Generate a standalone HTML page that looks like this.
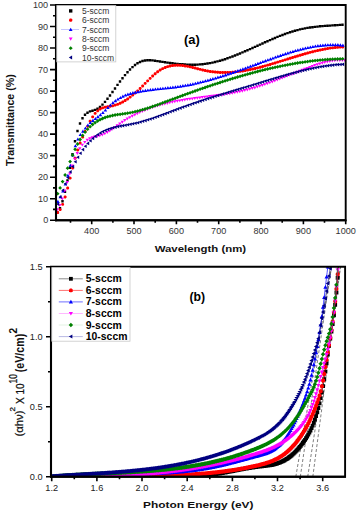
<!DOCTYPE html>
<html><head><meta charset="utf-8"><style>
html,body{margin:0;padding:0;background:#fff;width:357px;height:514px;overflow:hidden;position:relative}
svg text{font-family:"Liberation Sans",sans-serif}
</style></head><body>
<svg width="357" height="514" viewBox="0 0 357 514" style="position:absolute;left:0;top:0">
<rect width="357" height="514" fill="#fff"/>
<g clip-path="url(#ct)">
<path d="M56.3 211.2h2.4v2.4h-2.4zM58.8 207h2.4v2.4h-2.4zM61.3 200h2.4v2.4h-2.4zM63.8 190.6h2.4v2.4h-2.4zM66.3 179.3h2.4v2.4h-2.4zM68.8 166.5h2.4v2.4h-2.4zM71.3 152.9h2.4v2.4h-2.4zM73.8 140h2.4v2.4h-2.4zM76.3 129.8h2.4v2.4h-2.4zM78.8 122.3h2.4v2.4h-2.4zM81.3 117h2.4v2.4h-2.4zM83.8 113.6h2.4v2.4h-2.4zM86.3 111.5h2.4v2.4h-2.4zM88.8 110.2h2.4v2.4h-2.4zM91.3 109.5h2.4v2.4h-2.4zM93.8 108.7h2.4v2.4h-2.4zM96.3 107.5h2.4v2.4h-2.4zM98.8 105.7h2.4v2.4h-2.4zM101.3 103.4h2.4v2.4h-2.4zM103.8 100.7h2.4v2.4h-2.4zM106.3 97.6h2.4v2.4h-2.4zM108.8 94.3h2.4v2.4h-2.4zM111.3 90.8h2.4v2.4h-2.4zM113.8 87.3h2.4v2.4h-2.4zM116.3 83.7h2.4v2.4h-2.4zM118.8 80.3h2.4v2.4h-2.4zM121.3 77h2.4v2.4h-2.4zM123.8 73.9h2.4v2.4h-2.4zM126.3 71h2.4v2.4h-2.4zM128.8 68.3h2.4v2.4h-2.4zM131.3 65.9h2.4v2.4h-2.4zM133.8 63.8h2.4v2.4h-2.4zM136.3 62.1h2.4v2.4h-2.4zM138.8 60.8h2.4v2.4h-2.4zM141.3 59.8h2.4v2.4h-2.4zM143.8 59.3h2.4v2.4h-2.4zM146.3 59h2.4v2.4h-2.4zM148.8 59h2.4v2.4h-2.4zM151.3 59.2h2.4v2.4h-2.4zM153.8 59.5h2.4v2.4h-2.4zM156.3 59.9h2.4v2.4h-2.4zM158.8 60.3h2.4v2.4h-2.4zM161.3 60.7h2.4v2.4h-2.4zM163.8 61.1h2.4v2.4h-2.4zM166.3 61.4h2.4v2.4h-2.4zM168.8 61.8h2.4v2.4h-2.4zM171.3 62.1h2.4v2.4h-2.4zM173.8 62.4h2.4v2.4h-2.4zM176.3 62.7h2.4v2.4h-2.4zM178.8 62.9h2.4v2.4h-2.4zM181.3 63.1h2.4v2.4h-2.4zM183.8 63.3h2.4v2.4h-2.4zM186.3 63.4h2.4v2.4h-2.4zM188.8 63.5h2.4v2.4h-2.4zM191.3 63.5h2.4v2.4h-2.4zM193.8 63.5h2.4v2.4h-2.4zM196.3 63.4h2.4v2.4h-2.4zM198.8 63.2h2.4v2.4h-2.4zM201.3 63h2.4v2.4h-2.4zM203.8 62.7h2.4v2.4h-2.4zM206.3 62.3h2.4v2.4h-2.4zM208.8 61.9h2.4v2.4h-2.4zM211.3 61.4h2.4v2.4h-2.4zM213.8 60.8h2.4v2.4h-2.4zM216.3 60.2h2.4v2.4h-2.4zM218.8 59.5h2.4v2.4h-2.4zM221.3 58.8h2.4v2.4h-2.4zM223.8 58h2.4v2.4h-2.4zM226.3 57.1h2.4v2.4h-2.4zM228.8 56.2h2.4v2.4h-2.4zM231.3 55.3h2.4v2.4h-2.4zM233.8 54.3h2.4v2.4h-2.4zM236.3 53.3h2.4v2.4h-2.4zM238.8 52.3h2.4v2.4h-2.4zM241.3 51.2h2.4v2.4h-2.4zM243.8 50.1h2.4v2.4h-2.4zM246.3 49h2.4v2.4h-2.4zM248.8 47.9h2.4v2.4h-2.4zM251.3 46.8h2.4v2.4h-2.4zM253.8 45.7h2.4v2.4h-2.4zM256.3 44.5h2.4v2.4h-2.4zM258.8 43.4h2.4v2.4h-2.4zM261.3 42.3h2.4v2.4h-2.4zM263.8 41.1h2.4v2.4h-2.4zM266.3 40h2.4v2.4h-2.4zM268.8 38.9h2.4v2.4h-2.4zM271.3 37.8h2.4v2.4h-2.4zM273.8 36.8h2.4v2.4h-2.4zM276.3 35.7h2.4v2.4h-2.4zM278.8 34.7h2.4v2.4h-2.4zM281.3 33.8h2.4v2.4h-2.4zM283.8 32.8h2.4v2.4h-2.4zM286.3 31.9h2.4v2.4h-2.4zM288.8 31.1h2.4v2.4h-2.4zM291.3 30.3h2.4v2.4h-2.4zM293.8 29.6h2.4v2.4h-2.4zM296.3 28.9h2.4v2.4h-2.4zM298.8 28.2h2.4v2.4h-2.4zM301.3 27.7h2.4v2.4h-2.4zM303.8 27.2h2.4v2.4h-2.4zM306.3 26.7h2.4v2.4h-2.4zM308.8 26.3h2.4v2.4h-2.4zM311.3 26h2.4v2.4h-2.4zM313.8 25.7h2.4v2.4h-2.4zM316.3 25.4h2.4v2.4h-2.4zM318.8 25.1h2.4v2.4h-2.4zM321.3 24.9h2.4v2.4h-2.4zM323.8 24.7h2.4v2.4h-2.4zM326.3 24.5h2.4v2.4h-2.4zM328.8 24.4h2.4v2.4h-2.4zM331.3 24.2h2.4v2.4h-2.4zM333.8 24.1h2.4v2.4h-2.4zM336.3 23.9h2.4v2.4h-2.4zM338.8 23.7h2.4v2.4h-2.4zM341.3 23.5h2.4v2.4h-2.4z" fill="#000000"/>
<path d="M57 211.1h1.3l0.8 0.8v1.3l-0.8 0.8h-1.3l-0.8 -0.8v-1.3zM59.5 208.2h1.3l0.8 0.8v1.3l-0.8 0.8h-1.3l-0.8 -0.8v-1.3zM62 202.9h1.3l0.8 0.8v1.3l-0.8 0.8h-1.3l-0.8 -0.8v-1.3zM64.5 195.5h1.3l0.8 0.8v1.3l-0.8 0.8h-1.3l-0.8 -0.8v-1.3zM67 186.6h1.3l0.8 0.8v1.3l-0.8 0.8h-1.3l-0.8 -0.8v-1.3zM69.5 176.7h1.3l0.8 0.8v1.3l-0.8 0.8h-1.3l-0.8 -0.8v-1.3zM72 166.5h1.3l0.8 0.8v1.3l-0.8 0.8h-1.3l-0.8 -0.8v-1.3zM74.5 156.8h1.3l0.8 0.8v1.3l-0.8 0.8h-1.3l-0.8 -0.8v-1.3zM77 148.6h1.3l0.8 0.8v1.3l-0.8 0.8h-1.3l-0.8 -0.8v-1.3zM79.5 141.6h1.3l0.8 0.8v1.3l-0.8 0.8h-1.3l-0.8 -0.8v-1.3zM82 135.6h1.3l0.8 0.8v1.3l-0.8 0.8h-1.3l-0.8 -0.8v-1.3zM84.5 130.1h1.3l0.8 0.8v1.3l-0.8 0.8h-1.3l-0.8 -0.8v-1.3zM87 124.9h1.3l0.8 0.8v1.3l-0.8 0.8h-1.3l-0.8 -0.8v-1.3zM89.5 119.8h1.3l0.8 0.8v1.3l-0.8 0.8h-1.3l-0.8 -0.8v-1.3zM92 115.4h1.3l0.8 0.8v1.3l-0.8 0.8h-1.3l-0.8 -0.8v-1.3zM94.5 111.9h1.3l0.8 0.8v1.3l-0.8 0.8h-1.3l-0.8 -0.8v-1.3zM97 109.4h1.3l0.8 0.8v1.3l-0.8 0.8h-1.3l-0.8 -0.8v-1.3zM99.5 107.6h1.3l0.8 0.8v1.3l-0.8 0.8h-1.3l-0.8 -0.8v-1.3zM102 106.4h1.3l0.8 0.8v1.3l-0.8 0.8h-1.3l-0.8 -0.8v-1.3zM104.5 105.7h1.3l0.8 0.8v1.3l-0.8 0.8h-1.3l-0.8 -0.8v-1.3zM107 105.2h1.3l0.8 0.8v1.3l-0.8 0.8h-1.3l-0.8 -0.8v-1.3zM109.5 104.8h1.3l0.8 0.8v1.3l-0.8 0.8h-1.3l-0.8 -0.8v-1.3zM112 104.4h1.3l0.8 0.8v1.3l-0.8 0.8h-1.3l-0.8 -0.8v-1.3zM114.5 103.7h1.3l0.8 0.8v1.3l-0.8 0.8h-1.3l-0.8 -0.8v-1.3zM117 102.9h1.3l0.8 0.8v1.3l-0.8 0.8h-1.3l-0.8 -0.8v-1.3zM119.5 101.8h1.3l0.8 0.8v1.3l-0.8 0.8h-1.3l-0.8 -0.8v-1.3zM122 100.6h1.3l0.8 0.8v1.3l-0.8 0.8h-1.3l-0.8 -0.8v-1.3zM124.5 99.1h1.3l0.8 0.8v1.3l-0.8 0.8h-1.3l-0.8 -0.8v-1.3zM127 97.5h1.3l0.8 0.8v1.3l-0.8 0.8h-1.3l-0.8 -0.8v-1.3zM129.5 95.7h1.3l0.8 0.8v1.3l-0.8 0.8h-1.3l-0.8 -0.8v-1.3zM132 93.7h1.3l0.8 0.8v1.3l-0.8 0.8h-1.3l-0.8 -0.8v-1.3zM134.5 91.6h1.3l0.8 0.8v1.3l-0.8 0.8h-1.3l-0.8 -0.8v-1.3zM137 89.4h1.3l0.8 0.8v1.3l-0.8 0.8h-1.3l-0.8 -0.8v-1.3zM139.5 87h1.3l0.8 0.8v1.3l-0.8 0.8h-1.3l-0.8 -0.8v-1.3zM142 84.5h1.3l0.8 0.8v1.3l-0.8 0.8h-1.3l-0.8 -0.8v-1.3zM144.5 81.9h1.3l0.8 0.8v1.3l-0.8 0.8h-1.3l-0.8 -0.8v-1.3zM147 79.4h1.3l0.8 0.8v1.3l-0.8 0.8h-1.3l-0.8 -0.8v-1.3zM149.5 76.9h1.3l0.8 0.8v1.3l-0.8 0.8h-1.3l-0.8 -0.8v-1.3zM152 74.5h1.3l0.8 0.8v1.3l-0.8 0.8h-1.3l-0.8 -0.8v-1.3zM154.5 72.3h1.3l0.8 0.8v1.3l-0.8 0.8h-1.3l-0.8 -0.8v-1.3zM157 70.3h1.3l0.8 0.8v1.3l-0.8 0.8h-1.3l-0.8 -0.8v-1.3zM159.5 68.6h1.3l0.8 0.8v1.3l-0.8 0.8h-1.3l-0.8 -0.8v-1.3zM162 67.2h1.3l0.8 0.8v1.3l-0.8 0.8h-1.3l-0.8 -0.8v-1.3zM164.5 66.1h1.3l0.8 0.8v1.3l-0.8 0.8h-1.3l-0.8 -0.8v-1.3zM167 65.2h1.3l0.8 0.8v1.3l-0.8 0.8h-1.3l-0.8 -0.8v-1.3zM169.5 64.5h1.3l0.8 0.8v1.3l-0.8 0.8h-1.3l-0.8 -0.8v-1.3zM172 64.1h1.3l0.8 0.8v1.3l-0.8 0.8h-1.3l-0.8 -0.8v-1.3zM174.5 63.9h1.3l0.8 0.8v1.3l-0.8 0.8h-1.3l-0.8 -0.8v-1.3zM177 63.8h1.3l0.8 0.8v1.3l-0.8 0.8h-1.3l-0.8 -0.8v-1.3zM179.5 63.9h1.3l0.8 0.8v1.3l-0.8 0.8h-1.3l-0.8 -0.8v-1.3zM182 64.1h1.3l0.8 0.8v1.3l-0.8 0.8h-1.3l-0.8 -0.8v-1.3zM184.5 64.5h1.3l0.8 0.8v1.3l-0.8 0.8h-1.3l-0.8 -0.8v-1.3zM187 64.9h1.3l0.8 0.8v1.3l-0.8 0.8h-1.3l-0.8 -0.8v-1.3zM189.5 65.4h1.3l0.8 0.8v1.3l-0.8 0.8h-1.3l-0.8 -0.8v-1.3zM192 66h1.3l0.8 0.8v1.3l-0.8 0.8h-1.3l-0.8 -0.8v-1.3zM194.5 66.6h1.3l0.8 0.8v1.3l-0.8 0.8h-1.3l-0.8 -0.8v-1.3zM197 67.3h1.3l0.8 0.8v1.3l-0.8 0.8h-1.3l-0.8 -0.8v-1.3zM199.5 67.9h1.3l0.8 0.8v1.3l-0.8 0.8h-1.3l-0.8 -0.8v-1.3zM202 68.5h1.3l0.8 0.8v1.3l-0.8 0.8h-1.3l-0.8 -0.8v-1.3zM204.5 69.1h1.3l0.8 0.8v1.3l-0.8 0.8h-1.3l-0.8 -0.8v-1.3zM207 69.6h1.3l0.8 0.8v1.3l-0.8 0.8h-1.3l-0.8 -0.8v-1.3zM209.5 70h1.3l0.8 0.8v1.3l-0.8 0.8h-1.3l-0.8 -0.8v-1.3zM212 70.3h1.3l0.8 0.8v1.3l-0.8 0.8h-1.3l-0.8 -0.8v-1.3zM214.5 70.6h1.3l0.8 0.8v1.3l-0.8 0.8h-1.3l-0.8 -0.8v-1.3zM217 70.8h1.3l0.8 0.8v1.3l-0.8 0.8h-1.3l-0.8 -0.8v-1.3zM219.5 71h1.3l0.8 0.8v1.3l-0.8 0.8h-1.3l-0.8 -0.8v-1.3zM222 71h1.3l0.8 0.8v1.3l-0.8 0.8h-1.3l-0.8 -0.8v-1.3zM224.5 71h1.3l0.8 0.8v1.3l-0.8 0.8h-1.3l-0.8 -0.8v-1.3zM227 71h1.3l0.8 0.8v1.3l-0.8 0.8h-1.3l-0.8 -0.8v-1.3zM229.5 70.9h1.3l0.8 0.8v1.3l-0.8 0.8h-1.3l-0.8 -0.8v-1.3zM232 70.7h1.3l0.8 0.8v1.3l-0.8 0.8h-1.3l-0.8 -0.8v-1.3zM234.5 70.5h1.3l0.8 0.8v1.3l-0.8 0.8h-1.3l-0.8 -0.8v-1.3zM237 70.2h1.3l0.8 0.8v1.3l-0.8 0.8h-1.3l-0.8 -0.8v-1.3zM239.5 69.9h1.3l0.8 0.8v1.3l-0.8 0.8h-1.3l-0.8 -0.8v-1.3zM242 69.5h1.3l0.8 0.8v1.3l-0.8 0.8h-1.3l-0.8 -0.8v-1.3zM244.5 69.1h1.3l0.8 0.8v1.3l-0.8 0.8h-1.3l-0.8 -0.8v-1.3zM247 68.6h1.3l0.8 0.8v1.3l-0.8 0.8h-1.3l-0.8 -0.8v-1.3zM249.5 68.1h1.3l0.8 0.8v1.3l-0.8 0.8h-1.3l-0.8 -0.8v-1.3zM252 67.6h1.3l0.8 0.8v1.3l-0.8 0.8h-1.3l-0.8 -0.8v-1.3zM254.5 67h1.3l0.8 0.8v1.3l-0.8 0.8h-1.3l-0.8 -0.8v-1.3zM257 66.4h1.3l0.8 0.8v1.3l-0.8 0.8h-1.3l-0.8 -0.8v-1.3zM259.5 65.8h1.3l0.8 0.8v1.3l-0.8 0.8h-1.3l-0.8 -0.8v-1.3zM262 65.1h1.3l0.8 0.8v1.3l-0.8 0.8h-1.3l-0.8 -0.8v-1.3zM264.5 64.4h1.3l0.8 0.8v1.3l-0.8 0.8h-1.3l-0.8 -0.8v-1.3zM267 63.7h1.3l0.8 0.8v1.3l-0.8 0.8h-1.3l-0.8 -0.8v-1.3zM269.5 63h1.3l0.8 0.8v1.3l-0.8 0.8h-1.3l-0.8 -0.8v-1.3zM272 62.2h1.3l0.8 0.8v1.3l-0.8 0.8h-1.3l-0.8 -0.8v-1.3zM274.5 61.5h1.3l0.8 0.8v1.3l-0.8 0.8h-1.3l-0.8 -0.8v-1.3zM277 60.7h1.3l0.8 0.8v1.3l-0.8 0.8h-1.3l-0.8 -0.8v-1.3zM279.5 59.9h1.3l0.8 0.8v1.3l-0.8 0.8h-1.3l-0.8 -0.8v-1.3zM282 59.2h1.3l0.8 0.8v1.3l-0.8 0.8h-1.3l-0.8 -0.8v-1.3zM284.5 58.4h1.3l0.8 0.8v1.3l-0.8 0.8h-1.3l-0.8 -0.8v-1.3zM287 57.6h1.3l0.8 0.8v1.3l-0.8 0.8h-1.3l-0.8 -0.8v-1.3zM289.5 56.8h1.3l0.8 0.8v1.3l-0.8 0.8h-1.3l-0.8 -0.8v-1.3zM292 56h1.3l0.8 0.8v1.3l-0.8 0.8h-1.3l-0.8 -0.8v-1.3zM294.5 55.3h1.3l0.8 0.8v1.3l-0.8 0.8h-1.3l-0.8 -0.8v-1.3zM297 54.5h1.3l0.8 0.8v1.3l-0.8 0.8h-1.3l-0.8 -0.8v-1.3zM299.5 53.8h1.3l0.8 0.8v1.3l-0.8 0.8h-1.3l-0.8 -0.8v-1.3zM302 53h1.3l0.8 0.8v1.3l-0.8 0.8h-1.3l-0.8 -0.8v-1.3zM304.5 52.3h1.3l0.8 0.8v1.3l-0.8 0.8h-1.3l-0.8 -0.8v-1.3zM307 51.6h1.3l0.8 0.8v1.3l-0.8 0.8h-1.3l-0.8 -0.8v-1.3zM309.5 50.9h1.3l0.8 0.8v1.3l-0.8 0.8h-1.3l-0.8 -0.8v-1.3zM312 50.3h1.3l0.8 0.8v1.3l-0.8 0.8h-1.3l-0.8 -0.8v-1.3zM314.5 49.7h1.3l0.8 0.8v1.3l-0.8 0.8h-1.3l-0.8 -0.8v-1.3zM317 49.1h1.3l0.8 0.8v1.3l-0.8 0.8h-1.3l-0.8 -0.8v-1.3zM319.5 48.6h1.3l0.8 0.8v1.3l-0.8 0.8h-1.3l-0.8 -0.8v-1.3zM322 48h1.3l0.8 0.8v1.3l-0.8 0.8h-1.3l-0.8 -0.8v-1.3zM324.5 47.6h1.3l0.8 0.8v1.3l-0.8 0.8h-1.3l-0.8 -0.8v-1.3zM327 47.1h1.3l0.8 0.8v1.3l-0.8 0.8h-1.3l-0.8 -0.8v-1.3zM329.5 46.7h1.3l0.8 0.8v1.3l-0.8 0.8h-1.3l-0.8 -0.8v-1.3zM332 46.4h1.3l0.8 0.8v1.3l-0.8 0.8h-1.3l-0.8 -0.8v-1.3zM334.5 46.1h1.3l0.8 0.8v1.3l-0.8 0.8h-1.3l-0.8 -0.8v-1.3zM337 45.9h1.3l0.8 0.8v1.3l-0.8 0.8h-1.3l-0.8 -0.8v-1.3zM339.5 45.7h1.3l0.8 0.8v1.3l-0.8 0.8h-1.3l-0.8 -0.8v-1.3zM342 45.6h1.3l0.8 0.8v1.3l-0.8 0.8h-1.3l-0.8 -0.8v-1.3z" fill="#ff0000"/>
<path d="M57.9 199.8L59.7 202.9H56.1zM60.4 195L62.2 198.2H58.6zM62.9 189.4L64.7 192.6H61.1zM65.4 182.4L67.2 185.5H63.6zM67.9 173.7L69.7 176.8H66.1zM70.4 163.7L72.2 166.8H68.6zM72.9 153.3L74.7 156.5H71.1zM75.4 144.2L77.2 147.3H73.6zM77.9 137.4L79.7 140.5H76.1zM80.4 132.9L82.2 136H78.6zM82.9 129.6L84.7 132.7H81.1zM85.4 126.5L87.2 129.6H83.6zM87.9 123.5L89.7 126.6H86.1zM90.4 120.9L92.2 124.1H88.6zM92.9 118.8L94.7 121.9H91.1zM95.4 116.9L97.2 120H93.6zM97.9 115.1L99.7 118.2H96.1zM100.4 113.1L102.2 116.3H98.6zM102.9 110.9L104.7 114.1H101.1zM105.4 108.5L107.2 111.6H103.6zM107.9 106L109.7 109.1H106.1zM110.4 103.5L112.2 106.6H108.6zM112.9 101.1L114.7 104.3H111.1zM115.4 99.1L117.2 102.2H113.6zM117.9 97.4L119.7 100.5H116.1zM120.4 95.9L122.2 99H118.6zM122.9 94.6L124.7 97.7H121.1zM125.4 93.5L127.2 96.6H123.6zM127.9 92.6L129.7 95.7H126.1zM130.4 91.8L132.2 94.9H128.6zM132.9 91.1L134.7 94.3H131.1zM135.4 90.6L137.2 93.7H133.6zM137.9 90.1L139.7 93.2H136.1zM140.4 89.6L142.2 92.7H138.6zM142.9 89.2L144.7 92.3H141.1zM145.4 88.8L147.2 91.9H143.6zM147.9 88.4L149.7 91.5H146.1zM150.4 88.1L152.2 91.2H148.6zM152.9 87.8L154.7 90.9H151.1zM155.4 87.5L157.2 90.6H153.6zM157.9 87.2L159.7 90.3H156.1zM160.4 86.9L162.2 90.1H158.6zM162.9 86.7L164.7 89.8H161.1zM165.4 86.4L167.2 89.5H163.6zM167.9 86.1L169.7 89.3H166.1zM170.4 85.9L172.2 89H168.6zM172.9 85.6L174.7 88.7H171.1zM175.4 85.2L177.2 88.4H173.6zM177.9 84.9L179.7 88H176.1zM180.4 84.5L182.2 87.7H178.6zM182.9 84.1L184.7 87.3H181.1zM185.4 83.7L187.2 86.8H183.6zM187.9 83.2L189.7 86.4H186.1zM190.4 82.7L192.2 85.9H188.6zM192.9 82.2L194.7 85.4H191.1zM195.4 81.7L197.2 84.8H193.6zM197.9 81.1L199.7 84.2H196.1zM200.4 80.5L202.2 83.6H198.6zM202.9 79.9L204.7 83H201.1zM205.4 79.2L207.2 82.3H203.6zM207.9 78.5L209.7 81.7H206.1zM210.4 77.8L212.2 81H208.6zM212.9 77.1L214.7 80.3H211.1zM215.4 76.4L217.2 79.5H213.6zM217.9 75.6L219.7 78.8H216.1zM220.4 74.9L222.2 78H218.6zM222.9 74.1L224.7 77.2H221.1zM225.4 73.3L227.2 76.4H223.6zM227.9 72.4L229.7 75.6H226.1zM230.4 71.6L232.2 74.7H228.6zM232.9 70.8L234.7 73.9H231.1zM235.4 69.9L237.2 73H233.6zM237.9 69L239.7 72.2H236.1zM240.4 68.2L242.2 71.3H238.6zM242.9 67.3L244.7 70.4H241.1zM245.4 66.4L247.2 69.5H243.6zM247.9 65.5L249.7 68.6H246.1zM250.4 64.6L252.2 67.7H248.6zM252.9 63.7L254.7 66.8H251.1zM255.4 62.7L257.2 65.9H253.6zM257.9 61.8L259.7 65H256.1zM260.4 60.9L262.2 64H258.6zM262.9 60L264.7 63.1H261.1zM265.4 59.1L267.2 62.2H263.6zM267.9 58.2L269.7 61.3H266.1zM270.4 57.3L272.2 60.4H268.6zM272.9 56.4L274.7 59.5H271.1zM275.4 55.5L277.2 58.6H273.6zM277.9 54.6L279.7 57.7H276.1zM280.4 53.7L282.2 56.9H278.6zM282.9 52.9L284.7 56H281.1zM285.4 52.1L287.2 55.2H283.6zM287.9 51.3L289.7 54.4H286.1zM290.4 50.5L292.2 53.6H288.6zM292.9 49.7L294.7 52.9H291.1zM295.4 49L297.2 52.1H293.6zM297.9 48.3L299.7 51.5H296.1zM300.4 47.7L302.2 50.8H298.6zM302.9 47L304.7 50.2H301.1zM305.4 46.4L307.2 49.6H303.6zM307.9 45.9L309.7 49H306.1zM310.4 45.4L312.2 48.5H308.6zM312.9 44.9L314.7 48.1H311.1zM315.4 44.5L317.2 47.6H313.6zM317.9 44.1L319.7 47.3H316.1zM320.4 43.8L322.2 46.9H318.6zM322.9 43.5L324.7 46.7H321.1zM325.4 43.3L327.2 46.5H323.6zM327.9 43.2L329.7 46.3H326.1zM330.4 43.1L332.2 46.2H328.6zM332.9 43L334.7 46.2H331.1zM335.4 43.1L337.2 46.2H333.6zM337.9 43.1L339.7 46.3H336.1zM340.4 43.3L342.2 46.4H338.6zM342.9 43.5L344.7 46.7H341.1z" fill="#0000ff"/>
<path d="M57.3 211.3L59 208.3H55.6zM59.8 206.9L61.5 204H58.1zM62.3 200.4L64 197.5H60.6zM64.8 192.5L66.5 189.6H63.1zM67.3 184L69 181H65.6zM69.8 175.4L71.5 172.5H68.1zM72.3 167.5L74 164.5H70.6zM74.8 160.6L76.5 157.7H73.1zM77.3 154.9L79 152H75.6zM79.8 150.3L81.5 147.3H78.1zM82.3 146.6L84 143.7H80.6zM84.8 143.8L86.5 140.9H83.1zM87.3 141.7L89 138.8H85.6zM89.8 140.3L91.5 137.3H88.1zM92.3 139.2L94 136.3H90.6zM94.8 138.5L96.5 135.5H93.1zM97.3 137.9L99 134.9H95.6zM99.8 137.2L101.5 134.3H98.1zM102.3 136.4L104 133.5H100.6zM104.8 135.3L106.5 132.4H103.1zM107.3 134L109 131H105.6zM109.8 132.4L111.5 129.5H108.1zM112.3 130.7L114 127.8H110.6zM114.8 129L116.5 126H113.1zM117.3 127.2L119 124.2H115.6zM119.8 125.4L121.5 122.5H118.1zM122.3 123.7L124 120.8H120.6zM124.8 122.1L126.5 119.1H123.1zM127.3 120.6L129 117.6H125.6zM129.8 119.1L131.5 116.2H128.1zM132.3 117.7L134 114.8H130.6zM134.8 116.4L136.5 113.5H133.1zM137.3 115.2L139 112.2H135.6zM139.8 114L141.5 111.1H138.1zM142.3 112.9L144 110H140.6zM144.8 111.9L146.5 108.9H143.1zM147.3 110.9L149 107.9H145.6zM149.8 110L151.5 107H148.1zM152.3 109.1L154 106.2H150.6zM154.8 108.3L156.5 105.3H153.1zM157.3 107.5L159 104.6H155.6zM159.8 106.8L161.5 103.8H158.1zM162.3 106.1L164 103.2H160.6zM164.8 105.5L166.5 102.5H163.1zM167.3 104.9L169 101.9H165.6zM169.8 104.3L171.5 101.3H168.1zM172.3 103.7L174 100.8H170.6zM174.8 103.2L176.5 100.3H173.1zM177.3 102.8L179 99.8H175.6zM179.8 102.3L181.5 99.4H178.1zM182.3 101.9L184 98.9H180.6zM184.8 101.5L186.5 98.5H183.1zM187.3 101.1L189 98.1H185.6zM189.8 100.7L191.5 97.8H188.1zM192.3 100.4L194 97.4H190.6zM194.8 100L196.5 97.1H193.1zM197.3 99.7L199 96.7H195.6zM199.8 99.4L201.5 96.4H198.1zM202.3 99L204 96.1H200.6zM204.8 98.7L206.5 95.8H203.1zM207.3 98.4L209 95.4H205.6zM209.8 98.1L211.5 95.1H208.1zM212.3 97.7L214 94.8H210.6zM214.8 97.4L216.5 94.5H213.1zM217.3 97.1L219 94.1H215.6zM219.8 96.7L221.5 93.8H218.1zM222.3 96.4L224 93.4H220.6zM224.8 96L226.5 93H223.1zM227.3 95.6L229 92.6H225.6zM229.8 95.2L231.5 92.2H228.1zM232.3 94.7L234 91.8H230.6zM234.8 94.3L236.5 91.3H233.1zM237.3 93.8L239 90.8H235.6zM239.8 93.2L241.5 90.3H238.1zM242.3 92.7L244 89.7H240.6zM244.8 92.1L246.5 89.1H243.1zM247.3 91.5L249 88.5H245.6zM249.8 90.8L251.5 87.8H248.1zM252.3 90.1L254 87.1H250.6zM254.8 89.4L256.5 86.4H253.1zM257.3 88.6L259 85.6H255.6zM259.8 87.8L261.5 84.8H258.1zM262.3 87L264 84H260.6zM264.8 86.1L266.5 83.2H263.1zM267.3 85.2L269 82.3H265.6zM269.8 84.3L271.5 81.4H268.1zM272.3 83.4L274 80.5H270.6zM274.8 82.5L276.5 79.5H273.1zM277.3 81.5L279 78.6H275.6zM279.8 80.6L281.5 77.6H278.1zM282.3 79.6L284 76.6H280.6zM284.8 78.6L286.5 75.7H283.1zM287.3 77.6L289 74.7H285.6zM289.8 76.6L291.5 73.7H288.1zM292.3 75.6L294 72.7H290.6zM294.8 74.7L296.5 71.7H293.1zM297.3 73.7L299 70.7H295.6zM299.8 72.7L301.5 69.7H298.1zM302.3 71.7L304 68.8H300.6zM304.8 70.8L306.5 67.8H303.1zM307.3 69.8L309 66.9H305.6zM309.8 68.9L311.5 65.9H308.1zM312.3 68L314 65H310.6zM314.8 67.1L316.5 64.1H313.1zM317.3 66.2L319 63.3H315.6zM319.8 65.4L321.5 62.5H318.1zM322.3 64.7L324 61.8H320.6zM324.8 64L326.5 61.1H323.1zM327.3 63.5L329 60.5H325.6zM329.8 62.9L331.5 60H328.1zM332.3 62.5L334 59.6H330.6zM334.8 62.2L336.5 59.2H333.1zM337.3 62L339 59H335.6zM339.8 61.9L341.5 58.9H338.1zM342.3 61.9L344 59H340.6zM344.8 62.1L346.5 59.1H343.1z" fill="#ff00ff"/>
<path d="M57.6 191.8L59.5 193.7L57.6 195.5L55.7 193.7zM60.1 186L62 187.9L60.1 189.8L58.2 187.9zM62.6 179.7L64.5 181.6L62.6 183.5L60.7 181.6zM65.1 173.1L67 175L65.1 176.9L63.2 175zM67.6 166.3L69.5 168.2L67.6 170.1L65.7 168.2zM70.1 159.7L72 161.6L70.1 163.5L68.2 161.6zM72.6 153.3L74.5 155.2L72.6 157.1L70.7 155.2zM75.1 147.4L77 149.3L75.1 151.2L73.2 149.3zM77.6 142.1L79.5 144L77.6 145.9L75.7 144zM80.1 137.6L82 139.5L80.1 141.4L78.2 139.5zM82.6 133.6L84.5 135.5L82.6 137.4L80.7 135.5zM85.1 130.2L87 132.1L85.1 134L83.2 132.1zM87.6 127.3L89.5 129.2L87.6 131.1L85.7 129.2zM90.1 124.8L92 126.7L90.1 128.6L88.2 126.7zM92.6 122.6L94.5 124.5L92.6 126.4L90.7 124.5zM95.1 120.8L97 122.7L95.1 124.6L93.2 122.7zM97.6 119.1L99.5 121L97.6 122.9L95.7 121zM100.1 117.8L102 119.7L100.1 121.6L98.2 119.7zM102.6 116.6L104.5 118.5L102.6 120.4L100.7 118.5zM105.1 115.6L107 117.5L105.1 119.4L103.2 117.5zM107.6 114.8L109.5 116.7L107.6 118.6L105.7 116.7zM110.1 114.2L112 116.1L110.1 118L108.2 116.1zM112.6 113.6L114.5 115.5L112.6 117.4L110.7 115.5zM115.1 113.1L117 115L115.1 116.9L113.2 115zM117.6 112.7L119.5 114.6L117.6 116.5L115.7 114.6zM120.1 112.4L122 114.3L120.1 116.2L118.2 114.3zM122.6 112L124.5 113.9L122.6 115.8L120.7 113.9zM125.1 111.7L127 113.6L125.1 115.5L123.2 113.6zM127.6 111.3L129.5 113.2L127.6 115.1L125.7 113.2zM130.1 110.9L132 112.8L130.1 114.6L128.2 112.8zM132.6 110.4L134.5 112.3L132.6 114.1L130.7 112.3zM135.1 109.8L137 111.7L135.1 113.6L133.2 111.7zM137.6 109.2L139.5 111.1L137.6 113L135.7 111.1zM140.1 108.5L142 110.4L140.1 112.3L138.2 110.4zM142.6 107.8L144.5 109.7L142.6 111.6L140.7 109.7zM145.1 107.1L147 109L145.1 110.9L143.2 109zM147.6 106.3L149.5 108.2L147.6 110.1L145.7 108.2zM150.1 105.5L152 107.4L150.1 109.3L148.2 107.4zM152.6 104.6L154.5 106.5L152.6 108.4L150.7 106.5zM155.1 103.8L157 105.7L155.1 107.6L153.2 105.7zM157.6 102.9L159.5 104.8L157.6 106.7L155.7 104.8zM160.1 102L162 103.9L160.1 105.8L158.2 103.9zM162.6 101L164.5 102.9L162.6 104.8L160.7 102.9zM165.1 100.1L167 102L165.1 103.9L163.2 102zM167.6 99.2L169.5 101.1L167.6 103L165.7 101.1zM170.1 98.2L172 100.1L170.1 102L168.2 100.1zM172.6 97.3L174.5 99.2L172.6 101.1L170.7 99.2zM175.1 96.4L177 98.3L175.1 100.2L173.2 98.3zM177.6 95.4L179.5 97.3L177.6 99.2L175.7 97.3zM180.1 94.5L182 96.4L180.1 98.3L178.2 96.4zM182.6 93.6L184.5 95.5L182.6 97.4L180.7 95.5zM185.1 92.7L187 94.6L185.1 96.5L183.2 94.6zM187.6 91.8L189.5 93.7L187.6 95.6L185.7 93.7zM190.1 90.9L192 92.8L190.1 94.7L188.2 92.8zM192.6 90L194.5 91.9L192.6 93.8L190.7 91.9zM195.1 89.1L197 91L195.1 92.9L193.2 91zM197.6 88.2L199.5 90.1L197.6 92L195.7 90.1zM200.1 87.3L202 89.2L200.1 91.1L198.2 89.2zM202.6 86.5L204.5 88.3L202.6 90.2L200.7 88.3zM205.1 85.6L207 87.5L205.1 89.4L203.2 87.5zM207.6 84.7L209.5 86.6L207.6 88.5L205.7 86.6zM210.1 83.9L212 85.8L210.1 87.7L208.2 85.8zM212.6 83L214.5 84.9L212.6 86.8L210.7 84.9zM215.1 82.2L217 84.1L215.1 86L213.2 84.1zM217.6 81.4L219.5 83.3L217.6 85.2L215.7 83.3zM220.1 80.6L222 82.5L220.1 84.4L218.2 82.5zM222.6 79.8L224.5 81.7L222.6 83.6L220.7 81.7zM225.1 79L227 80.9L225.1 82.8L223.2 80.9zM227.6 78.2L229.5 80.1L227.6 82L225.7 80.1zM230.1 77.4L232 79.3L230.1 81.2L228.2 79.3zM232.6 76.6L234.5 78.5L232.6 80.4L230.7 78.5zM235.1 75.9L237 77.8L235.1 79.7L233.2 77.8zM237.6 75.1L239.5 77L237.6 78.9L235.7 77zM240.1 74.4L242 76.3L240.1 78.2L238.2 76.3zM242.6 73.7L244.5 75.6L242.6 77.5L240.7 75.6zM245.1 73L247 74.9L245.1 76.8L243.2 74.9zM247.6 72.3L249.5 74.2L247.6 76.1L245.7 74.2zM250.1 71.6L252 73.5L250.1 75.4L248.2 73.5zM252.6 70.9L254.5 72.8L252.6 74.7L250.7 72.8zM255.1 70.3L257 72.2L255.1 74L253.2 72.2zM257.6 69.6L259.5 71.5L257.6 73.4L255.7 71.5zM260.1 69L262 70.9L260.1 72.8L258.2 70.9zM262.6 68.3L264.5 70.2L262.6 72.1L260.7 70.2zM265.1 67.7L267 69.6L265.1 71.5L263.2 69.6zM267.6 67.1L269.5 69L267.6 70.9L265.7 69zM270.1 66.5L272 68.4L270.1 70.3L268.2 68.4zM272.6 66L274.5 67.9L272.6 69.8L270.7 67.9zM275.1 65.4L277 67.3L275.1 69.2L273.2 67.3zM277.6 64.9L279.5 66.8L277.6 68.7L275.7 66.8zM280.1 64.4L282 66.3L280.1 68.2L278.2 66.3zM282.6 63.9L284.5 65.8L282.6 67.6L280.7 65.8zM285.1 63.4L287 65.3L285.1 67.2L283.2 65.3zM287.6 62.9L289.5 64.8L287.6 66.7L285.7 64.8zM290.1 62.4L292 64.3L290.1 66.2L288.2 64.3zM292.6 62L294.5 63.9L292.6 65.8L290.7 63.9zM295.1 61.5L297 63.4L295.1 65.3L293.2 63.4zM297.6 61.1L299.5 63L297.6 64.9L295.7 63zM300.1 60.7L302 62.6L300.1 64.5L298.2 62.6zM302.6 60.4L304.5 62.3L302.6 64.2L300.7 62.3zM305.1 60L307 61.9L305.1 63.8L303.2 61.9zM307.6 59.7L309.5 61.6L307.6 63.5L305.7 61.6zM310.1 59.3L312 61.2L310.1 63.1L308.2 61.2zM312.6 59L314.5 60.9L312.6 62.8L310.7 60.9zM315.1 58.8L317 60.6L315.1 62.5L313.2 60.6zM317.6 58.5L319.5 60.4L317.6 62.3L315.7 60.4zM320.1 58.2L322 60.1L320.1 62L318.2 60.1zM322.6 58L324.5 59.9L322.6 61.8L320.7 59.9zM325.1 57.8L327 59.7L325.1 61.6L323.2 59.7zM327.6 57.6L329.5 59.5L327.6 61.4L325.7 59.5zM330.1 57.4L332 59.3L330.1 61.2L328.2 59.3zM332.6 57.3L334.5 59.2L332.6 61.1L330.7 59.2zM335.1 57.2L337 59.1L335.1 61L333.2 59.1zM337.6 57.1L339.5 59L337.6 60.9L335.7 59zM340.1 57L342 58.9L340.1 60.8L338.2 58.9zM342.6 56.9L344.5 58.8L342.6 60.7L340.7 58.8z" fill="#008000"/>
<path d="M56.1 204.1L59.2 202.3V205.9zM58.6 197L61.7 195.2V198.8zM61.1 190.2L64.2 188.4V192zM63.6 183.7L66.7 181.9V185.6zM66.1 177.6L69.2 175.8V179.5zM68.6 171.9L71.7 170.1V173.8zM71.1 166.6L74.2 164.8V168.4zM73.6 161.7L76.7 159.9V163.6zM76.1 157.3L79.2 155.5V159.1zM78.6 153.2L81.7 151.4V155.1zM81.1 149.6L84.2 147.8V151.4zM83.6 146.3L86.7 144.5V148.1zM86.1 143.4L89.2 141.5V145.2zM88.6 140.7L91.7 138.9V142.5zM91.1 138.4L94.2 136.6V140.2zM93.6 136.3L96.7 134.5V138.2zM96.1 134.5L99.2 132.7V136.4zM98.6 133L101.7 131.1V134.8zM101.1 131.6L104.2 129.8V133.4zM103.6 130.4L106.7 128.6V132.2zM106.1 129.4L109.2 127.6V131.2zM108.6 128.5L111.7 126.7V130.4zM111.1 127.8L114.2 126V129.6zM113.6 127.2L116.7 125.3V129zM116.1 126.6L119.2 124.8V128.4zM118.6 126.1L121.7 124.3V127.9zM121.1 125.7L124.2 123.8V127.5zM123.6 125.2L126.7 123.4V127zM126.1 124.8L129.2 123V126.6zM128.6 124.3L131.7 122.5V126.1zM131.1 123.8L134.2 122V125.6zM133.6 123.3L136.7 121.5V125.1zM136.1 122.7L139.2 120.9V124.5zM138.6 122L141.7 120.2V123.8zM141.1 121.3L144.2 119.5V123.1zM143.6 120.6L146.7 118.8V122.4zM146.1 119.8L149.2 118V121.6zM148.6 119L151.7 117.2V120.8zM151.1 118.2L154.2 116.4V120zM153.6 117.3L156.7 115.5V119.1zM156.1 116.4L159.2 114.6V118.2zM158.6 115.5L161.7 113.7V117.3zM161.1 114.6L164.2 112.8V116.4zM163.6 113.7L166.7 111.8V115.5zM166.1 112.7L169.2 110.9V114.5zM168.6 111.8L171.7 110V113.6zM171.1 110.8L174.2 109V112.7zM173.6 109.9L176.7 108.1V111.7zM176.1 109L179.2 107.1V110.8zM178.6 108L181.7 106.2V109.9zM181.1 107.1L184.2 105.3V108.9zM183.6 106.2L186.7 104.4V108zM186.1 105.3L189.2 103.5V107.2zM188.6 104.5L191.7 102.7V106.3zM191.1 103.6L194.2 101.8V105.4zM193.6 102.8L196.7 100.9V104.6zM196.1 101.9L199.2 100.1V103.7zM198.6 101.1L201.7 99.3V102.9zM201.1 100.3L204.2 98.4V102.1zM203.6 99.4L206.7 97.6V101.3zM206.1 98.6L209.2 96.8V100.5zM208.6 97.8L211.7 96V99.7zM211.1 97L214.2 95.2V98.9zM213.6 96.3L216.7 94.5V98.1zM216.1 95.5L219.2 93.7V97.3zM218.6 94.7L221.7 92.9V96.5zM221.1 93.9L224.2 92.1V95.8zM223.6 93.2L226.7 91.4V95zM226.1 92.4L229.2 90.6V94.2zM228.6 91.7L231.7 89.8V93.5zM231.1 90.9L234.2 89.1V92.7zM233.6 90.2L236.7 88.3V92zM236.1 89.4L239.2 87.6V91.2zM238.6 88.7L241.7 86.8V90.5zM241.1 87.9L244.2 86.1V89.7zM243.6 87.2L246.7 85.4V89zM246.1 86.4L249.2 84.6V88.2zM248.6 85.7L251.7 83.9V87.5zM251.1 84.9L254.2 83.1V86.7zM253.6 84.2L256.7 82.4V86zM256.1 83.4L259.2 81.6V85.2zM258.6 82.7L261.7 80.8V84.5zM261.1 81.9L264.2 80.1V83.7zM263.6 81.1L266.7 79.3V83zM266.1 80.4L269.2 78.6V82.2zM268.6 79.6L271.7 77.8V81.4zM271.1 78.9L274.2 77V80.7zM273.6 78.1L276.7 76.3V79.9zM276.1 77.4L279.2 75.5V79.2zM278.6 76.6L281.7 74.8V78.4zM281.1 75.9L284.2 74.1V77.7zM283.6 75.2L286.7 73.3V77zM286.1 74.4L289.2 72.6V76.3zM288.6 73.7L291.7 71.9V75.6zM291.1 73.1L294.2 71.2V74.9zM293.6 72.4L296.7 70.6V74.2zM296.1 71.7L299.2 69.9V73.5zM298.6 71.1L301.7 69.3V72.9zM301.1 70.5L304.2 68.7V72.3zM303.6 69.9L306.7 68.1V71.7zM306.1 69.3L309.2 67.5V71.1zM308.6 68.8L311.7 66.9V70.6zM311.1 68.2L314.2 66.4V70zM313.6 67.7L316.7 65.9V69.5zM316.1 67.3L319.2 65.4V69.1zM318.6 66.8L321.7 65V68.6zM321.1 66.4L324.2 64.6V68.2zM323.6 66L326.7 64.2V67.8zM326.1 65.7L329.2 63.8V67.5zM328.6 65.3L331.7 63.5V67.2zM331.1 65.1L334.2 63.3V66.9zM333.6 64.8L336.7 63V66.6zM336.1 64.6L339.2 62.8V66.4zM338.6 64.5L341.7 62.7V66.3zM341.1 64.3L344.2 62.5V66.2z" fill="#000080"/>
</g>
<path d="M56 5H345.7V220.2H56z" fill="none" stroke="#000" stroke-width="1.9"/>
<path d="M56 4.2V221.2" stroke="#000" stroke-width="2.1"/>
<path d="M55 220.2H346.4" stroke="#000" stroke-width="2.1"/>
<path d="M50 220.2H56M53 209.4H56M50 198.7H56M53 187.9H56M50 177.2H56M53 166.4H56M50 155.6H56M53 144.9H56M50 134.1H56M53 123.4H56M50 112.6H56M53 101.8H56M50 91.1H56M53 80.3H56M50 69.6H56M53 58.8H56M50 48H56M53 37.3H56M50 26.5H56M53 15.8H56M50 5H56M70.5 220.2V222.7M91.7 220.2V224.2M112.9 220.2V222.7M134 220.2V224.2M155.2 220.2V222.7M176.4 220.2V224.2M197.5 220.2V222.7M218.7 220.2V224.2M239.9 220.2V222.7M261 220.2V224.2M282.2 220.2V222.7M303.4 220.2V224.2M324.5 220.2V222.7M345.7 220.2V224.2" stroke="#000" stroke-width="1.6"/>
<g font-family="Liberation Sans, sans-serif" font-size="9.1" fill="#333"><text x="48.2" y="223.4" text-anchor="end">0</text><text x="48.2" y="201.9" text-anchor="end">10</text><text x="48.2" y="180.4" text-anchor="end">20</text><text x="48.2" y="158.8" text-anchor="end">30</text><text x="48.2" y="137.3" text-anchor="end">40</text><text x="48.2" y="115.8" text-anchor="end">50</text><text x="48.2" y="94.3" text-anchor="end">60</text><text x="48.2" y="72.8" text-anchor="end">70</text><text x="48.2" y="51.2" text-anchor="end">80</text><text x="48.2" y="29.7" text-anchor="end">90</text><text x="48.2" y="8.2" text-anchor="end">100</text><text x="91.7" y="233.5" text-anchor="middle">400</text><text x="134" y="233.5" text-anchor="middle">500</text><text x="176.4" y="233.5" text-anchor="middle">600</text><text x="218.7" y="233.5" text-anchor="middle">700</text><text x="261" y="233.5" text-anchor="middle">800</text><text x="303.4" y="233.5" text-anchor="middle">900</text><text x="345.7" y="233.5" text-anchor="middle">1000</text></g>
<rect x="56.8" y="5.6" width="59" height="56.3" fill="#fff" stroke="#c8c8c8" stroke-width="0.8"/>
<g font-family="Liberation Sans, sans-serif" font-size="8.5"><path d="M69 9.2h3.4v3.4h-3.4z" fill="#000000"/><text x="82" y="13.9" fill="#333">5-sccm</text><path d="M69.9 18.5h1.5l0.9 0.9v1.5l-0.9 0.9h-1.5l-0.9 -0.9v-1.5z" fill="#ff0000"/><text x="82" y="23.2" fill="#333">6-sccm</text><path d="M61 29.5H79" stroke="#b8b8ff" stroke-width="0.8"/><path d="M70.7 27.7L72.6 30.9H68.8z" fill="#0000ff"/><text x="82" y="32.5" fill="#333">7-sccm</text><path d="M70.7 40.7L72.6 37.5H68.8z" fill="#ff00ff"/><text x="82" y="41.9" fill="#333">8-sccm</text><path d="M70.7 46.2L72.7 48.2L70.7 50.1L68.7 48.2z" fill="#008000"/><text x="82" y="51.2" fill="#333">9-sccm</text><path d="M68.8 57.5L72.1 55.6V59.4z" fill="#000080"/><text x="82" y="60.5" fill="#333">10-sccm</text></g>
<text x="184" y="44" font-family="Liberation Sans, sans-serif" font-weight="bold" font-size="13" textLength="15.8" lengthAdjust="spacingAndGlyphs">(a)</text>
<text x="154.7" y="251.8" font-family="Liberation Sans, sans-serif" font-weight="bold" font-size="9.9" textLength="91.4" lengthAdjust="spacingAndGlyphs" fill="#111">Wavelength (nm)</text>
<text transform="translate(14.1 165.9) rotate(-90)" font-family="Liberation Sans, sans-serif" font-weight="bold" font-size="11.4" textLength="91.7" lengthAdjust="spacingAndGlyphs" fill="#111">Transmittance (%)</text>
<g clip-path="url(#cb)">
<path d="M295.8 476.8L331.5 266.8M300.3 476.8L331.5 266.8M307.7 476.8L340.5 266.8M312.8 476.8L340.5 266.8" stroke="#555" stroke-width="0.75" stroke-dasharray="3 2" fill="none"/>
<path d="M51 477.3 51.7 477.2 52.4 477.1 53.2 477 53.9 476.9 54.6 476.8 55.3 476.7 56 476.7 56.8 476.6 57.5 476.5 58.2 476.4 58.9 476.3 59.6 476.3 60.4 476.2 61.1 476.1 61.8 476 62.5 476 63.2 475.9 64 475.8 64.7 475.8 65.4 475.7 66.1 475.7 66.9 475.6 67.6 475.5 68.3 475.5 69 475.4 69.7 475.4 70.5 475.3 71.2 475.3 71.9 475.3 72.6 475.2 73.3 475.2 74.1 475.1 74.8 475.1 75.5 475.1 76.2 475 76.9 475 77.7 475 78.4 474.9 79.1 474.9 79.8 474.9 80.5 474.9 81.3 474.9 82 474.8 82.7 474.8 83.4 474.8 84.1 474.8 84.9 474.8 85.6 474.8 86.3 474.7 87 474.7 87.7 474.7 88.5 474.7 89.2 474.7 89.9 474.7 90.6 474.7 91.4 474.7 92.1 474.7 92.8 474.7 93.5 474.7 94.2 474.7 95 474.7 95.7 474.7 96.4 474.7 97.1 474.7 97.8 474.7 98.6 474.7 99.3 474.7 100 474.8 100.7 474.8 101.4 474.8 102.2 474.8 102.9 474.8 103.6 474.8 104.3 474.8 105 474.9 105.8 474.9 106.5 474.9 107.2 474.9 107.9 474.9 108.6 474.9 109.4 475 110.1 475 110.8 475 111.5 475 112.2 475.1 113 475.1 113.7 475.1 114.4 475.1 115.1 475.2 115.8 475.2 116.6 475.2 117.3 475.2 118 475.3 118.7 475.3 119.5 475.3 120.2 475.4 120.9 475.4 121.6 475.4 122.3 475.4 123.1 475.5 123.8 475.5 124.5 475.5 125.2 475.6 125.9 475.6 126.7 475.6 127.4 475.7 128.1 475.7 128.8 475.7 129.5 475.8 130.3 475.8 131 475.8 131.7 475.9 132.4 475.9 133.1 475.9 133.9 476 134.6 476 135.3 476 136 476 136.7 476.1 137.5 476.1 138.2 476.1 138.9 476.2 139.6 476.2 140.3 476.2 141.1 476.3 141.8 476.3 142.5 476.3 143.2 476.4 144 476.4 144.7 476.4 145.4 476.4 146.1 476.5 146.8 476.5 147.6 476.5 148.3 476.6 149 476.6 149.7 476.6 150.4 476.6 151.2 476.7 151.9 476.7 152.6 476.7 153.3 476.7 154 476.8 154.8 476.8 155.5 476.8 156.2 476.8 156.9 476.8 157.6 476.9 158.4 476.9 159.1 476.9 159.8 476.9 160.5 476.9 161.2 476.9 162 477 162.7 477 163.4 477 164.1 477 164.8 477 165.6 477 166.3 477 167 477 167.7 477 168.4 477 169.2 477 169.9 477.1 170.6 477.1 171.3 477.1 172.1 477.1 172.8 477.1 173.5 477.1 174.2 477 174.9 477 175.7 477 176.4 477 177.1 477 177.8 477 178.5 477 179.3 477 180 477 180.7 477 181.4 476.9 182.1 476.9 182.9 476.9 183.6 476.9 184.3 476.9 185 476.8 185.7 476.8 186.5 476.8 187.2 476.8 187.9 476.7 188.6 476.7 189.3 476.7 190.1 476.6 190.8 476.6 191.5 476.5 192.2 476.5 192.9 476.5 193.7 476.4 194.4 476.4 195.1 476.3 195.8 476.3 196.6 476.2 197.3 476.2 198 476.1 198.7 476 199.4 476 200.2 475.9 200.9 475.9 201.6 475.8 202.3 475.7 203 475.7 203.8 475.6 204.5 475.5 205.2 475.4 205.9 475.4 206.6 475.3 207.4 475.2 208.1 475.1 208.8 475 209.5 474.9 210.2 474.8 211 474.7 211.7 474.7 212.4 474.6 213.1 474.5 213.8 474.3 214.6 474.2 215.3 474.1 216 474 216.7 473.9 217.4 473.8 218.2 473.7 218.9 473.6 219.6 473.4 220.3 473.3 221.1 473.2 221.8 473.1 222.5 472.9 223.2 472.8 223.9 472.7 224.7 472.5 225.4 472.4 226.1 472.3 226.8 472.1 227.5 472 228.3 471.9 229 471.7 229.7 471.6 230.4 471.4 231.1 471.3 231.9 471.2 232.6 471 233.3 470.9 234 470.7 234.7 470.6 235.5 470.5 236.2 470.3 236.9 470.2 237.6 470 238.3 469.9 239.1 469.8 239.8 469.6 240.5 469.5 241.2 469.4 241.9 469.2 242.7 469.1 243.4 469 244.1 468.8 244.8 468.7 245.5 468.6 246.3 468.5 247 468.3 247.7 468.2 248.4 468.1 249.2 468 249.9 467.9 250.6 467.7 251.3 467.6 252 467.5 252.8 467.4 253.5 467.3 254.2 467.2 254.9 467.1 255.6 467 256.4 466.9 257.1 466.8 257.8 466.8 258.5 466.7 259.2 466.6 260 466.5 260.7 466.4 261.4 466.3 262.1 466.3 262.8 466.2 263.6 466.1 264.3 466 265 465.9 265.7 465.8 266.4 465.7 267.2 465.6 267.9 465.5 268.6 465.4 269.3 465.3 270 465.2 270.8 465.1 271.5 464.9 272.2 464.8 272.9 464.6 273.7 464.4 274.4 464.3 275.1 464.1 275.8 463.9 276.5 463.6 277.3 463.4 278 463.2 278.7 462.9 279.4 462.7 280.1 462.4 280.9 462.1 281.6 461.7 282.3 461.4 283 461.1 283.7 460.7 284.5 460.3 285.2 459.9 285.9 459.5 286.6 459 287.3 458.5 288.1 458.1 288.8 457.5 289.5 457 290.2 456.5 290.9 455.9 291.7 455.3 292.4 454.7 293.1 454 293.8 453.4 294.5 452.7 295.3 452 296 451.2 296.7 450.5 297.4 449.7 298.1 448.9 298.9 448 299.6 447.2 300.3 446.3 301 445.4 301.8 444.4 302.5 443.5 303.2 442.5 303.9 441.5 304.6 440.4 305.4 439.3 306.1 438.2 306.8 437.1 307.5 435.9 308.2 434.7 309 433.4 309.7 432.1 310.4 430.7 311.1 429.2 311.8 427.6 312.6 425.9 313.3 424.1 314 422.3 314.7 420.3 315.4 418.1 316.2 415.9 316.9 413.5 317.6 410.9 318.3 408.2 319 405.3 319.8 402.3 320.5 399.1 321.2 395.6 321.9 392 322.6 388.2 323.4 384.2 324.1 380 324.8 375.5 325.5 370.8 326.3 365.8 327 360.6 327.7 355.2 328.4 349.9 329.1 345 329.9 340.6 330.6 336.5 331.3 332.5 332 328.2 332.7 323.7 333.5 318.7 334.2 313.3 334.9 307.3 335.6 300.7 336.3 293.4 337.1 285.4 337.8 276.6 338.5 267" fill="none" stroke="#000000" stroke-width="0.7"/>
<path d="M49 475.4h3.9v3.9h-3.9zM49.8 475.3h3.9v3.9h-3.9zM50.5 475.2h3.9v3.9h-3.9zM51.2 475.1h3.9v3.9h-3.9zM51.9 475h3.9v3.9h-3.9zM52.6 474.9h3.9v3.9h-3.9zM53.3 474.8h3.9v3.9h-3.9zM54 474.7h3.9v3.9h-3.9zM54.7 474.6h3.9v3.9h-3.9zM55.4 474.6h3.9v3.9h-3.9zM56.1 474.5h3.9v3.9h-3.9zM56.8 474.4h3.9v3.9h-3.9zM57.5 474.3h3.9v3.9h-3.9zM58.2 474.3h3.9v3.9h-3.9zM58.9 474.2h3.9v3.9h-3.9zM59.6 474.1h3.9v3.9h-3.9zM60.3 474h3.9v3.9h-3.9zM61 474h3.9v3.9h-3.9zM61.7 473.9h3.9v3.9h-3.9zM62.4 473.9h3.9v3.9h-3.9zM63.1 473.8h3.9v3.9h-3.9zM63.8 473.7h3.9v3.9h-3.9zM64.5 473.7h3.9v3.9h-3.9zM65.2 473.6h3.9v3.9h-3.9zM65.9 473.6h3.9v3.9h-3.9zM66.6 473.5h3.9v3.9h-3.9zM67.3 473.5h3.9v3.9h-3.9zM68 473.4h3.9v3.9h-3.9zM68.7 473.4h3.9v3.9h-3.9zM69.4 473.3h3.9v3.9h-3.9zM70.1 473.3h3.9v3.9h-3.9zM70.8 473.3h3.9v3.9h-3.9zM71.5 473.2h3.9v3.9h-3.9zM72.2 473.2h3.9v3.9h-3.9zM72.9 473.2h3.9v3.9h-3.9zM73.6 473.1h3.9v3.9h-3.9zM74.3 473.1h3.9v3.9h-3.9zM75 473.1h3.9v3.9h-3.9zM75.7 473h3.9v3.9h-3.9zM76.4 473h3.9v3.9h-3.9zM77.1 473h3.9v3.9h-3.9zM77.8 473h3.9v3.9h-3.9zM78.5 472.9h3.9v3.9h-3.9zM79.2 472.9h3.9v3.9h-3.9zM79.9 472.9h3.9v3.9h-3.9zM80.6 472.9h3.9v3.9h-3.9zM81.3 472.9h3.9v3.9h-3.9zM82 472.8h3.9v3.9h-3.9zM82.7 472.8h3.9v3.9h-3.9zM83.4 472.8h3.9v3.9h-3.9zM84.1 472.8h3.9v3.9h-3.9zM84.8 472.8h3.9v3.9h-3.9zM85.5 472.8h3.9v3.9h-3.9zM86.2 472.8h3.9v3.9h-3.9zM86.9 472.8h3.9v3.9h-3.9zM87.6 472.8h3.9v3.9h-3.9zM88.3 472.8h3.9v3.9h-3.9zM89 472.7h3.9v3.9h-3.9zM89.7 472.7h3.9v3.9h-3.9zM90.4 472.7h3.9v3.9h-3.9zM91.1 472.7h3.9v3.9h-3.9zM91.8 472.7h3.9v3.9h-3.9zM92.5 472.7h3.9v3.9h-3.9zM93.2 472.8h3.9v3.9h-3.9zM93.9 472.8h3.9v3.9h-3.9zM94.6 472.8h3.9v3.9h-3.9zM95.3 472.8h3.9v3.9h-3.9zM96 472.8h3.9v3.9h-3.9zM96.7 472.8h3.9v3.9h-3.9zM97.4 472.8h3.9v3.9h-3.9zM98.1 472.8h3.9v3.9h-3.9zM98.8 472.8h3.9v3.9h-3.9zM99.5 472.8h3.9v3.9h-3.9zM100.2 472.8h3.9v3.9h-3.9zM100.9 472.9h3.9v3.9h-3.9zM101.6 472.9h3.9v3.9h-3.9zM102.3 472.9h3.9v3.9h-3.9zM103 472.9h3.9v3.9h-3.9zM103.7 472.9h3.9v3.9h-3.9zM104.4 472.9h3.9v3.9h-3.9zM105.1 473h3.9v3.9h-3.9zM105.8 473h3.9v3.9h-3.9zM106.5 473h3.9v3.9h-3.9zM107.2 473h3.9v3.9h-3.9zM107.9 473h3.9v3.9h-3.9zM108.6 473.1h3.9v3.9h-3.9zM109.3 473.1h3.9v3.9h-3.9zM110 473.1h3.9v3.9h-3.9zM110.7 473.1h3.9v3.9h-3.9zM111.4 473.1h3.9v3.9h-3.9zM112.1 473.2h3.9v3.9h-3.9zM112.8 473.2h3.9v3.9h-3.9zM113.5 473.2h3.9v3.9h-3.9zM114.2 473.2h3.9v3.9h-3.9zM114.9 473.3h3.9v3.9h-3.9zM115.6 473.3h3.9v3.9h-3.9zM116.3 473.3h3.9v3.9h-3.9zM117 473.4h3.9v3.9h-3.9zM117.7 473.4h3.9v3.9h-3.9zM118.4 473.4h3.9v3.9h-3.9zM119.1 473.4h3.9v3.9h-3.9zM119.8 473.5h3.9v3.9h-3.9zM120.5 473.5h3.9v3.9h-3.9zM121.2 473.5h3.9v3.9h-3.9zM121.9 473.6h3.9v3.9h-3.9zM122.6 473.6h3.9v3.9h-3.9zM123.3 473.6h3.9v3.9h-3.9zM124 473.7h3.9v3.9h-3.9zM124.7 473.7h3.9v3.9h-3.9zM125.4 473.7h3.9v3.9h-3.9zM126.1 473.7h3.9v3.9h-3.9zM126.8 473.8h3.9v3.9h-3.9zM127.5 473.8h3.9v3.9h-3.9zM128.2 473.8h3.9v3.9h-3.9zM128.9 473.9h3.9v3.9h-3.9zM129.6 473.9h3.9v3.9h-3.9zM130.3 473.9h3.9v3.9h-3.9zM131 474h3.9v3.9h-3.9zM131.7 474h3.9v3.9h-3.9zM132.4 474h3.9v3.9h-3.9zM133.1 474.1h3.9v3.9h-3.9zM133.8 474.1h3.9v3.9h-3.9zM134.5 474.1h3.9v3.9h-3.9zM135.2 474.1h3.9v3.9h-3.9zM135.9 474.2h3.9v3.9h-3.9zM136.6 474.2h3.9v3.9h-3.9zM137.3 474.2h3.9v3.9h-3.9zM138 474.3h3.9v3.9h-3.9zM138.7 474.3h3.9v3.9h-3.9zM139.4 474.3h3.9v3.9h-3.9zM140.1 474.4h3.9v3.9h-3.9zM140.8 474.4h3.9v3.9h-3.9zM141.5 474.4h3.9v3.9h-3.9zM142.2 474.4h3.9v3.9h-3.9zM142.9 474.5h3.9v3.9h-3.9zM143.6 474.5h3.9v3.9h-3.9zM144.3 474.5h3.9v3.9h-3.9zM145 474.6h3.9v3.9h-3.9zM145.7 474.6h3.9v3.9h-3.9zM146.3 474.6h3.9v3.9h-3.9zM147 474.6h3.9v3.9h-3.9zM147.7 474.7h3.9v3.9h-3.9zM148.4 474.7h3.9v3.9h-3.9zM149.1 474.7h3.9v3.9h-3.9zM149.8 474.7h3.9v3.9h-3.9zM150.5 474.8h3.9v3.9h-3.9zM151.2 474.8h3.9v3.9h-3.9zM151.9 474.8h3.9v3.9h-3.9zM152.6 474.8h3.9v3.9h-3.9zM153.3 474.8h3.9v3.9h-3.9zM154 474.9h3.9v3.9h-3.9zM154.7 474.9h3.9v3.9h-3.9zM155.4 474.9h3.9v3.9h-3.9zM156.1 474.9h3.9v3.9h-3.9zM156.8 474.9h3.9v3.9h-3.9zM157.5 475h3.9v3.9h-3.9zM158.2 475h3.9v3.9h-3.9zM158.9 475h3.9v3.9h-3.9zM159.6 475h3.9v3.9h-3.9zM160.3 475h3.9v3.9h-3.9zM161 475h3.9v3.9h-3.9zM161.7 475h3.9v3.9h-3.9zM162.4 475h3.9v3.9h-3.9zM163.1 475.1h3.9v3.9h-3.9zM163.8 475.1h3.9v3.9h-3.9zM164.5 475.1h3.9v3.9h-3.9zM165.2 475.1h3.9v3.9h-3.9zM165.9 475.1h3.9v3.9h-3.9zM166.6 475.1h3.9v3.9h-3.9zM167.3 475.1h3.9v3.9h-3.9zM168 475.1h3.9v3.9h-3.9zM168.7 475.1h3.9v3.9h-3.9zM169.4 475.1h3.9v3.9h-3.9zM170.1 475.1h3.9v3.9h-3.9zM170.8 475.1h3.9v3.9h-3.9zM171.5 475.1h3.9v3.9h-3.9zM172.2 475.1h3.9v3.9h-3.9zM172.9 475.1h3.9v3.9h-3.9zM173.6 475.1h3.9v3.9h-3.9zM174.3 475.1h3.9v3.9h-3.9zM175 475.1h3.9v3.9h-3.9zM175.7 475.1h3.9v3.9h-3.9zM176.4 475.1h3.9v3.9h-3.9zM177.1 475h3.9v3.9h-3.9zM177.8 475h3.9v3.9h-3.9zM178.5 475h3.9v3.9h-3.9zM179.2 475h3.9v3.9h-3.9zM179.9 475h3.9v3.9h-3.9zM180.6 475h3.9v3.9h-3.9zM181.3 474.9h3.9v3.9h-3.9zM182 474.9h3.9v3.9h-3.9zM182.7 474.9h3.9v3.9h-3.9zM183.4 474.9h3.9v3.9h-3.9zM184.1 474.8h3.9v3.9h-3.9zM184.8 474.8h3.9v3.9h-3.9zM185.5 474.8h3.9v3.9h-3.9zM186.2 474.8h3.9v3.9h-3.9zM186.9 474.7h3.9v3.9h-3.9zM187.6 474.7h3.9v3.9h-3.9zM188.3 474.7h3.9v3.9h-3.9zM189 474.6h3.9v3.9h-3.9zM189.7 474.6h3.9v3.9h-3.9zM190.4 474.5h3.9v3.9h-3.9zM191.1 474.5h3.9v3.9h-3.9zM191.8 474.5h3.9v3.9h-3.9zM192.5 474.4h3.9v3.9h-3.9zM193.2 474.4h3.9v3.9h-3.9zM193.9 474.3h3.9v3.9h-3.9zM194.6 474.3h3.9v3.9h-3.9zM195.3 474.2h3.9v3.9h-3.9zM196 474.2h3.9v3.9h-3.9zM196.7 474.1h3.9v3.9h-3.9zM197.4 474h3.9v3.9h-3.9zM198.1 474h3.9v3.9h-3.9zM198.8 473.9h3.9v3.9h-3.9zM199.5 473.9h3.9v3.9h-3.9zM200.2 473.8h3.9v3.9h-3.9zM200.9 473.7h3.9v3.9h-3.9zM201.6 473.7h3.9v3.9h-3.9zM202.3 473.6h3.9v3.9h-3.9zM203 473.5h3.9v3.9h-3.9zM203.7 473.4h3.9v3.9h-3.9zM204.4 473.4h3.9v3.9h-3.9zM205.1 473.3h3.9v3.9h-3.9zM205.8 473.2h3.9v3.9h-3.9zM206.5 473.1h3.9v3.9h-3.9zM207.2 473h3.9v3.9h-3.9zM207.9 472.9h3.9v3.9h-3.9zM208.6 472.8h3.9v3.9h-3.9zM209.3 472.8h3.9v3.9h-3.9zM210 472.7h3.9v3.9h-3.9zM210.7 472.6h3.9v3.9h-3.9zM211.4 472.5h3.9v3.9h-3.9zM212.1 472.4h3.9v3.9h-3.9zM212.8 472.3h3.9v3.9h-3.9zM213.5 472.1h3.9v3.9h-3.9zM214.2 472h3.9v3.9h-3.9zM214.9 471.9h3.9v3.9h-3.9zM215.6 471.8h3.9v3.9h-3.9zM216.3 471.7h3.9v3.9h-3.9zM217 471.6h3.9v3.9h-3.9zM217.7 471.5h3.9v3.9h-3.9zM218.4 471.3h3.9v3.9h-3.9zM219.1 471.2h3.9v3.9h-3.9zM219.8 471.1h3.9v3.9h-3.9zM220.5 471h3.9v3.9h-3.9zM221.2 470.9h3.9v3.9h-3.9zM221.9 470.7h3.9v3.9h-3.9zM222.6 470.6h3.9v3.9h-3.9zM223.3 470.5h3.9v3.9h-3.9zM224 470.3h3.9v3.9h-3.9zM224.7 470.2h3.9v3.9h-3.9zM225.4 470.1h3.9v3.9h-3.9zM226.1 469.9h3.9v3.9h-3.9zM226.8 469.8h3.9v3.9h-3.9zM227.5 469.7h3.9v3.9h-3.9zM228.3 469.5h3.9v3.9h-3.9zM229 469.4h3.9v3.9h-3.9zM229.7 469.3h3.9v3.9h-3.9zM230.4 469.1h3.9v3.9h-3.9zM231.1 469h3.9v3.9h-3.9zM231.8 468.8h3.9v3.9h-3.9zM232.5 468.7h3.9v3.9h-3.9zM233.2 468.6h3.9v3.9h-3.9zM234 468.4h3.9v3.9h-3.9zM234.7 468.3h3.9v3.9h-3.9zM235.4 468.1h3.9v3.9h-3.9zM236.2 468h3.9v3.9h-3.9zM236.9 467.9h3.9v3.9h-3.9zM237.7 467.7h3.9v3.9h-3.9zM238.4 467.6h3.9v3.9h-3.9zM239.2 467.4h3.9v3.9h-3.9zM239.9 467.3h3.9v3.9h-3.9zM240.7 467.2h3.9v3.9h-3.9zM241.4 467h3.9v3.9h-3.9zM242.2 466.9h3.9v3.9h-3.9zM243 466.7h3.9v3.9h-3.9zM243.7 466.6h3.9v3.9h-3.9zM244.5 466.5h3.9v3.9h-3.9zM245.3 466.3h3.9v3.9h-3.9zM246.1 466.2h3.9v3.9h-3.9zM246.9 466.1h3.9v3.9h-3.9zM247.6 466h3.9v3.9h-3.9zM248.4 465.8h3.9v3.9h-3.9zM249.2 465.7h3.9v3.9h-3.9zM250 465.6h3.9v3.9h-3.9zM250.8 465.5h3.9v3.9h-3.9zM251.7 465.3h3.9v3.9h-3.9zM252.5 465.2h3.9v3.9h-3.9zM253.3 465.1h3.9v3.9h-3.9zM254.1 465h3.9v3.9h-3.9zM254.9 464.9h3.9v3.9h-3.9zM255.8 464.8h3.9v3.9h-3.9zM256.6 464.7h3.9v3.9h-3.9zM257.4 464.6h3.9v3.9h-3.9zM258.3 464.5h3.9v3.9h-3.9zM259.1 464.4h3.9v3.9h-3.9zM260 464.3h3.9v3.9h-3.9zM260.8 464.2h3.9v3.9h-3.9zM261.7 464.1h3.9v3.9h-3.9zM262.5 464h3.9v3.9h-3.9zM263.4 463.9h3.9v3.9h-3.9zM264.3 463.8h3.9v3.9h-3.9zM265.2 463.7h3.9v3.9h-3.9zM266 463.6h3.9v3.9h-3.9zM266.9 463.4h3.9v3.9h-3.9zM267.8 463.3h3.9v3.9h-3.9zM268.7 463.1h3.9v3.9h-3.9zM269.6 463h3.9v3.9h-3.9zM270.5 462.8h3.9v3.9h-3.9zM271.4 462.6h3.9v3.9h-3.9zM272.3 462.3h3.9v3.9h-3.9zM273.2 462.1h3.9v3.9h-3.9zM274.1 461.8h3.9v3.9h-3.9zM275.1 461.5h3.9v3.9h-3.9zM276 461.2h3.9v3.9h-3.9zM276.9 460.9h3.9v3.9h-3.9zM277.9 460.5h3.9v3.9h-3.9zM278.8 460.2h3.9v3.9h-3.9zM279.8 459.7h3.9v3.9h-3.9zM280.7 459.3h3.9v3.9h-3.9zM281.7 458.8h3.9v3.9h-3.9zM282.6 458.3h3.9v3.9h-3.9zM283.6 457.7h3.9v3.9h-3.9zM284.6 457.1h3.9v3.9h-3.9zM285.6 456.5h3.9v3.9h-3.9zM286.6 455.8h3.9v3.9h-3.9zM287.5 455.1h3.9v3.9h-3.9zM288.5 454.3h3.9v3.9h-3.9zM289.5 453.5h3.9v3.9h-3.9zM290.5 452.6h3.9v3.9h-3.9zM291.6 451.7h3.9v3.9h-3.9zM292.6 450.7h3.9v3.9h-3.9zM293.6 449.7h3.9v3.9h-3.9zM294.6 448.6h3.9v3.9h-3.9zM295.7 447.5h3.9v3.9h-3.9zM296.7 446.3h3.9v3.9h-3.9zM297.7 445.1h3.9v3.9h-3.9zM298.8 443.8h3.9v3.9h-3.9zM299.8 442.4h3.9v3.9h-3.9zM300.9 441h3.9v3.9h-3.9zM302 439.5h3.9v3.9h-3.9zM303.1 437.9h3.9v3.9h-3.9zM304.1 436.3h3.9v3.9h-3.9zM305.2 434.5h3.9v3.9h-3.9zM306.3 432.7h3.9v3.9h-3.9zM307.4 430.7h3.9v3.9h-3.9zM308.5 428.6h3.9v3.9h-3.9zM309.6 426.2h3.9v3.9h-3.9zM310.7 423.7h3.9v3.9h-3.9zM311.9 420.8h3.9v3.9h-3.9zM313 417.7h3.9v3.9h-3.9zM314.1 414.2h3.9v3.9h-3.9zM315.3 410.3h3.9v3.9h-3.9zM316.4 406.1h3.9v3.9h-3.9zM317.6 401.4h3.9v3.9h-3.9zM318.7 396.2h3.9v3.9h-3.9zM319.9 390.5h3.9v3.9h-3.9zM321.1 384.2h3.9v3.9h-3.9zM322.3 377.3h3.9v3.9h-3.9zM323.4 369.7h3.9v3.9h-3.9zM324.6 361.4h3.9v3.9h-3.9zM325.8 352.5h3.9v3.9h-3.9zM327.1 343.8h3.9v3.9h-3.9zM328.3 336.5h3.9v3.9h-3.9zM329.5 329.6h3.9v3.9h-3.9zM330.7 322.1h3.9v3.9h-3.9zM332 313.3h3.9v3.9h-3.9zM333.2 302.9h3.9v3.9h-3.9zM334.5 290.6h3.9v3.9h-3.9zM335.7 275.9h3.9v3.9h-3.9z" fill="#000000"/>
<path d="M51 477.3 51.7 477.3 52.4 477.2 53.2 477.2 53.9 477.1 54.6 477.1 55.3 477 56 477 56.8 476.9 57.5 476.9 58.2 476.9 58.9 476.8 59.6 476.8 60.4 476.7 61.1 476.7 61.8 476.7 62.5 476.6 63.2 476.6 64 476.6 64.7 476.5 65.4 476.5 66.1 476.5 66.8 476.4 67.6 476.4 68.3 476.4 69 476.4 69.7 476.3 70.4 476.3 71.2 476.3 71.9 476.2 72.6 476.2 73.3 476.2 74 476.2 74.8 476.2 75.5 476.1 76.2 476.1 76.9 476.1 77.6 476.1 78.4 476 79.1 476 79.8 476 80.5 476 81.2 476 82 476 82.7 475.9 83.4 475.9 84.1 475.9 84.8 475.9 85.6 475.9 86.3 475.9 87 475.9 87.7 475.8 88.4 475.8 89.1 475.8 89.9 475.8 90.6 475.8 91.3 475.8 92 475.8 92.7 475.8 93.5 475.8 94.2 475.8 94.9 475.7 95.6 475.7 96.3 475.7 97.1 475.7 97.8 475.7 98.5 475.7 99.2 475.7 99.9 475.7 100.7 475.7 101.4 475.7 102.1 475.7 102.8 475.7 103.5 475.7 104.3 475.7 105 475.7 105.7 475.7 106.4 475.7 107.1 475.7 107.9 475.7 108.6 475.7 109.3 475.7 110 475.7 110.7 475.7 111.5 475.7 112.2 475.7 112.9 475.7 113.6 475.7 114.3 475.7 115.1 475.7 115.8 475.7 116.5 475.7 117.2 475.7 117.9 475.7 118.7 475.7 119.4 475.7 120.1 475.7 120.8 475.7 121.5 475.7 122.3 475.7 123 475.7 123.7 475.7 124.4 475.7 125.1 475.7 125.9 475.7 126.6 475.7 127.3 475.7 128 475.7 128.7 475.7 129.5 475.7 130.2 475.7 130.9 475.7 131.6 475.7 132.3 475.7 133.1 475.7 133.8 475.7 134.5 475.7 135.2 475.6 135.9 475.6 136.7 475.6 137.4 475.6 138.1 475.6 138.8 475.6 139.5 475.6 140.3 475.6 141 475.6 141.7 475.6 142.4 475.6 143.1 475.6 143.9 475.6 144.6 475.6 145.3 475.6 146 475.6 146.7 475.6 147.5 475.6 148.2 475.6 148.9 475.6 149.6 475.6 150.3 475.6 151.1 475.6 151.8 475.6 152.5 475.6 153.2 475.6 153.9 475.5 154.7 475.5 155.4 475.5 156.1 475.5 156.8 475.5 157.5 475.5 158.3 475.5 159 475.5 159.7 475.5 160.4 475.5 161.1 475.4 161.8 475.4 162.6 475.4 163.3 475.4 164 475.4 164.7 475.4 165.4 475.4 166.2 475.3 166.9 475.3 167.6 475.3 168.3 475.3 169 475.3 169.8 475.2 170.5 475.2 171.2 475.2 171.9 475.2 172.6 475.2 173.4 475.1 174.1 475.1 174.8 475.1 175.5 475.1 176.2 475 177 475 177.7 475 178.4 475 179.1 474.9 179.8 474.9 180.6 474.9 181.3 474.9 182 474.8 182.7 474.8 183.4 474.8 184.2 474.7 184.9 474.7 185.6 474.7 186.3 474.6 187 474.6 187.8 474.5 188.5 474.5 189.2 474.5 189.9 474.4 190.6 474.4 191.4 474.3 192.1 474.3 192.8 474.3 193.5 474.2 194.2 474.2 195 474.1 195.7 474.1 196.4 474 197.1 474 197.8 473.9 198.6 473.9 199.3 473.8 200 473.8 200.7 473.7 201.4 473.7 202.2 473.6 202.9 473.5 203.6 473.5 204.3 473.4 205 473.4 205.8 473.3 206.5 473.2 207.2 473.2 207.9 473.1 208.6 473 209.4 473 210.1 472.9 210.8 472.8 211.5 472.8 212.2 472.7 213 472.6 213.7 472.5 214.4 472.5 215.1 472.4 215.8 472.3 216.6 472.2 217.3 472.2 218 472.1 218.7 472 219.4 471.9 220.2 471.8 220.9 471.7 221.6 471.6 222.3 471.6 223 471.5 223.8 471.4 224.5 471.3 225.2 471.2 225.9 471.1 226.6 471 227.4 470.9 228.1 470.8 228.8 470.7 229.5 470.6 230.2 470.5 230.9 470.4 231.7 470.3 232.4 470.2 233.1 470 233.8 469.9 234.5 469.8 235.3 469.7 236 469.6 236.7 469.5 237.4 469.4 238.1 469.2 238.9 469.1 239.6 469 240.3 468.9 241 468.7 241.7 468.6 242.5 468.5 243.2 468.3 243.9 468.2 244.6 468.1 245.3 467.9 246.1 467.8 246.8 467.7 247.5 467.5 248.2 467.4 248.9 467.2 249.7 467.1 250.4 466.9 251.1 466.8 251.8 466.6 252.5 466.5 253.3 466.3 254 466.2 254.7 466 255.4 465.8 256.1 465.7 256.9 465.5 257.6 465.4 258.3 465.2 259 465 259.7 464.8 260.5 464.7 261.2 464.5 261.9 464.3 262.6 464.1 263.3 463.9 264.1 463.7 264.8 463.5 265.5 463.3 266.2 463.1 266.9 462.9 267.7 462.6 268.4 462.4 269.1 462.1 269.8 461.9 270.5 461.6 271.3 461.3 272 461 272.7 460.7 273.4 460.4 274.1 460.1 274.9 459.8 275.6 459.4 276.3 459 277 458.7 277.7 458.3 278.5 457.9 279.2 457.5 279.9 457 280.6 456.6 281.3 456.1 282.1 455.6 282.8 455.1 283.5 454.6 284.2 454.1 284.9 453.6 285.7 453 286.4 452.4 287.1 451.8 287.8 451.2 288.5 450.5 289.3 449.9 290 449.2 290.7 448.5 291.4 447.7 292.1 447 292.9 446.2 293.6 445.4 294.3 444.6 295 443.7 295.7 442.9 296.5 442 297.2 441.1 297.9 440.1 298.6 439.1 299.3 438.1 300.1 437.1 300.8 436.1 301.5 435 302.2 433.9 302.9 432.7 303.6 431.6 304.4 430.4 305.1 429.2 305.8 427.9 306.5 426.6 307.2 425.3 308 423.9 308.7 422.5 309.4 421.1 310.1 419.6 310.8 418.1 311.6 416.6 312.3 415 313 413.3 313.7 411.6 314.4 409.8 315.2 408 315.9 406.2 316.6 404.2 317.3 402.3 318 400.2 318.8 398 319.5 395.7 320.2 393.1 320.9 390.3 321.6 387.2 322.4 383.8 323.1 380.2 323.8 376.3 324.5 372.1 325.2 367.9 326 363.6 326.7 359.2 327.4 354.8 328.1 350.4 328.8 346.1 329.6 341.8 330.3 337.4 331 332.9 331.7 328.2 332.4 323.3 333.2 318.1 333.9 312.5 334.6 306.4 335.3 299.9 336 292.8 336.8 285.1 337.5 276.7 338.2 267.5" fill="none" stroke="#ff0000" stroke-width="0.7"/>
<path d="M50.1 475.4h1.8l1.1 1.1v1.8l-1.1 1.1h-1.8l-1.1 -1.1v-1.8zM50.8 475.3h1.8l1.1 1.1v1.8l-1.1 1.1h-1.8l-1.1 -1.1v-1.8zM51.5 475.3h1.8l1.1 1.1v1.8l-1.1 1.1h-1.8l-1.1 -1.1v-1.8zM52.2 475.2h1.8l1.1 1.1v1.8l-1.1 1.1h-1.8l-1.1 -1.1v-1.8zM52.9 475.2h1.8l1.1 1.1v1.8l-1.1 1.1h-1.8l-1.1 -1.1v-1.8zM53.6 475.1h1.8l1.1 1.1v1.8l-1.1 1.1h-1.8l-1.1 -1.1v-1.8zM54.3 475.1h1.8l1.1 1.1v1.8l-1.1 1.1h-1.8l-1.1 -1.1v-1.8zM55 475h1.8l1.1 1.1v1.8l-1.1 1.1h-1.8l-1.1 -1.1v-1.8zM55.7 475h1.8l1.1 1.1v1.8l-1.1 1.1h-1.8l-1.1 -1.1v-1.8zM56.4 475h1.8l1.1 1.1v1.8l-1.1 1.1h-1.8l-1.1 -1.1v-1.8zM57.1 474.9h1.8l1.1 1.1v1.8l-1.1 1.1h-1.8l-1.1 -1.1v-1.8zM57.8 474.9h1.8l1.1 1.1v1.8l-1.1 1.1h-1.8l-1.1 -1.1v-1.8zM58.5 474.8h1.8l1.1 1.1v1.8l-1.1 1.1h-1.8l-1.1 -1.1v-1.8zM59.2 474.8h1.8l1.1 1.1v1.8l-1.1 1.1h-1.8l-1.1 -1.1v-1.8zM59.9 474.8h1.8l1.1 1.1v1.8l-1.1 1.1h-1.8l-1.1 -1.1v-1.8zM60.6 474.7h1.8l1.1 1.1v1.8l-1.1 1.1h-1.8l-1.1 -1.1v-1.8zM61.3 474.7h1.8l1.1 1.1v1.8l-1.1 1.1h-1.8l-1.1 -1.1v-1.8zM62 474.7h1.8l1.1 1.1v1.8l-1.1 1.1h-1.8l-1.1 -1.1v-1.8zM62.7 474.6h1.8l1.1 1.1v1.8l-1.1 1.1h-1.8l-1.1 -1.1v-1.8zM63.4 474.6h1.8l1.1 1.1v1.8l-1.1 1.1h-1.8l-1.1 -1.1v-1.8zM64.1 474.6h1.8l1.1 1.1v1.8l-1.1 1.1h-1.8l-1.1 -1.1v-1.8zM64.8 474.5h1.8l1.1 1.1v1.8l-1.1 1.1h-1.8l-1.1 -1.1v-1.8zM65.5 474.5h1.8l1.1 1.1v1.8l-1.1 1.1h-1.8l-1.1 -1.1v-1.8zM66.2 474.5h1.8l1.1 1.1v1.8l-1.1 1.1h-1.8l-1.1 -1.1v-1.8zM66.9 474.4h1.8l1.1 1.1v1.8l-1.1 1.1h-1.8l-1.1 -1.1v-1.8zM67.6 474.4h1.8l1.1 1.1v1.8l-1.1 1.1h-1.8l-1.1 -1.1v-1.8zM68.3 474.4h1.8l1.1 1.1v1.8l-1.1 1.1h-1.8l-1.1 -1.1v-1.8zM69 474.4h1.8l1.1 1.1v1.8l-1.1 1.1h-1.8l-1.1 -1.1v-1.8zM69.7 474.3h1.8l1.1 1.1v1.8l-1.1 1.1h-1.8l-1.1 -1.1v-1.8zM70.4 474.3h1.8l1.1 1.1v1.8l-1.1 1.1h-1.8l-1.1 -1.1v-1.8zM71.1 474.3h1.8l1.1 1.1v1.8l-1.1 1.1h-1.8l-1.1 -1.1v-1.8zM71.8 474.3h1.8l1.1 1.1v1.8l-1.1 1.1h-1.8l-1.1 -1.1v-1.8zM72.5 474.2h1.8l1.1 1.1v1.8l-1.1 1.1h-1.8l-1.1 -1.1v-1.8zM73.2 474.2h1.8l1.1 1.1v1.8l-1.1 1.1h-1.8l-1.1 -1.1v-1.8zM73.9 474.2h1.8l1.1 1.1v1.8l-1.1 1.1h-1.8l-1.1 -1.1v-1.8zM74.6 474.2h1.8l1.1 1.1v1.8l-1.1 1.1h-1.8l-1.1 -1.1v-1.8zM75.3 474.2h1.8l1.1 1.1v1.8l-1.1 1.1h-1.8l-1.1 -1.1v-1.8zM76 474.1h1.8l1.1 1.1v1.8l-1.1 1.1h-1.8l-1.1 -1.1v-1.8zM76.7 474.1h1.8l1.1 1.1v1.8l-1.1 1.1h-1.8l-1.1 -1.1v-1.8zM77.4 474.1h1.8l1.1 1.1v1.8l-1.1 1.1h-1.8l-1.1 -1.1v-1.8zM78.1 474.1h1.8l1.1 1.1v1.8l-1.1 1.1h-1.8l-1.1 -1.1v-1.8zM78.8 474.1h1.8l1.1 1.1v1.8l-1.1 1.1h-1.8l-1.1 -1.1v-1.8zM79.5 474h1.8l1.1 1.1v1.8l-1.1 1.1h-1.8l-1.1 -1.1v-1.8zM80.2 474h1.8l1.1 1.1v1.8l-1.1 1.1h-1.8l-1.1 -1.1v-1.8zM80.9 474h1.8l1.1 1.1v1.8l-1.1 1.1h-1.8l-1.1 -1.1v-1.8zM81.6 474h1.8l1.1 1.1v1.8l-1.1 1.1h-1.8l-1.1 -1.1v-1.8zM82.3 474h1.8l1.1 1.1v1.8l-1.1 1.1h-1.8l-1.1 -1.1v-1.8zM83 474h1.8l1.1 1.1v1.8l-1.1 1.1h-1.8l-1.1 -1.1v-1.8zM83.7 474h1.8l1.1 1.1v1.8l-1.1 1.1h-1.8l-1.1 -1.1v-1.8zM84.4 473.9h1.8l1.1 1.1v1.8l-1.1 1.1h-1.8l-1.1 -1.1v-1.8zM85.1 473.9h1.8l1.1 1.1v1.8l-1.1 1.1h-1.8l-1.1 -1.1v-1.8zM85.8 473.9h1.8l1.1 1.1v1.8l-1.1 1.1h-1.8l-1.1 -1.1v-1.8zM86.5 473.9h1.8l1.1 1.1v1.8l-1.1 1.1h-1.8l-1.1 -1.1v-1.8zM87.2 473.9h1.8l1.1 1.1v1.8l-1.1 1.1h-1.8l-1.1 -1.1v-1.8zM87.9 473.9h1.8l1.1 1.1v1.8l-1.1 1.1h-1.8l-1.1 -1.1v-1.8zM88.6 473.9h1.8l1.1 1.1v1.8l-1.1 1.1h-1.8l-1.1 -1.1v-1.8zM89.3 473.9h1.8l1.1 1.1v1.8l-1.1 1.1h-1.8l-1.1 -1.1v-1.8zM90 473.8h1.8l1.1 1.1v1.8l-1.1 1.1h-1.8l-1.1 -1.1v-1.8zM90.7 473.8h1.8l1.1 1.1v1.8l-1.1 1.1h-1.8l-1.1 -1.1v-1.8zM91.4 473.8h1.8l1.1 1.1v1.8l-1.1 1.1h-1.8l-1.1 -1.1v-1.8zM92.1 473.8h1.8l1.1 1.1v1.8l-1.1 1.1h-1.8l-1.1 -1.1v-1.8zM92.8 473.8h1.8l1.1 1.1v1.8l-1.1 1.1h-1.8l-1.1 -1.1v-1.8zM93.5 473.8h1.8l1.1 1.1v1.8l-1.1 1.1h-1.8l-1.1 -1.1v-1.8zM94.2 473.8h1.8l1.1 1.1v1.8l-1.1 1.1h-1.8l-1.1 -1.1v-1.8zM94.9 473.8h1.8l1.1 1.1v1.8l-1.1 1.1h-1.8l-1.1 -1.1v-1.8zM95.6 473.8h1.8l1.1 1.1v1.8l-1.1 1.1h-1.8l-1.1 -1.1v-1.8zM96.3 473.8h1.8l1.1 1.1v1.8l-1.1 1.1h-1.8l-1.1 -1.1v-1.8zM97 473.8h1.8l1.1 1.1v1.8l-1.1 1.1h-1.8l-1.1 -1.1v-1.8zM97.7 473.8h1.8l1.1 1.1v1.8l-1.1 1.1h-1.8l-1.1 -1.1v-1.8zM98.4 473.8h1.8l1.1 1.1v1.8l-1.1 1.1h-1.8l-1.1 -1.1v-1.8zM99.1 473.8h1.8l1.1 1.1v1.8l-1.1 1.1h-1.8l-1.1 -1.1v-1.8zM99.8 473.7h1.8l1.1 1.1v1.8l-1.1 1.1h-1.8l-1.1 -1.1v-1.8zM100.5 473.7h1.8l1.1 1.1v1.8l-1.1 1.1h-1.8l-1.1 -1.1v-1.8zM101.2 473.7h1.8l1.1 1.1v1.8l-1.1 1.1h-1.8l-1.1 -1.1v-1.8zM101.9 473.7h1.8l1.1 1.1v1.8l-1.1 1.1h-1.8l-1.1 -1.1v-1.8zM102.6 473.7h1.8l1.1 1.1v1.8l-1.1 1.1h-1.8l-1.1 -1.1v-1.8zM103.3 473.7h1.8l1.1 1.1v1.8l-1.1 1.1h-1.8l-1.1 -1.1v-1.8zM104 473.7h1.8l1.1 1.1v1.8l-1.1 1.1h-1.8l-1.1 -1.1v-1.8zM104.7 473.7h1.8l1.1 1.1v1.8l-1.1 1.1h-1.8l-1.1 -1.1v-1.8zM105.4 473.7h1.8l1.1 1.1v1.8l-1.1 1.1h-1.8l-1.1 -1.1v-1.8zM106.1 473.7h1.8l1.1 1.1v1.8l-1.1 1.1h-1.8l-1.1 -1.1v-1.8zM106.8 473.7h1.8l1.1 1.1v1.8l-1.1 1.1h-1.8l-1.1 -1.1v-1.8zM107.5 473.7h1.8l1.1 1.1v1.8l-1.1 1.1h-1.8l-1.1 -1.1v-1.8zM108.2 473.7h1.8l1.1 1.1v1.8l-1.1 1.1h-1.8l-1.1 -1.1v-1.8zM108.9 473.7h1.8l1.1 1.1v1.8l-1.1 1.1h-1.8l-1.1 -1.1v-1.8zM109.6 473.7h1.8l1.1 1.1v1.8l-1.1 1.1h-1.8l-1.1 -1.1v-1.8zM110.3 473.7h1.8l1.1 1.1v1.8l-1.1 1.1h-1.8l-1.1 -1.1v-1.8zM111 473.7h1.8l1.1 1.1v1.8l-1.1 1.1h-1.8l-1.1 -1.1v-1.8zM111.7 473.7h1.8l1.1 1.1v1.8l-1.1 1.1h-1.8l-1.1 -1.1v-1.8zM112.4 473.7h1.8l1.1 1.1v1.8l-1.1 1.1h-1.8l-1.1 -1.1v-1.8zM113.1 473.7h1.8l1.1 1.1v1.8l-1.1 1.1h-1.8l-1.1 -1.1v-1.8zM113.8 473.7h1.8l1.1 1.1v1.8l-1.1 1.1h-1.8l-1.1 -1.1v-1.8zM114.5 473.7h1.8l1.1 1.1v1.8l-1.1 1.1h-1.8l-1.1 -1.1v-1.8zM115.2 473.7h1.8l1.1 1.1v1.8l-1.1 1.1h-1.8l-1.1 -1.1v-1.8zM115.9 473.7h1.8l1.1 1.1v1.8l-1.1 1.1h-1.8l-1.1 -1.1v-1.8zM116.6 473.7h1.8l1.1 1.1v1.8l-1.1 1.1h-1.8l-1.1 -1.1v-1.8zM117.3 473.7h1.8l1.1 1.1v1.8l-1.1 1.1h-1.8l-1.1 -1.1v-1.8zM118 473.7h1.8l1.1 1.1v1.8l-1.1 1.1h-1.8l-1.1 -1.1v-1.8zM118.7 473.7h1.8l1.1 1.1v1.8l-1.1 1.1h-1.8l-1.1 -1.1v-1.8zM119.4 473.7h1.8l1.1 1.1v1.8l-1.1 1.1h-1.8l-1.1 -1.1v-1.8zM120.1 473.7h1.8l1.1 1.1v1.8l-1.1 1.1h-1.8l-1.1 -1.1v-1.8zM120.8 473.7h1.8l1.1 1.1v1.8l-1.1 1.1h-1.8l-1.1 -1.1v-1.8zM121.5 473.7h1.8l1.1 1.1v1.8l-1.1 1.1h-1.8l-1.1 -1.1v-1.8zM122.2 473.7h1.8l1.1 1.1v1.8l-1.1 1.1h-1.8l-1.1 -1.1v-1.8zM122.9 473.7h1.8l1.1 1.1v1.8l-1.1 1.1h-1.8l-1.1 -1.1v-1.8zM123.6 473.7h1.8l1.1 1.1v1.8l-1.1 1.1h-1.8l-1.1 -1.1v-1.8zM124.3 473.7h1.8l1.1 1.1v1.8l-1.1 1.1h-1.8l-1.1 -1.1v-1.8zM125 473.7h1.8l1.1 1.1v1.8l-1.1 1.1h-1.8l-1.1 -1.1v-1.8zM125.7 473.7h1.8l1.1 1.1v1.8l-1.1 1.1h-1.8l-1.1 -1.1v-1.8zM126.4 473.7h1.8l1.1 1.1v1.8l-1.1 1.1h-1.8l-1.1 -1.1v-1.8zM127.1 473.7h1.8l1.1 1.1v1.8l-1.1 1.1h-1.8l-1.1 -1.1v-1.8zM127.8 473.7h1.8l1.1 1.1v1.8l-1.1 1.1h-1.8l-1.1 -1.1v-1.8zM128.5 473.7h1.8l1.1 1.1v1.8l-1.1 1.1h-1.8l-1.1 -1.1v-1.8zM129.2 473.7h1.8l1.1 1.1v1.8l-1.1 1.1h-1.8l-1.1 -1.1v-1.8zM129.9 473.7h1.8l1.1 1.1v1.8l-1.1 1.1h-1.8l-1.1 -1.1v-1.8zM130.6 473.7h1.8l1.1 1.1v1.8l-1.1 1.1h-1.8l-1.1 -1.1v-1.8zM131.3 473.7h1.8l1.1 1.1v1.8l-1.1 1.1h-1.8l-1.1 -1.1v-1.8zM132 473.7h1.8l1.1 1.1v1.8l-1.1 1.1h-1.8l-1.1 -1.1v-1.8zM132.7 473.7h1.8l1.1 1.1v1.8l-1.1 1.1h-1.8l-1.1 -1.1v-1.8zM133.4 473.7h1.8l1.1 1.1v1.8l-1.1 1.1h-1.8l-1.1 -1.1v-1.8zM134.1 473.7h1.8l1.1 1.1v1.8l-1.1 1.1h-1.8l-1.1 -1.1v-1.8zM134.8 473.7h1.8l1.1 1.1v1.8l-1.1 1.1h-1.8l-1.1 -1.1v-1.8zM135.5 473.7h1.8l1.1 1.1v1.8l-1.1 1.1h-1.8l-1.1 -1.1v-1.8zM136.2 473.7h1.8l1.1 1.1v1.8l-1.1 1.1h-1.8l-1.1 -1.1v-1.8zM136.9 473.7h1.8l1.1 1.1v1.8l-1.1 1.1h-1.8l-1.1 -1.1v-1.8zM137.6 473.7h1.8l1.1 1.1v1.8l-1.1 1.1h-1.8l-1.1 -1.1v-1.8zM138.3 473.7h1.8l1.1 1.1v1.8l-1.1 1.1h-1.8l-1.1 -1.1v-1.8zM139 473.7h1.8l1.1 1.1v1.8l-1.1 1.1h-1.8l-1.1 -1.1v-1.8zM139.7 473.7h1.8l1.1 1.1v1.8l-1.1 1.1h-1.8l-1.1 -1.1v-1.8zM140.4 473.7h1.8l1.1 1.1v1.8l-1.1 1.1h-1.8l-1.1 -1.1v-1.8zM141.1 473.7h1.8l1.1 1.1v1.8l-1.1 1.1h-1.8l-1.1 -1.1v-1.8zM141.8 473.7h1.8l1.1 1.1v1.8l-1.1 1.1h-1.8l-1.1 -1.1v-1.8zM142.5 473.7h1.8l1.1 1.1v1.8l-1.1 1.1h-1.8l-1.1 -1.1v-1.8zM143.2 473.7h1.8l1.1 1.1v1.8l-1.1 1.1h-1.8l-1.1 -1.1v-1.8zM143.9 473.7h1.8l1.1 1.1v1.8l-1.1 1.1h-1.8l-1.1 -1.1v-1.8zM144.6 473.7h1.8l1.1 1.1v1.8l-1.1 1.1h-1.8l-1.1 -1.1v-1.8zM145.3 473.7h1.8l1.1 1.1v1.8l-1.1 1.1h-1.8l-1.1 -1.1v-1.8zM146 473.7h1.8l1.1 1.1v1.8l-1.1 1.1h-1.8l-1.1 -1.1v-1.8zM146.7 473.7h1.8l1.1 1.1v1.8l-1.1 1.1h-1.8l-1.1 -1.1v-1.8zM147.4 473.6h1.8l1.1 1.1v1.8l-1.1 1.1h-1.8l-1.1 -1.1v-1.8zM148.1 473.6h1.8l1.1 1.1v1.8l-1.1 1.1h-1.8l-1.1 -1.1v-1.8zM148.8 473.6h1.8l1.1 1.1v1.8l-1.1 1.1h-1.8l-1.1 -1.1v-1.8zM149.5 473.6h1.8l1.1 1.1v1.8l-1.1 1.1h-1.8l-1.1 -1.1v-1.8zM150.2 473.6h1.8l1.1 1.1v1.8l-1.1 1.1h-1.8l-1.1 -1.1v-1.8zM150.9 473.6h1.8l1.1 1.1v1.8l-1.1 1.1h-1.8l-1.1 -1.1v-1.8zM151.6 473.6h1.8l1.1 1.1v1.8l-1.1 1.1h-1.8l-1.1 -1.1v-1.8zM152.3 473.6h1.8l1.1 1.1v1.8l-1.1 1.1h-1.8l-1.1 -1.1v-1.8zM153 473.6h1.8l1.1 1.1v1.8l-1.1 1.1h-1.8l-1.1 -1.1v-1.8zM153.7 473.6h1.8l1.1 1.1v1.8l-1.1 1.1h-1.8l-1.1 -1.1v-1.8zM154.4 473.6h1.8l1.1 1.1v1.8l-1.1 1.1h-1.8l-1.1 -1.1v-1.8zM155.1 473.6h1.8l1.1 1.1v1.8l-1.1 1.1h-1.8l-1.1 -1.1v-1.8zM155.8 473.6h1.8l1.1 1.1v1.8l-1.1 1.1h-1.8l-1.1 -1.1v-1.8zM156.5 473.5h1.8l1.1 1.1v1.8l-1.1 1.1h-1.8l-1.1 -1.1v-1.8zM157.2 473.5h1.8l1.1 1.1v1.8l-1.1 1.1h-1.8l-1.1 -1.1v-1.8zM157.9 473.5h1.8l1.1 1.1v1.8l-1.1 1.1h-1.8l-1.1 -1.1v-1.8zM158.6 473.5h1.8l1.1 1.1v1.8l-1.1 1.1h-1.8l-1.1 -1.1v-1.8zM159.3 473.5h1.8l1.1 1.1v1.8l-1.1 1.1h-1.8l-1.1 -1.1v-1.8zM160 473.5h1.8l1.1 1.1v1.8l-1.1 1.1h-1.8l-1.1 -1.1v-1.8zM160.7 473.5h1.8l1.1 1.1v1.8l-1.1 1.1h-1.8l-1.1 -1.1v-1.8zM161.4 473.5h1.8l1.1 1.1v1.8l-1.1 1.1h-1.8l-1.1 -1.1v-1.8zM162.1 473.5h1.8l1.1 1.1v1.8l-1.1 1.1h-1.8l-1.1 -1.1v-1.8zM162.8 473.4h1.8l1.1 1.1v1.8l-1.1 1.1h-1.8l-1.1 -1.1v-1.8zM163.5 473.4h1.8l1.1 1.1v1.8l-1.1 1.1h-1.8l-1.1 -1.1v-1.8zM164.2 473.4h1.8l1.1 1.1v1.8l-1.1 1.1h-1.8l-1.1 -1.1v-1.8zM164.9 473.4h1.8l1.1 1.1v1.8l-1.1 1.1h-1.8l-1.1 -1.1v-1.8zM165.6 473.4h1.8l1.1 1.1v1.8l-1.1 1.1h-1.8l-1.1 -1.1v-1.8zM166.3 473.4h1.8l1.1 1.1v1.8l-1.1 1.1h-1.8l-1.1 -1.1v-1.8zM167 473.3h1.8l1.1 1.1v1.8l-1.1 1.1h-1.8l-1.1 -1.1v-1.8zM167.7 473.3h1.8l1.1 1.1v1.8l-1.1 1.1h-1.8l-1.1 -1.1v-1.8zM168.4 473.3h1.8l1.1 1.1v1.8l-1.1 1.1h-1.8l-1.1 -1.1v-1.8zM169.1 473.3h1.8l1.1 1.1v1.8l-1.1 1.1h-1.8l-1.1 -1.1v-1.8zM169.8 473.3h1.8l1.1 1.1v1.8l-1.1 1.1h-1.8l-1.1 -1.1v-1.8zM170.5 473.3h1.8l1.1 1.1v1.8l-1.1 1.1h-1.8l-1.1 -1.1v-1.8zM171.2 473.2h1.8l1.1 1.1v1.8l-1.1 1.1h-1.8l-1.1 -1.1v-1.8zM171.9 473.2h1.8l1.1 1.1v1.8l-1.1 1.1h-1.8l-1.1 -1.1v-1.8zM172.6 473.2h1.8l1.1 1.1v1.8l-1.1 1.1h-1.8l-1.1 -1.1v-1.8zM173.3 473.2h1.8l1.1 1.1v1.8l-1.1 1.1h-1.8l-1.1 -1.1v-1.8zM174 473.1h1.8l1.1 1.1v1.8l-1.1 1.1h-1.8l-1.1 -1.1v-1.8zM174.7 473.1h1.8l1.1 1.1v1.8l-1.1 1.1h-1.8l-1.1 -1.1v-1.8zM175.4 473.1h1.8l1.1 1.1v1.8l-1.1 1.1h-1.8l-1.1 -1.1v-1.8zM176.1 473.1h1.8l1.1 1.1v1.8l-1.1 1.1h-1.8l-1.1 -1.1v-1.8zM176.8 473h1.8l1.1 1.1v1.8l-1.1 1.1h-1.8l-1.1 -1.1v-1.8zM177.5 473h1.8l1.1 1.1v1.8l-1.1 1.1h-1.8l-1.1 -1.1v-1.8zM178.2 473h1.8l1.1 1.1v1.8l-1.1 1.1h-1.8l-1.1 -1.1v-1.8zM178.9 473h1.8l1.1 1.1v1.8l-1.1 1.1h-1.8l-1.1 -1.1v-1.8zM179.6 472.9h1.8l1.1 1.1v1.8l-1.1 1.1h-1.8l-1.1 -1.1v-1.8zM180.3 472.9h1.8l1.1 1.1v1.8l-1.1 1.1h-1.8l-1.1 -1.1v-1.8zM181 472.9h1.8l1.1 1.1v1.8l-1.1 1.1h-1.8l-1.1 -1.1v-1.8zM181.7 472.8h1.8l1.1 1.1v1.8l-1.1 1.1h-1.8l-1.1 -1.1v-1.8zM182.4 472.8h1.8l1.1 1.1v1.8l-1.1 1.1h-1.8l-1.1 -1.1v-1.8zM183.1 472.8h1.8l1.1 1.1v1.8l-1.1 1.1h-1.8l-1.1 -1.1v-1.8zM183.8 472.7h1.8l1.1 1.1v1.8l-1.1 1.1h-1.8l-1.1 -1.1v-1.8zM184.5 472.7h1.8l1.1 1.1v1.8l-1.1 1.1h-1.8l-1.1 -1.1v-1.8zM185.2 472.7h1.8l1.1 1.1v1.8l-1.1 1.1h-1.8l-1.1 -1.1v-1.8zM185.9 472.6h1.8l1.1 1.1v1.8l-1.1 1.1h-1.8l-1.1 -1.1v-1.8zM186.6 472.6h1.8l1.1 1.1v1.8l-1.1 1.1h-1.8l-1.1 -1.1v-1.8zM187.3 472.6h1.8l1.1 1.1v1.8l-1.1 1.1h-1.8l-1.1 -1.1v-1.8zM188 472.5h1.8l1.1 1.1v1.8l-1.1 1.1h-1.8l-1.1 -1.1v-1.8zM188.7 472.5h1.8l1.1 1.1v1.8l-1.1 1.1h-1.8l-1.1 -1.1v-1.8zM189.4 472.5h1.8l1.1 1.1v1.8l-1.1 1.1h-1.8l-1.1 -1.1v-1.8zM190.1 472.4h1.8l1.1 1.1v1.8l-1.1 1.1h-1.8l-1.1 -1.1v-1.8zM190.8 472.4h1.8l1.1 1.1v1.8l-1.1 1.1h-1.8l-1.1 -1.1v-1.8zM191.5 472.3h1.8l1.1 1.1v1.8l-1.1 1.1h-1.8l-1.1 -1.1v-1.8zM192.2 472.3h1.8l1.1 1.1v1.8l-1.1 1.1h-1.8l-1.1 -1.1v-1.8zM192.9 472.2h1.8l1.1 1.1v1.8l-1.1 1.1h-1.8l-1.1 -1.1v-1.8zM193.6 472.2h1.8l1.1 1.1v1.8l-1.1 1.1h-1.8l-1.1 -1.1v-1.8zM194.3 472.2h1.8l1.1 1.1v1.8l-1.1 1.1h-1.8l-1.1 -1.1v-1.8zM195 472.1h1.8l1.1 1.1v1.8l-1.1 1.1h-1.8l-1.1 -1.1v-1.8zM195.7 472.1h1.8l1.1 1.1v1.8l-1.1 1.1h-1.8l-1.1 -1.1v-1.8zM196.4 472h1.8l1.1 1.1v1.8l-1.1 1.1h-1.8l-1.1 -1.1v-1.8zM197.1 472h1.8l1.1 1.1v1.8l-1.1 1.1h-1.8l-1.1 -1.1v-1.8zM197.8 471.9h1.8l1.1 1.1v1.8l-1.1 1.1h-1.8l-1.1 -1.1v-1.8zM198.5 471.9h1.8l1.1 1.1v1.8l-1.1 1.1h-1.8l-1.1 -1.1v-1.8zM199.2 471.8h1.8l1.1 1.1v1.8l-1.1 1.1h-1.8l-1.1 -1.1v-1.8zM199.9 471.8h1.8l1.1 1.1v1.8l-1.1 1.1h-1.8l-1.1 -1.1v-1.8zM200.6 471.7h1.8l1.1 1.1v1.8l-1.1 1.1h-1.8l-1.1 -1.1v-1.8zM201.3 471.6h1.8l1.1 1.1v1.8l-1.1 1.1h-1.8l-1.1 -1.1v-1.8zM202 471.6h1.8l1.1 1.1v1.8l-1.1 1.1h-1.8l-1.1 -1.1v-1.8zM202.7 471.5h1.8l1.1 1.1v1.8l-1.1 1.1h-1.8l-1.1 -1.1v-1.8zM203.4 471.5h1.8l1.1 1.1v1.8l-1.1 1.1h-1.8l-1.1 -1.1v-1.8zM204.1 471.4h1.8l1.1 1.1v1.8l-1.1 1.1h-1.8l-1.1 -1.1v-1.8zM204.8 471.4h1.8l1.1 1.1v1.8l-1.1 1.1h-1.8l-1.1 -1.1v-1.8zM205.5 471.3h1.8l1.1 1.1v1.8l-1.1 1.1h-1.8l-1.1 -1.1v-1.8zM206.2 471.2h1.8l1.1 1.1v1.8l-1.1 1.1h-1.8l-1.1 -1.1v-1.8zM206.9 471.2h1.8l1.1 1.1v1.8l-1.1 1.1h-1.8l-1.1 -1.1v-1.8zM207.6 471.1h1.8l1.1 1.1v1.8l-1.1 1.1h-1.8l-1.1 -1.1v-1.8zM208.3 471h1.8l1.1 1.1v1.8l-1.1 1.1h-1.8l-1.1 -1.1v-1.8zM209 471h1.8l1.1 1.1v1.8l-1.1 1.1h-1.8l-1.1 -1.1v-1.8zM209.7 470.9h1.8l1.1 1.1v1.8l-1.1 1.1h-1.8l-1.1 -1.1v-1.8zM210.4 470.8h1.8l1.1 1.1v1.8l-1.1 1.1h-1.8l-1.1 -1.1v-1.8zM211.1 470.8h1.8l1.1 1.1v1.8l-1.1 1.1h-1.8l-1.1 -1.1v-1.8zM211.8 470.7h1.8l1.1 1.1v1.8l-1.1 1.1h-1.8l-1.1 -1.1v-1.8zM212.5 470.6h1.8l1.1 1.1v1.8l-1.1 1.1h-1.8l-1.1 -1.1v-1.8zM213.2 470.6h1.8l1.1 1.1v1.8l-1.1 1.1h-1.8l-1.1 -1.1v-1.8zM213.9 470.5h1.8l1.1 1.1v1.8l-1.1 1.1h-1.8l-1.1 -1.1v-1.8zM214.6 470.4h1.8l1.1 1.1v1.8l-1.1 1.1h-1.8l-1.1 -1.1v-1.8zM215.3 470.3h1.8l1.1 1.1v1.8l-1.1 1.1h-1.8l-1.1 -1.1v-1.8zM216 470.2h1.8l1.1 1.1v1.8l-1.1 1.1h-1.8l-1.1 -1.1v-1.8zM216.7 470.2h1.8l1.1 1.1v1.8l-1.1 1.1h-1.8l-1.1 -1.1v-1.8zM217.4 470.1h1.8l1.1 1.1v1.8l-1.1 1.1h-1.8l-1.1 -1.1v-1.8zM218.1 470h1.8l1.1 1.1v1.8l-1.1 1.1h-1.8l-1.1 -1.1v-1.8zM218.8 469.9h1.8l1.1 1.1v1.8l-1.1 1.1h-1.8l-1.1 -1.1v-1.8zM219.5 469.8h1.8l1.1 1.1v1.8l-1.1 1.1h-1.8l-1.1 -1.1v-1.8zM220.2 469.8h1.8l1.1 1.1v1.8l-1.1 1.1h-1.8l-1.1 -1.1v-1.8zM220.9 469.7h1.8l1.1 1.1v1.8l-1.1 1.1h-1.8l-1.1 -1.1v-1.8zM221.6 469.6h1.8l1.1 1.1v1.8l-1.1 1.1h-1.8l-1.1 -1.1v-1.8zM222.3 469.5h1.8l1.1 1.1v1.8l-1.1 1.1h-1.8l-1.1 -1.1v-1.8zM223 469.4h1.8l1.1 1.1v1.8l-1.1 1.1h-1.8l-1.1 -1.1v-1.8zM223.7 469.3h1.8l1.1 1.1v1.8l-1.1 1.1h-1.8l-1.1 -1.1v-1.8zM224.4 469.2h1.8l1.1 1.1v1.8l-1.1 1.1h-1.8l-1.1 -1.1v-1.8zM225.1 469.1h1.8l1.1 1.1v1.8l-1.1 1.1h-1.8l-1.1 -1.1v-1.8zM225.8 469h1.8l1.1 1.1v1.8l-1.1 1.1h-1.8l-1.1 -1.1v-1.8zM226.5 468.9h1.8l1.1 1.1v1.8l-1.1 1.1h-1.8l-1.1 -1.1v-1.8zM227.2 468.8h1.8l1.1 1.1v1.8l-1.1 1.1h-1.8l-1.1 -1.1v-1.8zM227.9 468.7h1.8l1.1 1.1v1.8l-1.1 1.1h-1.8l-1.1 -1.1v-1.8zM228.6 468.6h1.8l1.1 1.1v1.8l-1.1 1.1h-1.8l-1.1 -1.1v-1.8zM229.3 468.5h1.8l1.1 1.1v1.8l-1.1 1.1h-1.8l-1.1 -1.1v-1.8zM230 468.4h1.8l1.1 1.1v1.8l-1.1 1.1h-1.8l-1.1 -1.1v-1.8zM230.7 468.3h1.8l1.1 1.1v1.8l-1.1 1.1h-1.8l-1.1 -1.1v-1.8zM231.4 468.2h1.8l1.1 1.1v1.8l-1.1 1.1h-1.8l-1.1 -1.1v-1.8zM232.2 468.1h1.8l1.1 1.1v1.8l-1.1 1.1h-1.8l-1.1 -1.1v-1.8zM232.9 468h1.8l1.1 1.1v1.8l-1.1 1.1h-1.8l-1.1 -1.1v-1.8zM233.6 467.9h1.8l1.1 1.1v1.8l-1.1 1.1h-1.8l-1.1 -1.1v-1.8zM234.3 467.8h1.8l1.1 1.1v1.8l-1.1 1.1h-1.8l-1.1 -1.1v-1.8zM235 467.7h1.8l1.1 1.1v1.8l-1.1 1.1h-1.8l-1.1 -1.1v-1.8zM235.8 467.5h1.8l1.1 1.1v1.8l-1.1 1.1h-1.8l-1.1 -1.1v-1.8zM236.5 467.4h1.8l1.1 1.1v1.8l-1.1 1.1h-1.8l-1.1 -1.1v-1.8zM237.2 467.3h1.8l1.1 1.1v1.8l-1.1 1.1h-1.8l-1.1 -1.1v-1.8zM238 467.2h1.8l1.1 1.1v1.8l-1.1 1.1h-1.8l-1.1 -1.1v-1.8zM238.7 467h1.8l1.1 1.1v1.8l-1.1 1.1h-1.8l-1.1 -1.1v-1.8zM239.5 466.9h1.8l1.1 1.1v1.8l-1.1 1.1h-1.8l-1.1 -1.1v-1.8zM240.2 466.8h1.8l1.1 1.1v1.8l-1.1 1.1h-1.8l-1.1 -1.1v-1.8zM241 466.6h1.8l1.1 1.1v1.8l-1.1 1.1h-1.8l-1.1 -1.1v-1.8zM241.7 466.5h1.8l1.1 1.1v1.8l-1.1 1.1h-1.8l-1.1 -1.1v-1.8zM242.5 466.4h1.8l1.1 1.1v1.8l-1.1 1.1h-1.8l-1.1 -1.1v-1.8zM243.3 466.2h1.8l1.1 1.1v1.8l-1.1 1.1h-1.8l-1.1 -1.1v-1.8zM244 466.1h1.8l1.1 1.1v1.8l-1.1 1.1h-1.8l-1.1 -1.1v-1.8zM244.8 465.9h1.8l1.1 1.1v1.8l-1.1 1.1h-1.8l-1.1 -1.1v-1.8zM245.6 465.8h1.8l1.1 1.1v1.8l-1.1 1.1h-1.8l-1.1 -1.1v-1.8zM246.4 465.6h1.8l1.1 1.1v1.8l-1.1 1.1h-1.8l-1.1 -1.1v-1.8zM247.1 465.5h1.8l1.1 1.1v1.8l-1.1 1.1h-1.8l-1.1 -1.1v-1.8zM247.9 465.3h1.8l1.1 1.1v1.8l-1.1 1.1h-1.8l-1.1 -1.1v-1.8zM248.7 465.1h1.8l1.1 1.1v1.8l-1.1 1.1h-1.8l-1.1 -1.1v-1.8zM249.5 465h1.8l1.1 1.1v1.8l-1.1 1.1h-1.8l-1.1 -1.1v-1.8zM250.3 464.8h1.8l1.1 1.1v1.8l-1.1 1.1h-1.8l-1.1 -1.1v-1.8zM251.1 464.6h1.8l1.1 1.1v1.8l-1.1 1.1h-1.8l-1.1 -1.1v-1.8zM251.9 464.5h1.8l1.1 1.1v1.8l-1.1 1.1h-1.8l-1.1 -1.1v-1.8zM252.7 464.3h1.8l1.1 1.1v1.8l-1.1 1.1h-1.8l-1.1 -1.1v-1.8zM253.5 464.1h1.8l1.1 1.1v1.8l-1.1 1.1h-1.8l-1.1 -1.1v-1.8zM254.4 463.9h1.8l1.1 1.1v1.8l-1.1 1.1h-1.8l-1.1 -1.1v-1.8zM255.2 463.8h1.8l1.1 1.1v1.8l-1.1 1.1h-1.8l-1.1 -1.1v-1.8zM256 463.6h1.8l1.1 1.1v1.8l-1.1 1.1h-1.8l-1.1 -1.1v-1.8zM256.8 463.4h1.8l1.1 1.1v1.8l-1.1 1.1h-1.8l-1.1 -1.1v-1.8zM257.7 463.2h1.8l1.1 1.1v1.8l-1.1 1.1h-1.8l-1.1 -1.1v-1.8zM258.5 463h1.8l1.1 1.1v1.8l-1.1 1.1h-1.8l-1.1 -1.1v-1.8zM259.3 462.8h1.8l1.1 1.1v1.8l-1.1 1.1h-1.8l-1.1 -1.1v-1.8zM260.2 462.6h1.8l1.1 1.1v1.8l-1.1 1.1h-1.8l-1.1 -1.1v-1.8zM261 462.3h1.8l1.1 1.1v1.8l-1.1 1.1h-1.8l-1.1 -1.1v-1.8zM261.9 462.1h1.8l1.1 1.1v1.8l-1.1 1.1h-1.8l-1.1 -1.1v-1.8zM262.7 461.9h1.8l1.1 1.1v1.8l-1.1 1.1h-1.8l-1.1 -1.1v-1.8zM263.6 461.6h1.8l1.1 1.1v1.8l-1.1 1.1h-1.8l-1.1 -1.1v-1.8zM264.5 461.4h1.8l1.1 1.1v1.8l-1.1 1.1h-1.8l-1.1 -1.1v-1.8zM265.3 461.1h1.8l1.1 1.1v1.8l-1.1 1.1h-1.8l-1.1 -1.1v-1.8zM266.2 460.8h1.8l1.1 1.1v1.8l-1.1 1.1h-1.8l-1.1 -1.1v-1.8zM267.1 460.6h1.8l1.1 1.1v1.8l-1.1 1.1h-1.8l-1.1 -1.1v-1.8zM268 460.3h1.8l1.1 1.1v1.8l-1.1 1.1h-1.8l-1.1 -1.1v-1.8zM268.9 459.9h1.8l1.1 1.1v1.8l-1.1 1.1h-1.8l-1.1 -1.1v-1.8zM269.8 459.6h1.8l1.1 1.1v1.8l-1.1 1.1h-1.8l-1.1 -1.1v-1.8zM270.7 459.2h1.8l1.1 1.1v1.8l-1.1 1.1h-1.8l-1.1 -1.1v-1.8zM271.6 458.9h1.8l1.1 1.1v1.8l-1.1 1.1h-1.8l-1.1 -1.1v-1.8zM272.5 458.5h1.8l1.1 1.1v1.8l-1.1 1.1h-1.8l-1.1 -1.1v-1.8zM273.4 458.1h1.8l1.1 1.1v1.8l-1.1 1.1h-1.8l-1.1 -1.1v-1.8zM274.3 457.6h1.8l1.1 1.1v1.8l-1.1 1.1h-1.8l-1.1 -1.1v-1.8zM275.2 457.2h1.8l1.1 1.1v1.8l-1.1 1.1h-1.8l-1.1 -1.1v-1.8zM276.1 456.7h1.8l1.1 1.1v1.8l-1.1 1.1h-1.8l-1.1 -1.1v-1.8zM277.1 456.2h1.8l1.1 1.1v1.8l-1.1 1.1h-1.8l-1.1 -1.1v-1.8zM278 455.7h1.8l1.1 1.1v1.8l-1.1 1.1h-1.8l-1.1 -1.1v-1.8zM278.9 455.1h1.8l1.1 1.1v1.8l-1.1 1.1h-1.8l-1.1 -1.1v-1.8zM279.9 454.5h1.8l1.1 1.1v1.8l-1.1 1.1h-1.8l-1.1 -1.1v-1.8zM280.8 453.9h1.8l1.1 1.1v1.8l-1.1 1.1h-1.8l-1.1 -1.1v-1.8zM281.8 453.3h1.8l1.1 1.1v1.8l-1.1 1.1h-1.8l-1.1 -1.1v-1.8zM282.8 452.6h1.8l1.1 1.1v1.8l-1.1 1.1h-1.8l-1.1 -1.1v-1.8zM283.7 451.9h1.8l1.1 1.1v1.8l-1.1 1.1h-1.8l-1.1 -1.1v-1.8zM284.7 451.1h1.8l1.1 1.1v1.8l-1.1 1.1h-1.8l-1.1 -1.1v-1.8zM285.7 450.3h1.8l1.1 1.1v1.8l-1.1 1.1h-1.8l-1.1 -1.1v-1.8zM286.6 449.5h1.8l1.1 1.1v1.8l-1.1 1.1h-1.8l-1.1 -1.1v-1.8zM287.6 448.6h1.8l1.1 1.1v1.8l-1.1 1.1h-1.8l-1.1 -1.1v-1.8zM288.6 447.7h1.8l1.1 1.1v1.8l-1.1 1.1h-1.8l-1.1 -1.1v-1.8zM289.6 446.7h1.8l1.1 1.1v1.8l-1.1 1.1h-1.8l-1.1 -1.1v-1.8zM290.6 445.7h1.8l1.1 1.1v1.8l-1.1 1.1h-1.8l-1.1 -1.1v-1.8zM291.6 444.6h1.8l1.1 1.1v1.8l-1.1 1.1h-1.8l-1.1 -1.1v-1.8zM292.6 443.5h1.8l1.1 1.1v1.8l-1.1 1.1h-1.8l-1.1 -1.1v-1.8zM293.6 442.4h1.8l1.1 1.1v1.8l-1.1 1.1h-1.8l-1.1 -1.1v-1.8zM294.7 441.2h1.8l1.1 1.1v1.8l-1.1 1.1h-1.8l-1.1 -1.1v-1.8zM295.7 439.9h1.8l1.1 1.1v1.8l-1.1 1.1h-1.8l-1.1 -1.1v-1.8zM296.7 438.5h1.8l1.1 1.1v1.8l-1.1 1.1h-1.8l-1.1 -1.1v-1.8zM297.8 437.1h1.8l1.1 1.1v1.8l-1.1 1.1h-1.8l-1.1 -1.1v-1.8zM298.8 435.7h1.8l1.1 1.1v1.8l-1.1 1.1h-1.8l-1.1 -1.1v-1.8zM299.9 434.2h1.8l1.1 1.1v1.8l-1.1 1.1h-1.8l-1.1 -1.1v-1.8zM300.9 432.6h1.8l1.1 1.1v1.8l-1.1 1.1h-1.8l-1.1 -1.1v-1.8zM302 430.9h1.8l1.1 1.1v1.8l-1.1 1.1h-1.8l-1.1 -1.1v-1.8zM303.1 429.2h1.8l1.1 1.1v1.8l-1.1 1.1h-1.8l-1.1 -1.1v-1.8zM304.1 427.4h1.8l1.1 1.1v1.8l-1.1 1.1h-1.8l-1.1 -1.1v-1.8zM305.2 425.5h1.8l1.1 1.1v1.8l-1.1 1.1h-1.8l-1.1 -1.1v-1.8zM306.3 423.5h1.8l1.1 1.1v1.8l-1.1 1.1h-1.8l-1.1 -1.1v-1.8zM307.4 421.4h1.8l1.1 1.1v1.8l-1.1 1.1h-1.8l-1.1 -1.1v-1.8zM308.5 419.3h1.8l1.1 1.1v1.8l-1.1 1.1h-1.8l-1.1 -1.1v-1.8zM309.6 417h1.8l1.1 1.1v1.8l-1.1 1.1h-1.8l-1.1 -1.1v-1.8zM310.7 414.6h1.8l1.1 1.1v1.8l-1.1 1.1h-1.8l-1.1 -1.1v-1.8zM311.8 412.1h1.8l1.1 1.1v1.8l-1.1 1.1h-1.8l-1.1 -1.1v-1.8zM312.9 409.4h1.8l1.1 1.1v1.8l-1.1 1.1h-1.8l-1.1 -1.1v-1.8zM314.1 406.7h1.8l1.1 1.1v1.8l-1.1 1.1h-1.8l-1.1 -1.1v-1.8zM315.2 403.7h1.8l1.1 1.1v1.8l-1.1 1.1h-1.8l-1.1 -1.1v-1.8zM316.3 400.6h1.8l1.1 1.1v1.8l-1.1 1.1h-1.8l-1.1 -1.1v-1.8zM317.5 397.3h1.8l1.1 1.1v1.8l-1.1 1.1h-1.8l-1.1 -1.1v-1.8zM318.6 393.6h1.8l1.1 1.1v1.8l-1.1 1.1h-1.8l-1.1 -1.1v-1.8zM319.8 389.3h1.8l1.1 1.1v1.8l-1.1 1.1h-1.8l-1.1 -1.1v-1.8zM321 384.3h1.8l1.1 1.1v1.8l-1.1 1.1h-1.8l-1.1 -1.1v-1.8zM322.2 378.5h1.8l1.1 1.1v1.8l-1.1 1.1h-1.8l-1.1 -1.1v-1.8zM323.3 372h1.8l1.1 1.1v1.8l-1.1 1.1h-1.8l-1.1 -1.1v-1.8zM324.5 365h1.8l1.1 1.1v1.8l-1.1 1.1h-1.8l-1.1 -1.1v-1.8zM325.7 357.8h1.8l1.1 1.1v1.8l-1.1 1.1h-1.8l-1.1 -1.1v-1.8zM326.9 350.4h1.8l1.1 1.1v1.8l-1.1 1.1h-1.8l-1.1 -1.1v-1.8zM328.1 343.2h1.8l1.1 1.1v1.8l-1.1 1.1h-1.8l-1.1 -1.1v-1.8zM329.3 335.8h1.8l1.1 1.1v1.8l-1.1 1.1h-1.8l-1.1 -1.1v-1.8zM330.6 328.1h1.8l1.1 1.1v1.8l-1.1 1.1h-1.8l-1.1 -1.1v-1.8zM331.8 319.6h1.8l1.1 1.1v1.8l-1.1 1.1h-1.8l-1.1 -1.1v-1.8zM333 310.2h1.8l1.1 1.1v1.8l-1.1 1.1h-1.8l-1.1 -1.1v-1.8zM334.3 299.4h1.8l1.1 1.1v1.8l-1.1 1.1h-1.8l-1.1 -1.1v-1.8zM335.5 286.9h1.8l1.1 1.1v1.8l-1.1 1.1h-1.8l-1.1 -1.1v-1.8zM336.8 272.3h1.8l1.1 1.1v1.8l-1.1 1.1h-1.8l-1.1 -1.1v-1.8z" fill="#ff0000"/>
<path d="M51 477 51.7 476.9 52.4 476.8 53.1 476.8 53.8 476.7 54.5 476.7 55.2 476.6 55.9 476.5 56.5 476.5 57.2 476.4 57.9 476.4 58.6 476.3 59.3 476.2 60 476.2 60.7 476.1 61.4 476.1 62.1 476 62.8 476 63.5 475.9 64.2 475.9 64.9 475.8 65.6 475.8 66.3 475.7 67 475.7 67.6 475.7 68.3 475.6 69 475.6 69.7 475.5 70.4 475.5 71.1 475.5 71.8 475.4 72.5 475.4 73.2 475.4 73.9 475.3 74.6 475.3 75.3 475.3 76 475.2 76.7 475.2 77.4 475.2 78.1 475.1 78.7 475.1 79.4 475.1 80.1 475.1 80.8 475 81.5 475 82.2 475 82.9 475 83.6 474.9 84.3 474.9 85 474.9 85.7 474.9 86.4 474.8 87.1 474.8 87.8 474.8 88.5 474.8 89.2 474.8 89.8 474.7 90.5 474.7 91.2 474.7 91.9 474.7 92.6 474.7 93.3 474.7 94 474.7 94.7 474.6 95.4 474.6 96.1 474.6 96.8 474.6 97.5 474.6 98.2 474.6 98.9 474.6 99.6 474.6 100.3 474.5 100.9 474.5 101.6 474.5 102.3 474.5 103 474.5 103.7 474.5 104.4 474.5 105.1 474.5 105.8 474.5 106.5 474.5 107.2 474.4 107.9 474.4 108.6 474.4 109.3 474.4 110 474.4 110.7 474.4 111.4 474.4 112 474.4 112.7 474.4 113.4 474.4 114.1 474.4 114.8 474.4 115.5 474.4 116.2 474.3 116.9 474.3 117.6 474.3 118.3 474.3 119 474.3 119.7 474.3 120.4 474.3 121.1 474.3 121.8 474.3 122.5 474.3 123.1 474.3 123.8 474.3 124.5 474.3 125.2 474.3 125.9 474.2 126.6 474.2 127.3 474.2 128 474.2 128.7 474.2 129.4 474.2 130.1 474.2 130.8 474.2 131.5 474.2 132.2 474.2 132.9 474.2 133.6 474.1 134.2 474.1 134.9 474.1 135.6 474.1 136.3 474.1 137 474.1 137.7 474.1 138.4 474.1 139.1 474 139.8 474 140.5 474 141.2 474 141.9 474 142.6 474 143.3 474 144 473.9 144.7 473.9 145.3 473.9 146 473.9 146.7 473.9 147.4 473.8 148.1 473.8 148.8 473.8 149.5 473.8 150.2 473.8 150.9 473.7 151.6 473.7 152.3 473.7 153 473.7 153.7 473.6 154.4 473.6 155.1 473.6 155.8 473.5 156.4 473.5 157.1 473.5 157.8 473.5 158.5 473.4 159.2 473.4 159.9 473.4 160.6 473.3 161.3 473.3 162 473.3 162.7 473.2 163.4 473.2 164.1 473.1 164.8 473.1 165.5 473.1 166.2 473 166.9 473 167.5 472.9 168.2 472.9 168.9 472.8 169.6 472.8 170.3 472.8 171 472.7 171.7 472.7 172.4 472.6 173.1 472.6 173.8 472.5 174.5 472.4 175.2 472.4 175.9 472.3 176.6 472.3 177.3 472.2 178 472.2 178.6 472.1 179.3 472 180 472 180.7 471.9 181.4 471.8 182.1 471.8 182.8 471.7 183.5 471.6 184.2 471.6 184.9 471.5 185.6 471.4 186.3 471.3 187 471.3 187.7 471.2 188.4 471.1 189.1 471 189.7 470.9 190.4 470.9 191.1 470.8 191.8 470.7 192.5 470.6 193.2 470.5 193.9 470.4 194.6 470.3 195.3 470.2 196 470.1 196.7 470 197.4 469.9 198.1 469.8 198.8 469.7 199.5 469.6 200.2 469.5 200.8 469.4 201.5 469.3 202.2 469.2 202.9 469.1 203.6 469 204.3 468.8 205 468.7 205.7 468.6 206.4 468.5 207.1 468.4 207.8 468.2 208.5 468.1 209.2 468 209.9 467.9 210.6 467.7 211.3 467.6 211.9 467.4 212.6 467.3 213.3 467.2 214 467 214.7 466.9 215.4 466.7 216.1 466.6 216.8 466.4 217.5 466.3 218.2 466.1 218.9 466 219.6 465.8 220.3 465.7 221 465.5 221.7 465.3 222.4 465.2 223 465 223.7 464.9 224.4 464.7 225.1 464.5 225.8 464.3 226.5 464.2 227.2 464 227.9 463.8 228.6 463.7 229.3 463.5 230 463.3 230.7 463.1 231.4 462.9 232.1 462.8 232.8 462.6 233.5 462.4 234.1 462.2 234.8 462 235.5 461.8 236.2 461.7 236.9 461.5 237.6 461.3 238.3 461.1 239 460.9 239.7 460.7 240.4 460.5 241.1 460.4 241.8 460.2 242.5 460 243.2 459.8 243.9 459.6 244.6 459.4 245.2 459.2 245.9 459 246.6 458.9 247.3 458.7 248 458.5 248.7 458.3 249.4 458.1 250.1 457.9 250.8 457.7 251.5 457.5 252.2 457.4 252.9 457.2 253.6 457 254.3 456.8 255 456.6 255.7 456.4 256.3 456.2 257 456.1 257.7 455.9 258.4 455.7 259.1 455.5 259.8 455.3 260.5 455.1 261.2 454.9 261.9 454.8 262.6 454.5 263.3 454.3 264 454.1 264.7 453.9 265.4 453.7 266.1 453.4 266.8 453.1 267.4 452.9 268.1 452.6 268.8 452.3 269.5 452 270.2 451.6 270.9 451.3 271.6 450.9 272.3 450.5 273 450.1 273.7 449.7 274.4 449.2 275.1 448.8 275.8 448.3 276.5 447.7 277.2 447.2 277.9 446.6 278.5 446 279.2 445.4 279.9 444.7 280.6 444 281.3 443.3 282 442.5 282.7 441.7 283.4 440.9 284.1 440 284.8 439.1 285.5 438.2 286.2 437.2 286.9 436.2 287.6 435.1 288.3 434.1 289 432.9 289.6 431.8 290.3 430.6 291 429.4 291.7 428.1 292.4 426.9 293.1 425.6 293.8 424.2 294.5 422.8 295.2 421.4 295.9 420 296.6 418.5 297.3 417 298 415.5 298.7 413.9 299.4 412.3 300.1 410.7 300.7 409.1 301.4 407.4 302.1 405.7 302.8 404 303.5 402.2 304.2 400.3 304.9 398.4 305.6 396.4 306.3 394.4 307 392.3 307.7 390 308.4 387.7 309.1 385.2 309.8 382.6 310.5 379.9 311.2 377.1 311.8 374.1 312.5 370.9 313.2 367.6 313.9 364.2 314.6 360.6 315.3 356.9 316 353.1 316.7 349.3 317.4 345.3 318.1 341.3 318.8 337.1 319.5 332.8 320.2 328.3 320.9 323.6 321.6 318.6 322.3 313.4 322.9 307.9 323.6 302.2 324.3 296.3 325 290.4 325.7 284.4 326.4 278.5 327.1 272.7 327.8 267" fill="none" stroke="#0000ff" stroke-width="0.7"/>
<path d="M51 474.8L53.1 478.5H48.9zM51.7 474.8L53.8 478.5H49.6zM52.4 474.7L54.5 478.4H50.3zM53.1 474.6L55.2 478.3H51zM53.8 474.6L55.9 478.3H51.7zM54.5 474.5L56.6 478.2H52.4zM55.2 474.4L57.3 478.1H53.1zM55.9 474.4L58 478.1H53.8zM56.6 474.3L58.7 478H54.5zM57.3 474.3L59.4 478H55.2zM58 474.2L60.1 477.9H55.9zM58.7 474.1L60.8 477.9H56.6zM59.4 474.1L61.5 477.8H57.3zM60.1 474L62.2 477.7H58zM60.8 474L62.9 477.7H58.7zM61.5 473.9L63.6 477.6H59.4zM62.2 473.9L64.3 477.6H60.1zM62.9 473.8L65 477.5H60.8zM63.6 473.8L65.7 477.5H61.5zM64.3 473.7L66.4 477.4H62.2zM65 473.7L67.1 477.4H62.9zM65.7 473.6L67.8 477.3H63.6zM66.4 473.6L68.5 477.3H64.3zM67.1 473.6L69.2 477.3H65zM67.8 473.5L69.9 477.2H65.7zM68.5 473.5L70.6 477.2H66.4zM69.2 473.4L71.3 477.1H67.1zM69.9 473.4L72 477.1H67.8zM70.6 473.3L72.7 477.1H68.5zM71.3 473.3L73.4 477H69.2zM72 473.3L74.1 477H69.9zM72.7 473.2L74.8 476.9H70.6zM73.4 473.2L75.5 476.9H71.3zM74.1 473.2L76.2 476.9H72zM74.8 473.1L76.9 476.8H72.7zM75.5 473.1L77.6 476.8H73.4zM76.2 473.1L78.3 476.8H74.1zM76.9 473L79 476.7H74.8zM77.6 473L79.7 476.7H75.5zM78.3 473L80.4 476.7H76.2zM79 473L81.1 476.7H76.9zM79.7 472.9L81.8 476.6H77.6zM80.4 472.9L82.5 476.6H78.3zM81.1 472.9L83.2 476.6H79zM81.8 472.8L83.9 476.6H79.7zM82.5 472.8L84.6 476.5H80.4zM83.2 472.8L85.3 476.5H81.1zM83.9 472.8L86 476.5H81.8zM84.6 472.8L86.7 476.5H82.5zM85.3 472.7L87.4 476.4H83.2zM86 472.7L88.1 476.4H83.9zM86.7 472.7L88.8 476.4H84.6zM87.4 472.7L89.5 476.4H85.3zM88.1 472.6L90.2 476.4H86zM88.8 472.6L90.9 476.3H86.7zM89.5 472.6L91.6 476.3H87.4zM90.2 472.6L92.3 476.3H88.1zM90.9 472.6L93 476.3H88.8zM91.6 472.6L93.7 476.3H89.5zM92.3 472.5L94.4 476.3H90.2zM93 472.5L95.1 476.2H90.9zM93.7 472.5L95.8 476.2H91.6zM94.4 472.5L96.5 476.2H92.3zM95.1 472.5L97.2 476.2H93zM95.8 472.5L97.9 476.2H93.7zM96.5 472.5L98.6 476.2H94.4zM97.2 472.4L99.3 476.2H95.1zM97.9 472.4L100 476.1H95.8zM98.6 472.4L100.7 476.1H96.5zM99.3 472.4L101.4 476.1H97.2zM100 472.4L102.1 476.1H97.9zM100.7 472.4L102.8 476.1H98.6zM101.4 472.4L103.5 476.1H99.3zM102.1 472.4L104.2 476.1H100zM102.8 472.4L104.9 476.1H100.7zM103.5 472.3L105.6 476.1H101.4zM104.2 472.3L106.3 476H102.1zM104.9 472.3L107 476H102.8zM105.6 472.3L107.7 476H103.5zM106.3 472.3L108.4 476H104.2zM107 472.3L109.1 476H104.9zM107.7 472.3L109.8 476H105.6zM108.4 472.3L110.5 476H106.3zM109.1 472.3L111.2 476H107zM109.8 472.3L111.9 476H107.7zM110.5 472.3L112.6 476H108.4zM111.2 472.3L113.3 476H109.1zM111.9 472.2L114 476H109.8zM112.6 472.2L114.7 475.9H110.5zM113.3 472.2L115.4 475.9H111.2zM114 472.2L116.1 475.9H111.9zM114.7 472.2L116.8 475.9H112.6zM115.4 472.2L117.5 475.9H113.3zM116.1 472.2L118.2 475.9H114zM116.8 472.2L118.9 475.9H114.7zM117.5 472.2L119.6 475.9H115.4zM118.2 472.2L120.3 475.9H116.1zM118.9 472.2L121 475.9H116.8zM119.6 472.2L121.7 475.9H117.5zM120.3 472.2L122.4 475.9H118.2zM121 472.2L123.1 475.9H118.9zM121.7 472.1L123.8 475.9H119.6zM122.4 472.1L124.5 475.8H120.3zM123.1 472.1L125.2 475.8H121zM123.8 472.1L125.9 475.8H121.7zM124.5 472.1L126.6 475.8H122.4zM125.2 472.1L127.3 475.8H123.1zM125.9 472.1L128 475.8H123.8zM126.6 472.1L128.7 475.8H124.5zM127.3 472.1L129.4 475.8H125.2zM128 472.1L130.1 475.8H125.9zM128.7 472.1L130.8 475.8H126.6zM129.4 472.1L131.5 475.8H127.3zM130.1 472L132.2 475.8H128zM130.8 472L132.9 475.7H128.7zM131.5 472L133.6 475.7H129.4zM132.2 472L134.3 475.7H130.1zM132.9 472L135 475.7H130.8zM133.6 472L135.7 475.7H131.5zM134.3 472L136.4 475.7H132.2zM135 472L137.1 475.7H132.9zM135.7 472L137.8 475.7H133.6zM136.4 472L138.5 475.7H134.3zM137.1 471.9L139.2 475.6H135zM137.8 471.9L139.9 475.6H135.7zM138.5 471.9L140.6 475.6H136.4zM139.2 471.9L141.3 475.6H137.1zM139.9 471.9L142 475.6H137.8zM140.6 471.9L142.7 475.6H138.5zM141.3 471.9L143.4 475.6H139.2zM142 471.8L144.1 475.5H139.9zM142.7 471.8L144.8 475.5H140.6zM143.4 471.8L145.5 475.5H141.3zM144.1 471.8L146.2 475.5H142zM144.8 471.8L146.9 475.5H142.7zM145.5 471.8L147.6 475.5H143.4zM146.2 471.7L148.3 475.4H144.1zM146.9 471.7L149 475.4H144.8zM147.6 471.7L149.7 475.4H145.5zM148.3 471.7L150.4 475.4H146.2zM149 471.6L151.1 475.4H146.9zM149.7 471.6L151.8 475.3H147.6zM150.4 471.6L152.5 475.3H148.3zM151.1 471.6L153.2 475.3H149zM151.8 471.6L153.9 475.3H149.7zM152.5 471.5L154.6 475.2H150.4zM153.2 471.5L155.3 475.2H151.1zM153.9 471.5L156 475.2H151.8zM154.6 471.5L156.7 475.2H152.5zM155.3 471.4L157.4 475.1H153.2zM156 471.4L158.1 475.1H153.9zM156.7 471.4L158.8 475.1H154.6zM157.4 471.3L159.5 475H155.3zM158.1 471.3L160.2 475H156zM158.8 471.3L160.9 475H156.7zM159.5 471.2L161.6 474.9H157.4zM160.2 471.2L162.3 474.9H158.1zM160.9 471.2L163 474.9H158.8zM161.6 471.1L163.7 474.8H159.5zM162.3 471.1L164.4 474.8H160.2zM163 471.1L165.1 474.8H160.9zM163.7 471L165.8 474.7H161.6zM164.4 471L166.5 474.7H162.3zM165.1 470.9L167.2 474.6H163zM165.8 470.9L167.9 474.6H163.7zM166.5 470.9L168.6 474.6H164.4zM167.2 470.8L169.3 474.5H165.1zM167.9 470.8L170 474.5H165.8zM168.6 470.7L170.7 474.4H166.5zM169.3 470.7L171.4 474.4H167.2zM170 470.6L172.1 474.3H167.9zM170.7 470.6L172.8 474.3H168.6zM171.4 470.5L173.5 474.2H169.3zM172.1 470.5L174.2 474.2H170zM172.8 470.4L174.9 474.1H170.7zM173.5 470.4L175.6 474.1H171.4zM174.2 470.3L176.3 474H172.1zM174.9 470.3L177 474H172.8zM175.6 470.2L177.7 473.9H173.5zM176.3 470.2L178.4 473.9H174.2zM177 470.1L179.1 473.8H174.9zM177.7 470L179.8 473.7H175.6zM178.4 470L180.5 473.7H176.3zM179.1 469.9L181.2 473.6H177zM179.8 469.8L181.9 473.6H177.7zM180.5 469.8L182.6 473.5H178.4zM181.2 469.7L183.3 473.4H179.1zM181.9 469.6L184 473.4H179.8zM182.6 469.6L184.7 473.3H180.5zM183.3 469.5L185.4 473.2H181.2zM184 469.4L186.1 473.1H181.9zM184.7 469.4L186.8 473.1H182.6zM185.4 469.3L187.5 473H183.3zM186.1 469.2L188.2 472.9H184zM186.8 469.1L188.9 472.8H184.7zM187.5 469.1L189.6 472.8H185.4zM188.2 469L190.3 472.7H186.1zM188.9 468.9L191 472.6H186.8zM189.6 468.8L191.7 472.5H187.5zM190.3 468.7L192.4 472.4H188.2zM191 468.6L193.1 472.3H188.9zM191.7 468.6L193.8 472.3H189.6zM192.4 468.5L194.5 472.2H190.3zM193.1 468.4L195.2 472.1H191zM193.8 468.3L195.9 472H191.7zM194.5 468.2L196.6 471.9H192.4zM195.2 468.1L197.3 471.8H193.1zM195.9 468L198 471.7H193.8zM196.6 467.9L198.7 471.6H194.5zM197.3 467.8L199.4 471.5H195.2zM198 467.7L200.1 471.4H195.9zM198.7 467.6L200.8 471.3H196.6zM199.4 467.5L201.5 471.2H197.3zM200.1 467.4L202.2 471.1H198zM200.8 467.3L202.9 471H198.7zM201.5 467.2L203.6 470.9H199.4zM202.2 467.1L204.3 470.8H200.1zM202.9 466.9L205 470.6H200.8zM203.6 466.8L205.7 470.5H201.5zM204.3 466.7L206.4 470.4H202.2zM205 466.6L207.1 470.3H202.9zM205.7 466.5L207.8 470.2H203.6zM206.4 466.3L208.5 470H204.3zM207.1 466.2L209.2 469.9H205zM207.8 466.1L209.9 469.8H205.7zM208.5 466L210.6 469.7H206.4zM209.2 465.8L211.3 469.5H207.1zM209.9 465.7L212 469.4H207.8zM210.6 465.6L212.7 469.3H208.5zM211.3 465.4L213.4 469.1H209.2zM212 465.3L214.1 469H209.9zM212.7 465.2L214.8 468.9H210.6zM213.4 465L215.5 468.7H211.3zM214.1 464.9L216.2 468.6H212zM214.8 464.7L216.9 468.4H212.7zM215.5 464.6L217.6 468.3H213.4zM216.2 464.4L218.3 468.1H214.1zM216.9 464.3L219 468H214.8zM217.6 464.1L219.7 467.8H215.5zM218.3 464L220.4 467.7H216.2zM219 463.8L221.1 467.5H216.9zM219.7 463.7L221.8 467.4H217.6zM220.4 463.5L222.5 467.2H218.3zM221.1 463.3L223.2 467H219zM221.8 463.2L223.9 466.9H219.7zM222.5 463L224.6 466.7H220.4zM223.2 462.8L225.3 466.5H221.1zM223.9 462.7L226 466.4H221.8zM224.6 462.5L226.7 466.2H222.5zM225.3 462.3L227.4 466H223.2zM226 462.2L228.1 465.9H223.9zM226.7 462L228.8 465.7H224.6zM227.4 461.8L229.5 465.5H225.3zM228.1 461.6L230.2 465.3H226zM228.8 461.5L230.9 465.2H226.7zM229.5 461.3L231.6 465H227.4zM230.2 461.1L232.3 464.8H228.1zM230.9 460.9L233.1 464.6H228.8zM231.6 460.7L233.8 464.4H229.5zM232.3 460.5L234.5 464.3H230.2zM233 460.4L235.2 464.1H230.9zM233.8 460.2L235.9 463.9H231.6zM234.5 460L236.6 463.7H232.3zM235.2 459.8L237.3 463.5H233.1zM235.9 459.6L238.1 463.3H233.8zM236.7 459.4L238.8 463.1H234.5zM237.4 459.2L239.5 462.9H235.2zM238.1 459L240.3 462.7H236zM238.9 458.8L241 462.5H236.7zM239.6 458.6L241.8 462.3H237.5zM240.4 458.4L242.5 462.1H238.2zM241.1 458.2L243.3 461.9H239zM241.9 458L244 461.7H239.7zM242.6 457.8L244.8 461.5H240.5zM243.4 457.6L245.5 461.3H241.2zM244.1 457.4L246.3 461.1H242zM244.9 457.2L247.1 460.9H242.8zM245.7 457L247.8 460.7H243.5zM246.5 456.8L248.6 460.5H244.3zM247.2 456.5L249.4 460.3H245.1zM248 456.3L250.2 460H245.9zM248.8 456.1L251 459.8H246.7zM249.6 455.9L251.7 459.6H247.5zM250.4 455.7L252.5 459.4H248.2zM251.2 455.5L253.3 459.2H249zM252 455.3L254.1 459H249.8zM252.8 455L254.9 458.7H250.6zM253.6 454.8L255.7 458.5H251.5zM254.4 454.6L256.6 458.3H252.3zM255.2 454.4L257.4 458.1H253.1zM256.1 454.2L258.2 457.9H253.9zM256.9 454L259 457.7H254.7zM257.7 453.7L259.9 457.4H255.6zM258.5 453.5L260.7 457.2H256.4zM259.4 453.3L261.5 457H257.2zM260.2 453.1L262.4 456.8H258.1zM261.1 452.8L263.2 456.5H258.9zM261.9 452.6L264.1 456.3H259.8zM262.8 452.3L264.9 456.1H260.6zM263.6 452.1L265.8 455.8H261.5zM264.5 451.8L266.6 455.5H262.3zM265.4 451.5L267.5 455.2H263.2zM266.2 451.2L268.4 454.9H264.1zM267.1 450.9L269.2 454.6H265zM268 450.5L270.1 454.2H265.8zM268.9 450.1L271 453.8H266.7zM269.8 449.7L271.9 453.4H267.6zM270.6 449.3L272.8 453H268.5zM271.5 448.8L273.7 452.5H269.4zM272.4 448.3L274.6 452H270.3zM273.4 447.8L275.5 451.5H271.2zM274.3 447.2L276.4 450.9H272.1zM275.2 446.5L277.3 450.2H273zM276.1 445.9L278.2 449.6H274zM277 445.1L279.2 448.8H274.9zM278 444.4L280.1 448.1H275.8zM278.9 443.5L281 447.2H276.7zM279.8 442.6L282 446.4H277.7zM280.8 441.7L282.9 445.4H278.6zM281.7 440.7L283.9 444.4H279.6zM282.7 439.6L284.8 443.3H280.5zM283.6 438.4L285.8 442.1H281.5zM284.6 437.2L286.7 440.9H282.5zM285.6 435.9L287.7 439.6H283.4zM286.5 434.5L288.7 438.2H284.4zM287.5 433.1L289.7 436.8H285.4zM288.5 431.5L290.7 435.2H286.4zM289.5 429.9L291.6 433.6H287.4zM290.5 428.2L292.6 431.9H288.3zM291.5 426.4L293.6 430.1H289.3zM292.5 424.6L294.6 428.3H290.4zM293.5 422.6L295.7 426.4H291.4zM294.5 420.6L296.7 424.3H292.4zM295.5 418.5L297.7 422.3H293.4zM296.6 416.4L298.7 420.1H294.4zM297.6 414.1L299.8 417.8H295.5zM298.6 411.8L300.8 415.5H296.5zM299.7 409.4L301.8 413.1H297.5zM300.7 406.9L302.9 410.6H298.6zM301.8 404.4L303.9 408.1H299.7zM302.9 401.7L305 405.4H300.7zM303.9 398.9L306.1 402.6H301.8zM305 396L307.1 399.7H302.9zM306.1 392.9L308.2 396.6H303.9zM307.2 389.5L309.3 393.2H305zM308.3 385.9L310.4 389.6H306.1zM309.4 382L311.5 385.7H307.2zM310.5 377.8L312.6 381.5H308.3zM311.6 373.1L313.7 376.8H309.4zM312.7 368.1L314.8 371.8H310.5zM313.8 362.6L316 366.3H311.7zM314.9 356.8L317.1 360.5H312.8zM316.1 350.6L318.2 354.3H313.9zM317.2 344.2L319.4 347.9H315.1zM318.4 337.5L320.5 341.2H316.2zM319.5 330.4L321.7 334.1H317.4zM320.7 322.7L322.8 326.4H318.5zM321.9 314.3L324 318H319.7zM323 305.1L325.2 308.8H320.9zM324.2 295.2L326.4 298.9H322.1zM325.4 285L327.5 288.7H323.3zM326.6 274.8L328.7 278.5H324.5zM327.8 264.9L329.9 268.6H325.7z" fill="#0000ff"/>
<path d="M51 477.1 51.7 477.1 52.4 477.1 53.2 477.1 53.9 477.1 54.6 477.1 55.3 477.1 56 477.1 56.8 477.1 57.5 477.1 58.2 477.1 58.9 477.1 59.6 477.1 60.3 477.1 61.1 477.1 61.8 477.1 62.5 477.1 63.2 477.1 63.9 477.1 64.7 477.1 65.4 477.1 66.1 477.1 66.8 477.1 67.5 477 68.3 477 69 477 69.7 477 70.4 477 71.1 477 71.8 477 72.6 477 73.3 477 74 477 74.7 477 75.4 477 76.2 477 76.9 476.9 77.6 476.9 78.3 476.9 79 476.9 79.8 476.9 80.5 476.9 81.2 476.9 81.9 476.9 82.6 476.9 83.3 476.9 84.1 476.8 84.8 476.8 85.5 476.8 86.2 476.8 86.9 476.8 87.7 476.8 88.4 476.8 89.1 476.7 89.8 476.7 90.5 476.7 91.3 476.7 92 476.7 92.7 476.7 93.4 476.6 94.1 476.6 94.8 476.6 95.6 476.6 96.3 476.6 97 476.5 97.7 476.5 98.4 476.5 99.2 476.5 99.9 476.5 100.6 476.4 101.3 476.4 102 476.4 102.8 476.4 103.5 476.4 104.2 476.3 104.9 476.3 105.6 476.3 106.3 476.3 107.1 476.2 107.8 476.2 108.5 476.2 109.2 476.2 109.9 476.1 110.7 476.1 111.4 476.1 112.1 476 112.8 476 113.5 476 114.3 475.9 115 475.9 115.7 475.9 116.4 475.9 117.1 475.8 117.8 475.8 118.6 475.8 119.3 475.7 120 475.7 120.7 475.6 121.4 475.6 122.2 475.6 122.9 475.5 123.6 475.5 124.3 475.5 125 475.4 125.8 475.4 126.5 475.3 127.2 475.3 127.9 475.3 128.6 475.2 129.3 475.2 130.1 475.1 130.8 475.1 131.5 475 132.2 475 132.9 475 133.7 474.9 134.4 474.9 135.1 474.8 135.8 474.8 136.5 474.7 137.3 474.7 138 474.6 138.7 474.6 139.4 474.5 140.1 474.5 140.8 474.4 141.6 474.4 142.3 474.3 143 474.2 143.7 474.2 144.4 474.1 145.2 474.1 145.9 474 146.6 474 147.3 473.9 148 473.8 148.8 473.8 149.5 473.7 150.2 473.7 150.9 473.6 151.6 473.5 152.4 473.5 153.1 473.4 153.8 473.3 154.5 473.3 155.2 473.2 155.9 473.1 156.7 473.1 157.4 473 158.1 472.9 158.8 472.8 159.5 472.8 160.3 472.7 161 472.6 161.7 472.5 162.4 472.5 163.1 472.4 163.9 472.3 164.6 472.2 165.3 472.2 166 472.1 166.7 472 167.4 471.9 168.2 471.8 168.9 471.7 169.6 471.7 170.3 471.6 171 471.5 171.8 471.4 172.5 471.3 173.2 471.2 173.9 471.1 174.6 471.1 175.4 471 176.1 470.9 176.8 470.8 177.5 470.7 178.2 470.6 178.9 470.5 179.7 470.4 180.4 470.3 181.1 470.2 181.8 470.1 182.5 470 183.3 469.9 184 469.8 184.7 469.7 185.4 469.6 186.1 469.5 186.9 469.4 187.6 469.3 188.3 469.2 189 469 189.7 468.9 190.4 468.8 191.2 468.7 191.9 468.6 192.6 468.5 193.3 468.4 194 468.3 194.8 468.1 195.5 468 196.2 467.9 196.9 467.8 197.6 467.7 198.4 467.5 199.1 467.4 199.8 467.3 200.5 467.2 201.2 467 201.9 466.9 202.7 466.8 203.4 466.6 204.1 466.5 204.8 466.4 205.5 466.3 206.3 466.1 207 466 207.7 465.8 208.4 465.7 209.1 465.6 209.9 465.4 210.6 465.3 211.3 465.1 212 465 212.7 464.9 213.4 464.7 214.2 464.6 214.9 464.4 215.6 464.3 216.3 464.1 217 464 217.8 463.8 218.5 463.7 219.2 463.5 219.9 463.4 220.6 463.2 221.4 463 222.1 462.9 222.8 462.7 223.5 462.6 224.2 462.4 224.9 462.2 225.7 462.1 226.4 461.9 227.1 461.7 227.8 461.6 228.5 461.4 229.3 461.2 230 461 230.7 460.9 231.4 460.7 232.1 460.5 232.9 460.3 233.6 460.2 234.3 460 235 459.8 235.7 459.6 236.4 459.4 237.2 459.3 237.9 459.1 238.6 458.9 239.3 458.7 240 458.5 240.8 458.3 241.5 458.1 242.2 457.9 242.9 457.7 243.6 457.5 244.4 457.3 245.1 457.1 245.8 456.9 246.5 456.7 247.2 456.5 248 456.3 248.7 456.1 249.4 455.9 250.1 455.7 250.8 455.5 251.5 455.3 252.3 455.1 253 454.8 253.7 454.6 254.4 454.4 255.1 454.2 255.9 454 256.6 453.8 257.3 453.5 258 453.3 258.7 453.1 259.5 452.9 260.2 452.6 260.9 452.4 261.6 452.1 262.3 451.9 263 451.7 263.8 451.4 264.5 451.2 265.2 450.9 265.9 450.7 266.6 450.4 267.4 450.1 268.1 449.8 268.8 449.6 269.5 449.3 270.2 449 271 448.7 271.7 448.4 272.4 448.1 273.1 447.7 273.8 447.4 274.5 447.1 275.3 446.7 276 446.4 276.7 446 277.4 445.6 278.1 445.3 278.9 444.9 279.6 444.5 280.3 444.1 281 443.6 281.7 443.2 282.5 442.8 283.2 442.3 283.9 441.8 284.6 441.4 285.3 440.9 286 440.4 286.8 439.9 287.5 439.3 288.2 438.8 288.9 438.2 289.6 437.7 290.4 437.1 291.1 436.5 291.8 435.9 292.5 435.2 293.2 434.6 294 433.9 294.7 433.3 295.4 432.6 296.1 431.9 296.8 431.1 297.5 430.4 298.3 429.6 299 428.9 299.7 428.1 300.4 427.2 301.1 426.4 301.9 425.5 302.6 424.6 303.3 423.6 304 422.6 304.7 421.5 305.5 420.4 306.2 419.2 306.9 417.9 307.6 416.6 308.3 415.1 309 413.6 309.8 412.1 310.5 410.4 311.2 408.6 311.9 406.7 312.6 404.8 313.4 402.7 314.1 400.5 314.8 398.2 315.5 395.7 316.2 393.2 317 390.7 317.7 388 318.4 385.4 319.1 382.6 319.8 379.9 320.5 377.1 321.3 374.4 322 371.6 322.7 368.9 323.4 366.2 324.1 363.6 324.9 361 325.6 358.3 326.3 355.6 327 352.8 327.7 349.9 328.5 346.7 329.2 343.4 329.9 339.7 330.6 335.8 331.3 331.5 332 326.9 332.8 321.8 333.5 316.2 334.2 310.1 334.9 303.4 335.6 295.9 336.4 287.6 337.1 278.3 337.8 268" fill="none" stroke="#ff00ff" stroke-width="0.7"/>
<path d="M51 479.3L53.1 475.6H48.9zM51.7 479.3L53.8 475.6H49.6zM52.4 479.3L54.5 475.6H50.3zM53.1 479.3L55.2 475.6H51zM53.8 479.3L55.9 475.6H51.7zM54.5 479.3L56.6 475.6H52.4zM55.2 479.3L57.3 475.6H53.1zM55.9 479.3L58 475.6H53.8zM56.6 479.3L58.7 475.6H54.5zM57.3 479.3L59.4 475.6H55.2zM58 479.3L60.1 475.5H55.9zM58.7 479.2L60.8 475.5H56.6zM59.4 479.2L61.5 475.5H57.3zM60.1 479.2L62.2 475.5H58zM60.8 479.2L62.9 475.5H58.7zM61.5 479.2L63.6 475.5H59.4zM62.2 479.2L64.3 475.5H60.1zM62.9 479.2L65 475.5H60.8zM63.6 479.2L65.7 475.5H61.5zM64.3 479.2L66.4 475.5H62.2zM65 479.2L67.1 475.5H62.9zM65.7 479.2L67.8 475.5H63.6zM66.4 479.2L68.5 475.5H64.3zM67.1 479.2L69.2 475.5H65zM67.8 479.2L69.9 475.5H65.7zM68.5 479.2L70.6 475.5H66.4zM69.2 479.2L71.3 475.5H67.1zM69.9 479.2L72 475.5H67.8zM70.6 479.2L72.7 475.5H68.5zM71.3 479.2L73.4 475.5H69.2zM72 479.2L74.1 475.4H69.9zM72.7 479.1L74.8 475.4H70.6zM73.4 479.1L75.5 475.4H71.3zM74.1 479.1L76.2 475.4H72zM74.8 479.1L76.9 475.4H72.7zM75.5 479.1L77.6 475.4H73.4zM76.2 479.1L78.3 475.4H74.1zM76.9 479.1L79 475.4H74.8zM77.6 479.1L79.7 475.4H75.5zM78.3 479.1L80.4 475.4H76.2zM79 479.1L81.1 475.4H76.9zM79.7 479.1L81.8 475.3H77.6zM80.4 479L82.5 475.3H78.3zM81.1 479L83.2 475.3H79zM81.8 479L83.9 475.3H79.7zM82.5 479L84.6 475.3H80.4zM83.2 479L85.3 475.3H81.1zM83.9 479L86 475.3H81.8zM84.6 479L86.7 475.3H82.5zM85.3 479L87.4 475.3H83.2zM86 478.9L88.1 475.2H83.9zM86.7 478.9L88.8 475.2H84.6zM87.4 478.9L89.5 475.2H85.3zM88.1 478.9L90.2 475.2H86zM88.8 478.9L90.9 475.2H86.7zM89.5 478.9L91.6 475.2H87.4zM90.2 478.9L92.3 475.2H88.1zM90.9 478.8L93 475.1H88.8zM91.6 478.8L93.7 475.1H89.5zM92.3 478.8L94.4 475.1H90.2zM93 478.8L95.1 475.1H90.9zM93.7 478.8L95.8 475.1H91.6zM94.4 478.8L96.5 475.1H92.3zM95.1 478.7L97.2 475H93zM95.8 478.7L97.9 475H93.7zM96.5 478.7L98.6 475H94.4zM97.2 478.7L99.3 475H95.1zM97.9 478.7L100 475H95.8zM98.6 478.7L100.7 474.9H96.5zM99.3 478.6L101.4 474.9H97.2zM100 478.6L102.1 474.9H97.9zM100.7 478.6L102.8 474.9H98.6zM101.4 478.6L103.5 474.9H99.3zM102.1 478.5L104.2 474.8H100zM102.8 478.5L104.9 474.8H100.7zM103.5 478.5L105.6 474.8H101.4zM104.2 478.5L106.3 474.8H102.1zM104.9 478.5L107 474.7H102.8zM105.6 478.4L107.7 474.7H103.5zM106.3 478.4L108.4 474.7H104.2zM107 478.4L109.1 474.7H104.9zM107.7 478.4L109.8 474.6H105.6zM108.4 478.3L110.5 474.6H106.3zM109.1 478.3L111.2 474.6H107zM109.8 478.3L111.9 474.6H107.7zM110.5 478.2L112.6 474.5H108.4zM111.2 478.2L113.3 474.5H109.1zM111.9 478.2L114 474.5H109.8zM112.6 478.2L114.7 474.5H110.5zM113.3 478.1L115.4 474.4H111.2zM114 478.1L116.1 474.4H111.9zM114.7 478.1L116.8 474.4H112.6zM115.4 478L117.5 474.3H113.3zM116.1 478L118.2 474.3H114zM116.8 478L118.9 474.3H114.7zM117.5 477.9L119.6 474.2H115.4zM118.2 477.9L120.3 474.2H116.1zM118.9 477.9L121 474.2H116.8zM119.6 477.8L121.7 474.1H117.5zM120.3 477.8L122.4 474.1H118.2zM121 477.8L123.1 474.1H118.9zM121.7 477.7L123.8 474H119.6zM122.4 477.7L124.5 474H120.3zM123.1 477.7L125.2 474H121zM123.8 477.6L125.9 473.9H121.7zM124.5 477.6L126.6 473.9H122.4zM125.2 477.6L127.3 473.9H123.1zM125.9 477.5L128 473.8H123.8zM126.6 477.5L128.7 473.8H124.5zM127.3 477.4L129.4 473.7H125.2zM128 477.4L130.1 473.7H125.9zM128.7 477.4L130.8 473.7H126.6zM129.4 477.3L131.5 473.6H127.3zM130.1 477.3L132.2 473.6H128zM130.8 477.2L132.9 473.5H128.7zM131.5 477.2L133.6 473.5H129.4zM132.2 477.1L134.3 473.4H130.1zM132.9 477.1L135 473.4H130.8zM133.6 477.1L135.7 473.4H131.5zM134.3 477L136.4 473.3H132.2zM135 477L137.1 473.3H132.9zM135.7 476.9L137.8 473.2H133.6zM136.4 476.9L138.5 473.2H134.3zM137.1 476.8L139.2 473.1H135zM137.8 476.8L139.9 473.1H135.7zM138.5 476.7L140.6 473H136.4zM139.2 476.7L141.3 473H137.1zM139.9 476.6L142 472.9H137.8zM140.6 476.6L142.7 472.9H138.5zM141.3 476.5L143.4 472.8H139.2zM142 476.5L144.1 472.8H139.9zM142.7 476.4L144.8 472.7H140.6zM143.4 476.4L145.5 472.7H141.3zM144.1 476.3L146.2 472.6H142zM144.8 476.2L146.9 472.5H142.7zM145.5 476.2L147.6 472.5H143.4zM146.2 476.1L148.3 472.4H144.1zM146.9 476.1L149 472.4H144.8zM147.6 476L149.7 472.3H145.5zM148.3 476L150.4 472.3H146.2zM149 475.9L151.1 472.2H146.9zM149.7 475.8L151.8 472.1H147.6zM150.4 475.8L152.5 472.1H148.3zM151.1 475.7L153.2 472H149zM151.8 475.7L153.9 471.9H149.7zM152.5 475.6L154.6 471.9H150.4zM153.2 475.5L155.3 471.8H151.1zM153.9 475.5L156 471.8H151.8zM154.6 475.4L156.7 471.7H152.5zM155.3 475.3L157.4 471.6H153.2zM156 475.3L158.1 471.6H153.9zM156.7 475.2L158.8 471.5H154.6zM157.4 475.1L159.5 471.4H155.3zM158.1 475.1L160.2 471.4H156zM158.8 475L160.9 471.3H156.7zM159.5 474.9L161.6 471.2H157.4zM160.2 474.8L162.3 471.1H158.1zM160.9 474.8L163 471.1H158.8zM161.6 474.7L163.7 471H159.5zM162.3 474.6L164.4 470.9H160.2zM163 474.6L165.1 470.8H160.9zM163.7 474.5L165.8 470.8H161.6zM164.4 474.4L166.5 470.7H162.3zM165.1 474.3L167.2 470.6H163zM165.8 474.2L167.9 470.5H163.7zM166.5 474.2L168.6 470.5H164.4zM167.2 474.1L169.3 470.4H165.1zM167.9 474L170 470.3H165.8zM168.6 473.9L170.7 470.2H166.5zM169.3 473.8L171.4 470.1H167.2zM170 473.8L172.1 470.1H167.9zM170.7 473.7L172.8 470H168.6zM171.4 473.6L173.5 469.9H169.3zM172.1 473.5L174.2 469.8H170zM172.8 473.4L174.9 469.7H170.7zM173.5 473.3L175.6 469.6H171.4zM174.2 473.3L176.3 469.5H172.1zM174.9 473.2L177 469.5H172.8zM175.6 473.1L177.7 469.4H173.5zM176.3 473L178.4 469.3H174.2zM177 472.9L179.1 469.2H174.9zM177.7 472.8L179.8 469.1H175.6zM178.4 472.7L180.5 469H176.3zM179.1 472.6L181.2 468.9H177zM179.8 472.5L181.9 468.8H177.7zM180.5 472.4L182.6 468.7H178.4zM181.2 472.3L183.3 468.6H179.1zM181.9 472.2L184 468.5H179.8zM182.6 472.1L184.7 468.4H180.5zM183.3 472L185.4 468.3H181.2zM184 471.9L186.1 468.2H181.9zM184.7 471.8L186.8 468.1H182.6zM185.4 471.7L187.5 468H183.3zM186.1 471.6L188.2 467.9H184zM186.8 471.5L188.9 467.8H184.7zM187.5 471.4L189.6 467.7H185.4zM188.2 471.3L190.3 467.6H186.1zM188.9 471.2L191 467.5H186.8zM189.6 471.1L191.7 467.4H187.5zM190.3 471L192.4 467.3H188.2zM191 470.9L193.1 467.2H188.9zM191.7 470.8L193.8 467.1H189.6zM192.4 470.7L194.5 467H190.3zM193.1 470.6L195.2 466.8H191zM193.8 470.4L195.9 466.7H191.7zM194.5 470.3L196.6 466.6H192.4zM195.2 470.2L197.3 466.5H193.1zM195.9 470.1L198 466.4H193.8zM196.6 470L198.7 466.3H194.5zM197.3 469.9L199.4 466.2H195.2zM198 469.7L200.1 466H195.9zM198.7 469.6L200.8 465.9H196.6zM199.4 469.5L201.5 465.8H197.3zM200.1 469.4L202.2 465.7H198zM200.8 469.3L202.9 465.6H198.7zM201.5 469.1L203.6 465.4H199.4zM202.2 469L204.3 465.3H200.1zM202.9 468.9L205 465.2H200.8zM203.6 468.8L205.7 465H201.5zM204.3 468.6L206.4 464.9H202.2zM205 468.5L207.1 464.8H202.9zM205.7 468.4L207.8 464.7H203.6zM206.4 468.2L208.5 464.5H204.3zM207.1 468.1L209.2 464.4H205zM207.8 468L209.9 464.3H205.7zM208.5 467.8L210.6 464.1H206.4zM209.2 467.7L211.3 464H207.1zM209.9 467.6L212 463.9H207.8zM210.6 467.4L212.7 463.7H208.5zM211.3 467.3L213.4 463.6H209.2zM212 467.2L214.1 463.4H209.9zM212.7 467L214.8 463.3H210.6zM213.4 466.9L215.5 463.2H211.3zM214.1 466.7L216.2 463H212zM214.8 466.6L216.9 462.9H212.7zM215.5 466.4L217.6 462.7H213.4zM216.2 466.3L218.3 462.6H214.1zM216.9 466.1L219 462.4H214.8zM217.6 466L219.7 462.3H215.5zM218.3 465.8L220.4 462.1H216.2zM219 465.7L221.1 462H216.9zM219.7 465.5L221.8 461.8H217.6zM220.4 465.4L222.5 461.7H218.3zM221.1 465.2L223.2 461.5H219zM221.8 465.1L223.9 461.4H219.7zM222.5 464.9L224.6 461.2H220.4zM223.2 464.8L225.3 461.1H221.1zM223.9 464.6L226 460.9H221.8zM224.6 464.5L226.7 460.8H222.5zM225.3 464.3L227.4 460.6H223.2zM226 464.1L228.1 460.4H223.9zM226.7 464L228.8 460.3H224.6zM227.4 463.8L229.5 460.1H225.3zM228.1 463.6L230.2 459.9H226zM228.8 463.5L230.9 459.8H226.7zM229.5 463.3L231.6 459.6H227.4zM230.2 463.1L232.3 459.4H228.1zM230.9 463L233.1 459.3H228.8zM231.6 462.8L233.8 459.1H229.5zM232.3 462.6L234.5 458.9H230.2zM233 462.4L235.2 458.7H230.9zM233.8 462.3L235.9 458.6H231.6zM234.5 462.1L236.6 458.4H232.3zM235.2 461.9L237.3 458.2H233.1zM235.9 461.7L238.1 458H233.8zM236.7 461.5L238.8 457.8H234.5zM237.4 461.3L239.5 457.6H235.2zM238.1 461.2L240.3 457.4H236zM238.9 461L241 457.3H236.7zM239.6 460.8L241.8 457.1H237.5zM240.4 460.6L242.5 456.9H238.2zM241.1 460.4L243.3 456.7H239zM241.9 460.2L244 456.5H239.7zM242.6 460L244.8 456.2H240.5zM243.4 459.7L245.5 456H241.2zM244.1 459.5L246.3 455.8H242zM244.9 459.3L247.1 455.6H242.8zM245.7 459.1L247.8 455.4H243.5zM246.5 458.9L248.6 455.2H244.3zM247.2 458.7L249.4 455H245.1zM248 458.4L250.2 454.7H245.9zM248.8 458.2L251 454.5H246.7zM249.6 458L251.7 454.3H247.5zM250.4 457.8L252.5 454.1H248.2zM251.2 457.5L253.3 453.8H249zM252 457.3L254.1 453.6H249.8zM252.8 457L254.9 453.3H250.6zM253.6 456.8L255.7 453.1H251.5zM254.4 456.6L256.6 452.9H252.3zM255.2 456.3L257.4 452.6H253.1zM256.1 456.1L258.2 452.4H253.9zM256.9 455.8L259 452.1H254.7zM257.7 455.5L259.9 451.8H255.6zM258.5 455.3L260.7 451.6H256.4zM259.4 455L261.5 451.3H257.2zM260.2 454.7L262.4 451H258.1zM261.1 454.5L263.2 450.8H258.9zM261.9 454.2L264.1 450.5H259.8zM262.8 453.9L264.9 450.2H260.6zM263.6 453.6L265.8 449.9H261.5zM264.5 453.3L266.6 449.6H262.3zM265.4 453L267.5 449.3H263.2zM266.2 452.7L268.4 449H264.1zM267.1 452.4L269.2 448.7H265zM268 452L270.1 448.3H265.8zM268.9 451.7L271 448H266.7zM269.8 451.3L271.9 447.6H267.6zM270.6 451L272.8 447.3H268.5zM271.5 450.6L273.7 446.9H269.4zM272.4 450.2L274.6 446.5H270.3zM273.4 449.8L275.5 446.1H271.2zM274.3 449.4L276.4 445.7H272.1zM275.2 448.9L277.3 445.2H273zM276.1 448.5L278.2 444.8H274zM277 448L279.2 444.3H274.9zM278 447.5L280.1 443.8H275.8zM278.9 447L281 443.3H276.7zM279.8 446.5L282 442.8H277.7zM280.8 445.9L282.9 442.2H278.6zM281.7 445.4L283.9 441.7H279.6zM282.7 444.8L284.8 441.1H280.5zM283.6 444.2L285.8 440.4H281.5zM284.6 443.5L286.7 439.8H282.5zM285.6 442.9L287.7 439.1H283.4zM286.5 442.2L288.7 438.5H284.4zM287.5 441.4L289.7 437.7H285.4zM288.5 440.7L290.7 437H286.4zM289.5 439.9L291.6 436.2H287.4zM290.5 439.1L292.6 435.4H288.3zM291.5 438.3L293.6 434.6H289.3zM292.5 437.4L294.6 433.7H290.4zM293.5 436.5L295.7 432.8H291.4zM294.5 435.5L296.7 431.8H292.4zM295.5 434.6L297.7 430.9H293.4zM296.6 433.5L298.7 429.8H294.4zM297.6 432.5L299.8 428.8H295.5zM298.6 431.4L300.8 427.7H296.5zM299.7 430.2L301.8 426.5H297.5zM300.7 429L302.9 425.3H298.6zM301.8 427.7L303.9 424H299.7zM302.9 426.3L305 422.6H300.7zM303.9 424.8L306.1 421.1H301.8zM305 423.2L307.1 419.5H302.9zM306.1 421.5L308.2 417.8H303.9zM307.2 419.5L309.3 415.8H305zM308.3 417.4L310.4 413.7H306.1zM309.4 415.1L311.5 411.4H307.2zM310.5 412.6L312.6 408.9H308.3zM311.6 409.8L313.7 406.1H309.4zM312.7 406.8L314.8 403.1H310.5zM313.8 403.4L316 399.7H311.7zM314.9 399.8L317.1 396.1H312.8zM316.1 396L318.2 392.2H313.9zM317.2 391.9L319.4 388.2H315.1zM318.4 387.6L320.5 383.9H316.2zM319.5 383.2L321.7 379.5H317.4zM320.7 378.7L322.8 375H318.5zM321.9 374.3L324 370.6H319.7zM323 369.8L325.2 366.1H320.9zM324.2 365.5L326.4 361.8H322.1zM325.4 361.1L327.5 357.4H323.3zM326.6 356.6L328.7 352.9H324.5zM327.8 351.7L329.9 348H325.7zM329 346.3L331.2 342.6H326.9zM330.2 340.1L332.4 336.4H328.1zM331.4 332.9L333.6 329.2H329.3zM332.7 324.6L334.8 320.9H330.5zM333.9 314.8L336.1 311.1H331.8zM335.2 303.1L337.3 299.4H333zM336.4 289L338.6 285.3H334.3zM337.7 271.9L339.8 268.2H335.5z" fill="#ff00ff"/>
<path d="M51 476.7 51.7 476.7 52.4 476.6 53.2 476.5 53.9 476.5 54.6 476.4 55.3 476.4 56 476.3 56.7 476.2 57.5 476.2 58.2 476.1 58.9 476.1 59.6 476 60.3 475.9 61.1 475.9 61.8 475.8 62.5 475.8 63.2 475.7 63.9 475.7 64.6 475.6 65.4 475.6 66.1 475.5 66.8 475.5 67.5 475.4 68.2 475.4 69 475.3 69.7 475.3 70.4 475.2 71.1 475.2 71.8 475.1 72.5 475.1 73.3 475 74 475 74.7 475 75.4 474.9 76.1 474.9 76.8 474.8 77.6 474.8 78.3 474.7 79 474.7 79.7 474.7 80.4 474.6 81.2 474.6 81.9 474.5 82.6 474.5 83.3 474.5 84 474.4 84.7 474.4 85.5 474.4 86.2 474.3 86.9 474.3 87.6 474.2 88.3 474.2 89.1 474.2 89.8 474.1 90.5 474.1 91.2 474.1 91.9 474 92.6 474 93.4 474 94.1 473.9 94.8 473.9 95.5 473.9 96.2 473.8 97 473.8 97.7 473.8 98.4 473.7 99.1 473.7 99.8 473.7 100.5 473.6 101.3 473.6 102 473.6 102.7 473.5 103.4 473.5 104.1 473.5 104.9 473.4 105.6 473.4 106.3 473.4 107 473.3 107.7 473.3 108.4 473.3 109.2 473.2 109.9 473.2 110.6 473.2 111.3 473.1 112 473.1 112.8 473.1 113.5 473 114.2 473 114.9 473 115.6 472.9 116.3 472.9 117.1 472.9 117.8 472.8 118.5 472.8 119.2 472.8 119.9 472.7 120.7 472.7 121.4 472.6 122.1 472.6 122.8 472.6 123.5 472.5 124.2 472.5 125 472.5 125.7 472.4 126.4 472.4 127.1 472.4 127.8 472.3 128.5 472.3 129.3 472.2 130 472.2 130.7 472.2 131.4 472.1 132.1 472.1 132.9 472 133.6 472 134.3 471.9 135 471.9 135.7 471.9 136.4 471.8 137.2 471.8 137.9 471.7 138.6 471.7 139.3 471.6 140 471.6 140.8 471.5 141.5 471.5 142.2 471.5 142.9 471.4 143.6 471.4 144.3 471.3 145.1 471.3 145.8 471.2 146.5 471.2 147.2 471.1 147.9 471 148.7 471 149.4 470.9 150.1 470.9 150.8 470.8 151.5 470.8 152.2 470.7 153 470.7 153.7 470.6 154.4 470.5 155.1 470.5 155.8 470.4 156.6 470.4 157.3 470.3 158 470.2 158.7 470.2 159.4 470.1 160.1 470 160.9 470 161.6 469.9 162.3 469.8 163 469.8 163.7 469.7 164.5 469.6 165.2 469.5 165.9 469.5 166.6 469.4 167.3 469.3 168 469.2 168.8 469.2 169.5 469.1 170.2 469 170.9 468.9 171.6 468.8 172.3 468.8 173.1 468.7 173.8 468.6 174.5 468.5 175.2 468.4 175.9 468.3 176.7 468.2 177.4 468.2 178.1 468.1 178.8 468 179.5 467.9 180.2 467.8 181 467.7 181.7 467.6 182.4 467.5 183.1 467.4 183.8 467.3 184.6 467.2 185.3 467.1 186 467 186.7 466.9 187.4 466.8 188.1 466.7 188.9 466.5 189.6 466.4 190.3 466.3 191 466.2 191.7 466.1 192.5 466 193.2 465.8 193.9 465.7 194.6 465.6 195.3 465.5 196 465.4 196.8 465.2 197.5 465.1 198.2 465 198.9 464.8 199.6 464.7 200.4 464.6 201.1 464.4 201.8 464.3 202.5 464.2 203.2 464 203.9 463.9 204.7 463.7 205.4 463.6 206.1 463.5 206.8 463.3 207.5 463.2 208.3 463 209 462.9 209.7 462.7 210.4 462.5 211.1 462.4 211.8 462.2 212.6 462.1 213.3 461.9 214 461.7 214.7 461.6 215.4 461.4 216.2 461.2 216.9 461.1 217.6 460.9 218.3 460.7 219 460.5 219.7 460.4 220.5 460.2 221.2 460 221.9 459.8 222.6 459.6 223.3 459.4 224 459.2 224.8 459.1 225.5 458.9 226.2 458.7 226.9 458.5 227.6 458.3 228.4 458.1 229.1 457.9 229.8 457.7 230.5 457.4 231.2 457.2 231.9 457 232.7 456.8 233.4 456.6 234.1 456.4 234.8 456.2 235.5 455.9 236.3 455.7 237 455.5 237.7 455.3 238.4 455 239.1 454.8 239.8 454.6 240.6 454.3 241.3 454.1 242 453.8 242.7 453.6 243.4 453.3 244.2 453.1 244.9 452.8 245.6 452.6 246.3 452.3 247 452.1 247.7 451.8 248.5 451.6 249.2 451.3 249.9 451 250.6 450.8 251.3 450.5 252.1 450.2 252.8 449.9 253.5 449.7 254.2 449.4 254.9 449.1 255.6 448.8 256.4 448.5 257.1 448.2 257.8 447.9 258.5 447.6 259.2 447.3 260 447 260.7 446.7 261.4 446.4 262.1 446.1 262.8 445.8 263.5 445.5 264.3 445.1 265 444.8 265.7 444.4 266.4 444.1 267.1 443.7 267.8 443.4 268.6 443 269.3 442.6 270 442.2 270.7 441.8 271.4 441.4 272.2 441 272.9 440.5 273.6 440.1 274.3 439.6 275 439.1 275.7 438.7 276.5 438.2 277.2 437.7 277.9 437.1 278.6 436.6 279.3 436 280.1 435.5 280.8 434.9 281.5 434.3 282.2 433.7 282.9 433.1 283.6 432.4 284.4 431.8 285.1 431.1 285.8 430.4 286.5 429.7 287.2 429 288 428.2 288.7 427.4 289.4 426.7 290.1 425.8 290.8 425 291.5 424.2 292.3 423.3 293 422.4 293.7 421.5 294.4 420.5 295.1 419.6 295.9 418.6 296.6 417.6 297.3 416.6 298 415.5 298.7 414.4 299.4 413.3 300.2 412.2 300.9 411 301.6 409.9 302.3 408.7 303 407.5 303.8 406.2 304.5 405 305.2 403.7 305.9 402.4 306.6 401.1 307.3 399.8 308.1 398.5 308.8 397.2 309.5 395.8 310.2 394.5 310.9 393.1 311.7 391.8 312.4 390.3 313.1 388.8 313.8 387.1 314.5 385.3 315.2 383.3 316 381.2 316.7 378.8 317.4 376.3 318.1 373.7 318.8 371 319.5 368.2 320.3 365.3 321 362.5 321.7 359.6 322.4 356.7 323.1 353.8 323.9 351 324.6 348.2 325.3 345.6 326 343.1 326.7 340.7 327.4 338.5 328.2 336.3 328.9 334 329.6 331.6 330.3 328.9 331 325.8 331.8 322.3 332.5 318.2 333.2 313.5 333.9 308.2 334.6 302.4 335.3 296.3 336.1 289.1 336.8 279.7 337.5 267.3" fill="none" stroke="#008000" stroke-width="0.7"/>
<path d="M51 474.5L53.2 476.7L51 479L48.8 476.7zM51.7 474.4L53.9 476.7L51.7 478.9L49.5 476.7zM52.4 474.4L54.6 476.6L52.4 478.9L50.2 476.6zM53.1 474.3L55.3 476.6L53.1 478.8L50.9 476.6zM53.8 474.2L56 476.5L53.8 478.7L51.6 476.5zM54.5 474.2L56.7 476.4L54.5 478.7L52.3 476.4zM55.2 474.1L57.4 476.4L55.2 478.6L53 476.4zM55.9 474.1L58.1 476.3L55.9 478.6L53.7 476.3zM56.6 474L58.8 476.2L56.6 478.5L54.4 476.2zM57.3 473.9L59.5 476.2L57.3 478.4L55.1 476.2zM58 473.9L60.2 476.1L58 478.4L55.8 476.1zM58.7 473.8L60.9 476.1L58.7 478.3L56.5 476.1zM59.4 473.8L61.6 476L59.4 478.3L57.2 476zM60.1 473.7L62.3 476L60.1 478.2L57.9 476zM60.8 473.7L63 475.9L60.8 478.2L58.6 475.9zM61.5 473.6L63.7 475.9L61.5 478.1L59.3 475.9zM62.2 473.6L64.4 475.8L62.2 478L60 475.8zM62.9 473.5L65.1 475.8L62.9 478L60.7 475.8zM63.6 473.5L65.8 475.7L63.6 477.9L61.4 475.7zM64.3 473.4L66.5 475.7L64.3 477.9L62.1 475.7zM65 473.4L67.2 475.6L65 477.8L62.8 475.6zM65.7 473.3L67.9 475.6L65.7 477.8L63.5 475.6zM66.4 473.3L68.6 475.5L66.4 477.7L64.2 475.5zM67.1 473.2L69.3 475.5L67.1 477.7L64.9 475.5zM67.8 473.2L70 475.4L67.8 477.6L65.6 475.4zM68.5 473.1L70.7 475.4L68.5 477.6L66.3 475.4zM69.2 473.1L71.4 475.3L69.2 477.6L67 475.3zM69.9 473L72.1 475.3L69.9 477.5L67.7 475.3zM70.6 473L72.8 475.2L70.6 477.5L68.4 475.2zM71.3 472.9L73.5 475.2L71.3 477.4L69.1 475.2zM72 472.9L74.2 475.1L72 477.4L69.8 475.1zM72.7 472.8L74.9 475.1L72.7 477.3L70.5 475.1zM73.4 472.8L75.6 475L73.4 477.3L71.2 475zM74.1 472.8L76.3 475L74.1 477.2L71.9 475zM74.8 472.7L77 475L74.8 477.2L72.6 475zM75.5 472.7L77.7 474.9L75.5 477.2L73.3 474.9zM76.2 472.6L78.4 474.9L76.2 477.1L74 474.9zM76.9 472.6L79.1 474.8L76.9 477.1L74.7 474.8zM77.6 472.5L79.8 474.8L77.6 477L75.4 474.8zM78.3 472.5L80.5 474.7L78.3 477L76.1 474.7zM79 472.5L81.2 474.7L79 477L76.8 474.7zM79.7 472.4L81.9 474.7L79.7 476.9L77.5 474.7zM80.4 472.4L82.6 474.6L80.4 476.9L78.2 474.6zM81.1 472.3L83.3 474.6L81.1 476.8L78.9 474.6zM81.8 472.3L84 474.6L81.8 476.8L79.6 474.6zM82.5 472.3L84.7 474.5L82.5 476.8L80.3 474.5zM83.2 472.2L85.4 474.5L83.2 476.7L81 474.5zM83.9 472.2L86.1 474.4L83.9 476.7L81.7 474.4zM84.6 472.2L86.8 474.4L84.6 476.6L82.4 474.4zM85.3 472.1L87.5 474.4L85.3 476.6L83.1 474.4zM86 472.1L88.2 474.3L86 476.6L83.8 474.3zM86.7 472L88.9 474.3L86.7 476.5L84.5 474.3zM87.4 472L89.6 474.3L87.4 476.5L85.2 474.3zM88.1 472L90.3 474.2L88.1 476.5L85.9 474.2zM88.8 471.9L91 474.2L88.8 476.4L86.6 474.2zM89.5 471.9L91.7 474.2L89.5 476.4L87.3 474.2zM90.2 471.9L92.4 474.1L90.2 476.4L88 474.1zM90.9 471.8L93.1 474.1L90.9 476.3L88.7 474.1zM91.6 471.8L93.8 474L91.6 476.3L89.4 474zM92.3 471.8L94.5 474L92.3 476.3L90.1 474zM93 471.7L95.2 474L93 476.2L90.8 474zM93.7 471.7L95.9 473.9L93.7 476.2L91.5 473.9zM94.4 471.7L96.6 473.9L94.4 476.2L92.2 473.9zM95.1 471.6L97.3 473.9L95.1 476.1L92.9 473.9zM95.8 471.6L98 473.8L95.8 476.1L93.6 473.8zM96.5 471.6L98.7 473.8L96.5 476.1L94.3 473.8zM97.2 471.5L99.4 473.8L97.2 476L95 473.8zM97.9 471.5L100.1 473.7L97.9 476L95.7 473.7zM98.6 471.5L100.8 473.7L98.6 476L96.4 473.7zM99.3 471.4L101.5 473.7L99.3 475.9L97.1 473.7zM100 471.4L102.2 473.6L100 475.9L97.8 473.6zM100.7 471.4L102.9 473.6L100.7 475.9L98.5 473.6zM101.4 471.3L103.6 473.6L101.4 475.8L99.2 473.6zM102.1 471.3L104.3 473.6L102.1 475.8L99.9 473.6zM102.8 471.3L105 473.5L102.8 475.8L100.6 473.5zM103.5 471.2L105.7 473.5L103.5 475.7L101.3 473.5zM104.2 471.2L106.4 473.5L104.2 475.7L102 473.5zM104.9 471.2L107.1 473.4L104.9 475.7L102.7 473.4zM105.6 471.1L107.8 473.4L105.6 475.6L103.4 473.4zM106.3 471.1L108.5 473.4L106.3 475.6L104.1 473.4zM107 471.1L109.2 473.3L107 475.6L104.8 473.3zM107.7 471.1L109.9 473.3L107.7 475.5L105.5 473.3zM108.4 471L110.6 473.3L108.4 475.5L106.2 473.3zM109.1 471L111.3 473.2L109.1 475.5L106.9 473.2zM109.8 471L112 473.2L109.8 475.4L107.6 473.2zM110.5 470.9L112.7 473.2L110.5 475.4L108.3 473.2zM111.2 470.9L113.4 473.1L111.2 475.4L109 473.1zM111.9 470.9L114.1 473.1L111.9 475.3L109.7 473.1zM112.6 470.8L114.8 473.1L112.6 475.3L110.4 473.1zM113.3 470.8L115.5 473L113.3 475.3L111.1 473zM114 470.8L116.2 473L114 475.2L111.8 473zM114.7 470.7L116.9 473L114.7 475.2L112.5 473zM115.4 470.7L117.6 472.9L115.4 475.2L113.2 472.9zM116.1 470.7L118.3 472.9L116.1 475.1L113.9 472.9zM116.8 470.6L119 472.9L116.8 475.1L114.6 472.9zM117.5 470.6L119.7 472.8L117.5 475.1L115.3 472.8zM118.2 470.6L120.4 472.8L118.2 475L116 472.8zM118.9 470.5L121.1 472.8L118.9 475L116.7 472.8zM119.6 470.5L121.8 472.7L119.6 475L117.4 472.7zM120.3 470.5L122.5 472.7L120.3 474.9L118.1 472.7zM121 470.4L123.2 472.7L121 474.9L118.8 472.7zM121.7 470.4L123.9 472.6L121.7 474.9L119.5 472.6zM122.4 470.4L124.6 472.6L122.4 474.8L120.2 472.6zM123.1 470.3L125.3 472.6L123.1 474.8L120.9 472.6zM123.8 470.3L126 472.5L123.8 474.8L121.6 472.5zM124.5 470.2L126.7 472.5L124.5 474.7L122.3 472.5zM125.2 470.2L127.4 472.5L125.2 474.7L123 472.5zM125.9 470.2L128.1 472.4L125.9 474.7L123.7 472.4zM126.6 470.1L128.8 472.4L126.6 474.6L124.4 472.4zM127.3 470.1L129.5 472.3L127.3 474.6L125.1 472.3zM128 470.1L130.2 472.3L128 474.5L125.8 472.3zM128.7 470L130.9 472.3L128.7 474.5L126.5 472.3zM129.4 470L131.6 472.2L129.4 474.5L127.2 472.2zM130.1 469.9L132.3 472.2L130.1 474.4L127.9 472.2zM130.8 469.9L133 472.2L130.8 474.4L128.6 472.2zM131.5 469.9L133.7 472.1L131.5 474.4L129.3 472.1zM132.2 469.8L134.4 472.1L132.2 474.3L130 472.1zM132.9 469.8L135.1 472L132.9 474.3L130.7 472zM133.6 469.7L135.8 472L133.6 474.2L131.4 472zM134.3 469.7L136.5 471.9L134.3 474.2L132.1 471.9zM135 469.7L137.2 471.9L135 474.2L132.8 471.9zM135.7 469.6L137.9 471.9L135.7 474.1L133.5 471.9zM136.4 469.6L138.6 471.8L136.4 474.1L134.2 471.8zM137.1 469.5L139.3 471.8L137.1 474L134.9 471.8zM137.8 469.5L140 471.7L137.8 474L135.6 471.7zM138.5 469.5L140.7 471.7L138.5 473.9L136.3 471.7zM139.2 469.4L141.4 471.6L139.2 473.9L137 471.6zM139.9 469.4L142.1 471.6L139.9 473.8L137.7 471.6zM140.6 469.3L142.8 471.6L140.6 473.8L138.4 471.6zM141.3 469.3L143.5 471.5L141.3 473.8L139.1 471.5zM142 469.2L144.2 471.5L142 473.7L139.8 471.5zM142.7 469.2L144.9 471.4L142.7 473.7L140.5 471.4zM143.4 469.1L145.6 471.4L143.4 473.6L141.2 471.4zM144.1 469.1L146.3 471.3L144.1 473.6L141.9 471.3zM144.8 469L147 471.3L144.8 473.5L142.6 471.3zM145.5 469L147.7 471.2L145.5 473.5L143.3 471.2zM146.2 468.9L148.4 471.2L146.2 473.4L144 471.2zM146.9 468.9L149.1 471.1L146.9 473.4L144.7 471.1zM147.6 468.8L149.8 471.1L147.6 473.3L145.4 471.1zM148.3 468.8L150.5 471L148.3 473.3L146.1 471zM149 468.7L151.2 471L149 473.2L146.8 471zM149.7 468.7L151.9 470.9L149.7 473.2L147.5 470.9zM150.4 468.6L152.6 470.9L150.4 473.1L148.2 470.9zM151.1 468.6L153.3 470.8L151.1 473.1L148.9 470.8zM151.8 468.5L154 470.8L151.8 473L149.6 470.8zM152.5 468.5L154.7 470.7L152.5 472.9L150.3 470.7zM153.2 468.4L155.4 470.6L153.2 472.9L151 470.6zM153.9 468.3L156.1 470.6L153.9 472.8L151.7 470.6zM154.6 468.3L156.8 470.5L154.6 472.8L152.4 470.5zM155.3 468.2L157.5 470.5L155.3 472.7L153.1 470.5zM156 468.2L158.2 470.4L156 472.6L153.8 470.4zM156.7 468.1L158.9 470.3L156.7 472.6L154.5 470.3zM157.4 468L159.6 470.3L157.4 472.5L155.2 470.3zM158.1 468L160.3 470.2L158.1 472.5L155.9 470.2zM158.8 467.9L161 470.2L158.8 472.4L156.6 470.2zM159.5 467.9L161.7 470.1L159.5 472.3L157.3 470.1zM160.2 467.8L162.4 470L160.2 472.3L158 470zM160.9 467.7L163.1 470L160.9 472.2L158.7 470zM161.6 467.7L163.8 469.9L161.6 472.1L159.4 469.9zM162.3 467.6L164.5 469.8L162.3 472.1L160.1 469.8zM163 467.5L165.2 469.8L163 472L160.8 469.8zM163.7 467.5L165.9 469.7L163.7 471.9L161.5 469.7zM164.4 467.4L166.6 469.6L164.4 471.9L162.2 469.6zM165.1 467.3L167.3 469.6L165.1 471.8L162.9 469.6zM165.8 467.2L168 469.5L165.8 471.7L163.6 469.5zM166.5 467.2L168.7 469.4L166.5 471.7L164.3 469.4zM167.2 467.1L169.4 469.3L167.2 471.6L165 469.3zM167.9 467L170.1 469.3L167.9 471.5L165.7 469.3zM168.6 466.9L170.8 469.2L168.6 471.4L166.4 469.2zM169.3 466.9L171.5 469.1L169.3 471.4L167.1 469.1zM170 466.8L172.2 469L170 471.3L167.8 469zM170.7 466.7L172.9 469L170.7 471.2L168.5 469zM171.4 466.6L173.6 468.9L171.4 471.1L169.2 468.9zM172.1 466.6L174.3 468.8L172.1 471L169.9 468.8zM172.8 466.5L175 468.7L172.8 471L170.6 468.7zM173.5 466.4L175.7 468.6L173.5 470.9L171.3 468.6zM174.2 466.3L176.4 468.5L174.2 470.8L172 468.5zM174.9 466.2L177.1 468.5L174.9 470.7L172.7 468.5zM175.6 466.1L177.8 468.4L175.6 470.6L173.4 468.4zM176.3 466L178.5 468.3L176.3 470.5L174.1 468.3zM177 466L179.2 468.2L177 470.4L174.8 468.2zM177.7 465.9L179.9 468.1L177.7 470.4L175.5 468.1zM178.4 465.8L180.6 468L178.4 470.3L176.2 468zM179.1 465.7L181.3 467.9L179.1 470.2L176.9 467.9zM179.8 465.6L182 467.8L179.8 470.1L177.6 467.8zM180.5 465.5L182.7 467.7L180.5 470L178.3 467.7zM181.2 465.4L183.4 467.7L181.2 469.9L179 467.7zM181.9 465.3L184.1 467.6L181.9 469.8L179.7 467.6zM182.6 465.2L184.8 467.5L182.6 469.7L180.4 467.5zM183.3 465.1L185.5 467.4L183.3 469.6L181.1 467.4zM184 465L186.2 467.3L184 469.5L181.8 467.3zM184.7 464.9L186.9 467.2L184.7 469.4L182.5 467.2zM185.4 464.8L187.6 467.1L185.4 469.3L183.2 467.1zM186.1 464.7L188.3 467L186.1 469.2L183.9 467zM186.8 464.6L189 466.9L186.8 469.1L184.6 466.9zM187.5 464.5L189.7 466.8L187.5 469L185.3 466.8zM188.2 464.4L190.4 466.6L188.2 468.9L186 466.6zM188.9 464.3L191.1 466.5L188.9 468.8L186.7 466.5zM189.6 464.2L191.8 466.4L189.6 468.7L187.4 466.4zM190.3 464.1L192.5 466.3L190.3 468.6L188.1 466.3zM191 464L193.2 466.2L191 468.4L188.8 466.2zM191.7 463.8L193.9 466.1L191.7 468.3L189.5 466.1zM192.4 463.7L194.6 466L192.4 468.2L190.2 466zM193.1 463.6L195.3 465.9L193.1 468.1L190.9 465.9zM193.8 463.5L196 465.7L193.8 468L191.6 465.7zM194.5 463.4L196.7 465.6L194.5 467.9L192.3 465.6zM195.2 463.3L197.4 465.5L195.2 467.7L193 465.5zM195.9 463.1L198.1 465.4L195.9 467.6L193.7 465.4zM196.6 463L198.8 465.3L196.6 467.5L194.4 465.3zM197.3 462.9L199.5 465.1L197.3 467.4L195.1 465.1zM198 462.8L200.2 465L198 467.3L195.8 465zM198.7 462.6L200.9 464.9L198.7 467.1L196.5 464.9zM199.4 462.5L201.6 464.8L199.4 467L197.2 464.8zM200.1 462.4L202.3 464.6L200.1 466.9L197.9 464.6zM200.8 462.3L203 464.5L200.8 466.7L198.6 464.5zM201.5 462.1L203.7 464.4L201.5 466.6L199.3 464.4zM202.2 462L204.4 464.2L202.2 466.5L200 464.2zM202.9 461.9L205.1 464.1L202.9 466.3L200.7 464.1zM203.6 461.7L205.8 464L203.6 466.2L201.4 464zM204.3 461.6L206.5 463.8L204.3 466.1L202.1 463.8zM205 461.4L207.2 463.7L205 465.9L202.8 463.7zM205.7 461.3L207.9 463.5L205.7 465.8L203.5 463.5zM206.4 461.2L208.6 463.4L206.4 465.6L204.2 463.4zM207.1 461L209.3 463.2L207.1 465.5L204.9 463.2zM207.8 460.9L210 463.1L207.8 465.3L205.6 463.1zM208.5 460.7L210.7 463L208.5 465.2L206.3 463zM209.2 460.6L211.4 462.8L209.2 465L207 462.8zM209.9 460.4L212.1 462.7L209.9 464.9L207.7 462.7zM210.6 460.3L212.8 462.5L210.6 464.7L208.4 462.5zM211.3 460.1L213.5 462.3L211.3 464.6L209.1 462.3zM212 460L214.2 462.2L212 464.4L209.8 462.2zM212.7 459.8L214.9 462L212.7 464.3L210.5 462zM213.4 459.6L215.6 461.9L213.4 464.1L211.2 461.9zM214.1 459.5L216.3 461.7L214.1 464L211.9 461.7zM214.8 459.3L217 461.6L214.8 463.8L212.6 461.6zM215.5 459.1L217.7 461.4L215.5 463.6L213.3 461.4zM216.2 459L218.4 461.2L216.2 463.5L214 461.2zM216.9 458.8L219.1 461.1L216.9 463.3L214.7 461.1zM217.6 458.6L219.8 460.9L217.6 463.1L215.4 460.9zM218.3 458.5L220.5 460.7L218.3 463L216.1 460.7zM219 458.3L221.2 460.5L219 462.8L216.8 460.5zM219.7 458.1L221.9 460.4L219.7 462.6L217.5 460.4zM220.4 457.9L222.6 460.2L220.4 462.4L218.2 460.2zM221.1 457.8L223.3 460L221.1 462.3L218.9 460zM221.8 457.6L224 459.8L221.8 462.1L219.6 459.8zM222.5 457.4L224.7 459.7L222.5 461.9L220.3 459.7zM223.2 457.2L225.4 459.5L223.2 461.7L221 459.5zM223.9 457L226.1 459.3L223.9 461.5L221.7 459.3zM224.6 456.9L226.8 459.1L224.6 461.3L222.4 459.1zM225.3 456.7L227.5 458.9L225.3 461.2L223.1 458.9zM226 456.5L228.2 458.7L226 461L223.8 458.7zM226.7 456.3L228.9 458.5L226.7 460.8L224.5 458.5zM227.4 456.1L229.6 458.3L227.4 460.6L225.2 458.3zM228.1 455.9L230.3 458.1L228.1 460.4L225.9 458.1zM228.8 455.7L231 457.9L228.8 460.2L226.6 457.9zM229.5 455.5L231.7 457.7L229.5 460L227.3 457.7zM230.2 455.3L232.4 457.5L230.2 459.8L228 457.5zM230.9 455.1L233.1 457.3L230.9 459.6L228.7 457.3zM231.6 454.9L233.9 457.1L231.6 459.4L229.4 457.1zM232.3 454.7L234.6 456.9L232.3 459.2L230.1 456.9zM233 454.5L235.3 456.7L233 458.9L230.8 456.7zM233.8 454.2L236 456.5L233.8 458.7L231.5 456.5zM234.5 454L236.7 456.3L234.5 458.5L232.2 456.3zM235.2 453.8L237.4 456L235.2 458.3L233 456zM235.9 453.6L238.2 455.8L235.9 458.1L233.7 455.8zM236.7 453.3L238.9 455.6L236.7 457.8L234.4 455.6zM237.4 453.1L239.6 455.3L237.4 457.6L235.1 455.3zM238.1 452.9L240.4 455.1L238.1 457.4L235.9 455.1zM238.9 452.6L241.1 454.9L238.9 457.1L236.6 454.9zM239.6 452.4L241.9 454.6L239.6 456.9L237.4 454.6zM240.4 452.1L242.6 454.4L240.4 456.6L238.1 454.4zM241.1 451.9L243.3 454.1L241.1 456.4L238.9 454.1zM241.9 451.6L244.1 453.9L241.9 456.1L239.6 453.9zM242.6 451.4L244.9 453.6L242.6 455.9L240.4 453.6zM243.4 451.1L245.6 453.4L243.4 455.6L241.1 453.4zM244.1 450.9L246.4 453.1L244.1 455.3L241.9 453.1zM244.9 450.6L247.2 452.8L244.9 455.1L242.7 452.8zM245.7 450.3L247.9 452.6L245.7 454.8L243.4 452.6zM246.5 450L248.7 452.3L246.5 454.5L244.2 452.3zM247.2 449.8L249.5 452L247.2 454.2L245 452zM248 449.5L250.3 451.7L248 454L245.8 451.7zM248.8 449.2L251 451.4L248.8 453.7L246.6 451.4zM249.6 448.9L251.8 451.1L249.6 453.4L247.4 451.1zM250.4 448.6L252.6 450.8L250.4 453.1L248.1 450.8zM251.2 448.3L253.4 450.5L251.2 452.8L248.9 450.5zM252 448L254.2 450.2L252 452.5L249.7 450.2zM252.8 447.7L255 449.9L252.8 452.2L250.6 449.9zM253.6 447.4L255.8 449.6L253.6 451.9L251.4 449.6zM254.4 447.1L256.7 449.3L254.4 451.5L252.2 449.3zM255.2 446.7L257.5 449L255.2 451.2L253 449zM256.1 446.4L258.3 448.6L256.1 450.9L253.8 448.6zM256.9 446.1L259.1 448.3L256.9 450.6L254.6 448.3zM257.7 445.7L260 448L257.7 450.2L255.5 448zM258.5 445.4L260.8 447.6L258.5 449.9L256.3 447.6zM259.4 445L261.6 447.3L259.4 449.5L257.1 447.3zM260.2 444.7L262.5 446.9L260.2 449.2L258 446.9zM261.1 444.3L263.3 446.6L261.1 448.8L258.8 446.6zM261.9 443.9L264.2 446.2L261.9 448.4L259.7 446.2zM262.8 443.6L265 445.8L262.8 448L260.5 445.8zM263.6 443.2L265.9 445.4L263.6 447.7L261.4 445.4zM264.5 442.8L266.7 445L264.5 447.3L262.2 445zM265.4 442.4L267.6 444.6L265.4 446.8L263.1 444.6zM266.2 441.9L268.5 444.2L266.2 446.4L264 444.2zM267.1 441.5L269.3 443.7L267.1 446L264.9 443.7zM268 441L270.2 443.3L268 445.5L265.7 443.3zM268.9 440.6L271.1 442.8L268.9 445.1L266.6 442.8zM269.8 440.1L272 442.3L269.8 444.6L267.5 442.3zM270.6 439.6L272.9 441.8L270.6 444.1L268.4 441.8zM271.5 439.1L273.8 441.3L271.5 443.6L269.3 441.3zM272.4 438.5L274.7 440.8L272.4 443L270.2 440.8zM273.4 438L275.6 440.2L273.4 442.5L271.1 440.2zM274.3 437.4L276.5 439.6L274.3 441.9L272 439.6zM275.2 436.8L277.4 439L275.2 441.3L272.9 439zM276.1 436.2L278.3 438.4L276.1 440.7L273.9 438.4zM277 435.5L279.3 437.8L277 440L274.8 437.8zM278 434.9L280.2 437.1L278 439.3L275.7 437.1zM278.9 434.2L281.1 436.4L278.9 438.6L276.6 436.4zM279.8 433.4L282.1 435.7L279.8 437.9L277.6 435.7zM280.8 432.7L283 434.9L280.8 437.2L278.5 434.9zM281.7 431.9L284 434.1L281.7 436.4L279.5 434.1zM282.7 431.1L284.9 433.3L282.7 435.5L280.4 433.3zM283.6 430.2L285.9 432.4L283.6 434.7L281.4 432.4zM284.6 429.3L286.8 431.6L284.6 433.8L282.4 431.6zM285.6 428.4L287.8 430.6L285.6 432.9L283.3 430.6zM286.5 427.4L288.8 429.7L286.5 431.9L284.3 429.7zM287.5 426.4L289.8 428.7L287.5 430.9L285.3 428.7zM288.5 425.4L290.7 427.6L288.5 429.9L286.3 427.6zM289.5 424.3L291.7 426.5L289.5 428.8L287.3 426.5zM290.5 423.2L292.7 425.4L290.5 427.6L288.2 425.4zM291.5 422L293.7 424.2L291.5 426.5L289.2 424.2zM292.5 420.8L294.7 423L292.5 425.2L290.3 423zM293.5 419.5L295.8 421.7L293.5 424L291.3 421.7zM294.5 418.2L296.8 420.4L294.5 422.6L292.3 420.4zM295.5 416.8L297.8 419L295.5 421.3L293.3 419zM296.6 415.3L298.8 417.6L296.6 419.8L294.3 417.6zM297.6 413.9L299.9 416.1L297.6 418.3L295.4 416.1zM298.6 412.3L300.9 414.5L298.6 416.8L296.4 414.5zM299.7 410.7L301.9 412.9L299.7 415.2L297.5 412.9zM300.7 409L303 411.3L300.7 413.5L298.5 411.3zM301.8 407.3L304 409.5L301.8 411.8L299.6 409.5zM302.9 405.5L305.1 407.7L302.9 410L300.6 407.7zM303.9 403.7L306.2 405.9L303.9 408.2L301.7 405.9zM305 401.8L307.2 404L305 406.3L302.8 404zM306.1 399.9L308.3 402.1L306.1 404.3L303.8 402.1zM307.2 397.9L309.4 400.1L307.2 402.4L304.9 400.1zM308.3 395.9L310.5 398.1L308.3 400.4L306 398.1zM309.4 393.8L311.6 396.1L309.4 398.3L307.1 396.1zM310.5 391.8L312.7 394L310.5 396.3L308.2 394zM311.6 389.7L313.8 391.9L311.6 394.2L309.3 391.9zM312.7 387.4L314.9 389.7L312.7 391.9L310.4 389.7zM313.8 384.9L316.1 387.1L313.8 389.4L311.6 387.1zM314.9 382L317.2 384.2L314.9 386.4L312.7 384.2zM316.1 378.6L318.3 380.8L316.1 383L313.8 380.8zM317.2 374.7L319.5 377L317.2 379.2L315 377zM318.4 370.5L320.6 372.8L318.4 375L316.1 372.8zM319.5 366.1L321.8 368.3L319.5 370.5L317.3 368.3zM320.7 361.4L322.9 363.7L320.7 365.9L318.4 363.7zM321.9 356.7L324.1 358.9L321.9 361.2L319.6 358.9zM323 352L325.3 354.2L323 356.5L320.8 354.2zM324.2 347.4L326.5 349.6L324.2 351.9L322 349.6zM325.4 343L327.6 345.2L325.4 347.5L323.2 345.2zM326.6 338.9L328.8 341.2L326.6 343.4L324.4 341.2zM327.8 335.2L330 337.4L327.8 339.6L325.6 337.4zM329 331.4L331.3 333.6L329 335.8L326.8 333.6zM330.2 327L332.5 329.3L330.2 331.5L328 329.3zM331.4 321.6L333.7 323.9L331.4 326.1L329.2 323.9zM332.7 314.7L334.9 316.9L332.7 319.2L330.4 316.9zM333.9 305.8L336.2 308.1L333.9 310.3L331.7 308.1zM335.2 295.6L337.4 297.9L335.2 300.1L332.9 297.9zM336.4 282.5L338.7 284.8L336.4 287L334.2 284.8z" fill="#008000"/>
<path d="M51 476.2 51.7 476.2 52.4 476.1 53.1 476.1 53.8 476 54.5 476 55.2 475.9 55.9 475.9 56.6 475.9 57.3 475.8 58 475.8 58.7 475.7 59.4 475.7 60.1 475.6 60.8 475.6 61.5 475.5 62.2 475.5 62.9 475.4 63.6 475.4 64.3 475.4 65 475.3 65.7 475.3 66.4 475.2 67.1 475.2 67.8 475.1 68.5 475.1 69.2 475.1 69.9 475 70.6 475 71.3 474.9 72 474.9 72.7 474.8 73.4 474.8 74.1 474.8 74.8 474.7 75.5 474.7 76.2 474.6 76.9 474.6 77.6 474.6 78.3 474.5 79 474.5 79.7 474.4 80.4 474.4 81.1 474.4 81.8 474.3 82.5 474.3 83.2 474.2 83.9 474.2 84.6 474.1 85.3 474.1 86 474.1 86.7 474 87.4 474 88.1 473.9 88.8 473.9 89.5 473.9 90.2 473.8 90.9 473.8 91.6 473.7 92.3 473.7 93 473.6 93.7 473.6 94.4 473.6 95.1 473.5 95.8 473.5 96.5 473.4 97.2 473.4 97.9 473.3 98.6 473.3 99.3 473.3 100 473.2 100.7 473.2 101.4 473.1 102.1 473.1 102.8 473 103.5 473 104.2 472.9 104.9 472.9 105.6 472.8 106.3 472.8 107 472.7 107.7 472.7 108.4 472.6 109.1 472.6 109.8 472.5 110.5 472.5 111.2 472.4 111.9 472.4 112.6 472.3 113.3 472.3 114 472.2 114.7 472.2 115.4 472.1 116.1 472.1 116.8 472 117.5 472 118.2 471.9 118.9 471.9 119.6 471.8 120.3 471.8 121.1 471.7 121.8 471.6 122.5 471.6 123.2 471.5 123.9 471.5 124.6 471.4 125.3 471.3 126 471.3 126.7 471.2 127.4 471.2 128.1 471.1 128.8 471 129.5 471 130.2 470.9 130.9 470.8 131.6 470.8 132.3 470.7 133 470.6 133.7 470.6 134.4 470.5 135.1 470.4 135.8 470.3 136.5 470.3 137.2 470.2 137.9 470.1 138.6 470.1 139.3 470 140 469.9 140.7 469.8 141.4 469.7 142.1 469.7 142.8 469.6 143.5 469.5 144.2 469.4 144.9 469.3 145.6 469.3 146.3 469.2 147 469.1 147.7 469 148.4 468.9 149.1 468.8 149.8 468.8 150.5 468.7 151.2 468.6 151.9 468.5 152.6 468.4 153.3 468.3 154 468.2 154.7 468.1 155.4 468 156.1 467.9 156.8 467.8 157.5 467.7 158.2 467.6 158.9 467.5 159.6 467.4 160.3 467.3 161 467.2 161.7 467.1 162.4 467 163.1 466.9 163.8 466.8 164.5 466.7 165.2 466.5 165.9 466.4 166.6 466.3 167.3 466.2 168 466.1 168.7 466 169.4 465.9 170.1 465.7 170.8 465.6 171.5 465.5 172.2 465.4 172.9 465.2 173.6 465.1 174.3 465 175 464.9 175.7 464.7 176.4 464.6 177.1 464.5 177.8 464.3 178.5 464.2 179.2 464.1 179.9 463.9 180.6 463.8 181.3 463.6 182 463.5 182.7 463.3 183.4 463.2 184.1 463.1 184.8 462.9 185.5 462.8 186.2 462.6 186.9 462.5 187.6 462.3 188.3 462.1 189 462 189.7 461.8 190.4 461.7 191.1 461.5 191.8 461.3 192.5 461.2 193.2 461 193.9 460.8 194.6 460.7 195.3 460.5 196 460.3 196.7 460.2 197.4 460 198.1 459.8 198.8 459.6 199.5 459.4 200.2 459.3 200.9 459.1 201.6 458.9 202.3 458.7 203 458.5 203.7 458.3 204.4 458.1 205.1 457.9 205.8 457.7 206.5 457.5 207.2 457.3 207.9 457.1 208.6 456.9 209.3 456.7 210 456.5 210.7 456.3 211.4 456.1 212.1 455.9 212.8 455.7 213.5 455.5 214.2 455.3 214.9 455 215.6 454.8 216.3 454.6 217 454.4 217.7 454.1 218.4 453.9 219.1 453.7 219.8 453.4 220.5 453.2 221.2 453 221.9 452.7 222.6 452.5 223.3 452.3 224 452 224.7 451.8 225.4 451.5 226.1 451.3 226.8 451 227.5 450.8 228.2 450.5 228.9 450.2 229.6 450 230.3 449.7 231 449.5 231.7 449.2 232.4 448.9 233.1 448.6 233.8 448.4 234.5 448.1 235.2 447.8 235.9 447.5 236.6 447.3 237.3 447 238 446.7 238.7 446.4 239.4 446.1 240.1 445.8 240.8 445.5 241.5 445.2 242.2 444.9 242.9 444.6 243.6 444.3 244.3 444 245 443.7 245.7 443.4 246.4 443.1 247.1 442.8 247.8 442.5 248.5 442.1 249.2 441.8 249.9 441.5 250.6 441.2 251.3 440.8 252 440.5 252.7 440.2 253.4 439.8 254.1 439.5 254.8 439.2 255.5 438.8 256.2 438.5 256.9 438.1 257.6 437.8 258.3 437.4 259 437.1 259.7 436.7 260.4 436.3 261.2 436 261.9 435.6 262.6 435.2 263.3 434.8 264 434.4 264.7 434 265.4 433.6 266.1 433.2 266.8 432.7 267.5 432.3 268.2 431.8 268.9 431.3 269.6 430.9 270.3 430.4 271 429.9 271.7 429.3 272.4 428.8 273.1 428.3 273.8 427.7 274.5 427.1 275.2 426.5 275.9 425.9 276.6 425.3 277.3 424.6 278 423.9 278.7 423.2 279.4 422.5 280.1 421.8 280.8 421 281.5 420.3 282.2 419.5 282.9 418.6 283.6 417.8 284.3 416.9 285 416 285.7 415.1 286.4 414.2 287.1 413.2 287.8 412.2 288.5 411.2 289.2 410.1 289.9 409 290.6 407.9 291.3 406.8 292 405.6 292.7 404.5 293.4 403.3 294.1 402.1 294.8 400.9 295.5 399.6 296.2 398.4 296.9 397.1 297.6 395.8 298.3 394.4 299 393 299.7 391.6 300.4 390.1 301.1 388.6 301.8 387.1 302.5 385.5 303.2 383.8 303.9 382.2 304.6 380.4 305.3 378.6 306 376.8 306.7 374.9 307.4 372.9 308.1 370.9 308.8 368.9 309.5 366.8 310.2 364.7 310.9 362.6 311.6 360.5 312.3 358.3 313 356.1 313.7 353.9 314.4 351.7 315.1 349.5 315.8 347.3 316.5 345.1 317.2 342.8 317.9 340.4 318.6 337.4 319.3 333.8 320 329.5 320.7 325.1 321.4 320.8 322.1 317 322.8 313.3 323.5 309.6 324.2 305.7 324.9 301.6 325.6 297.3 326.3 293 327 288.5 327.7 284.1 328.4 279.7 329.1 275.3 329.8 271.1 330.5 267" fill="none" stroke="#000080" stroke-width="0.7"/>
<path d="M48.9 476.2L52.6 474.1V478.4zM49.6 476.2L53.3 474V478.3zM50.3 476.1L54 474V478.3zM51 476.1L54.7 473.9V478.2zM51.7 476L55.4 473.9V478.2zM52.4 476L56.1 473.8V478.1zM53.1 475.9L56.8 473.8V478.1zM53.8 475.9L57.5 473.8V478zM54.5 475.9L58.2 473.7V478zM55.2 475.8L58.9 473.7V478zM55.9 475.8L59.6 473.6V477.9zM56.6 475.7L60.3 473.6V477.9zM57.3 475.7L61 473.5V477.8zM58 475.6L61.7 473.5V477.8zM58.7 475.6L62.4 473.4V477.7zM59.4 475.5L63.1 473.4V477.7zM60.1 475.5L63.8 473.3V477.6zM60.8 475.4L64.5 473.3V477.6zM61.5 475.4L65.2 473.3V477.5zM62.2 475.4L65.9 473.2V477.5zM62.9 475.3L66.6 473.2V477.5zM63.6 475.3L67.3 473.1V477.4zM64.3 475.2L68 473.1V477.4zM65 475.2L68.7 473V477.3zM65.7 475.1L69.4 473V477.3zM66.4 475.1L70.1 473V477.2zM67.1 475.1L70.8 472.9V477.2zM67.8 475L71.5 472.9V477.2zM68.5 475L72.2 472.8V477.1zM69.2 474.9L72.9 472.8V477.1zM69.9 474.9L73.6 472.7V477zM70.6 474.8L74.3 472.7V477zM71.3 474.8L75 472.7V477zM72 474.8L75.7 472.6V476.9zM72.7 474.7L76.4 472.6V476.9zM73.4 474.7L77.1 472.5V476.8zM74.1 474.6L77.8 472.5V476.8zM74.8 474.6L78.5 472.5V476.7zM75.5 474.6L79.2 472.4V476.7zM76.2 474.5L79.9 472.4V476.7zM76.9 474.5L80.6 472.3V476.6zM77.6 474.4L81.3 472.3V476.6zM78.3 474.4L82 472.2V476.5zM79 474.4L82.7 472.2V476.5zM79.7 474.3L83.4 472.2V476.5zM80.4 474.3L84.1 472.1V476.4zM81.1 474.2L84.8 472.1V476.4zM81.8 474.2L85.5 472V476.3zM82.5 474.1L86.2 472V476.3zM83.2 474.1L86.9 472V476.3zM83.9 474.1L87.6 471.9V476.2zM84.6 474L88.3 471.9V476.2zM85.3 474L89 471.8V476.1zM86 473.9L89.7 471.8V476.1zM86.7 473.9L90.4 471.8V476zM87.4 473.9L91.1 471.7V476zM88.1 473.8L91.8 471.7V476zM88.8 473.8L92.5 471.6V475.9zM89.5 473.7L93.2 471.6V475.9zM90.2 473.7L93.9 471.5V475.8zM90.9 473.6L94.6 471.5V475.8zM91.6 473.6L95.3 471.5V475.7zM92.3 473.6L96 471.4V475.7zM93 473.5L96.7 471.4V475.7zM93.7 473.5L97.4 471.3V475.6zM94.4 473.4L98.1 471.3V475.6zM95.1 473.4L98.8 471.2V475.5zM95.8 473.3L99.5 471.2V475.5zM96.5 473.3L100.2 471.2V475.4zM97.2 473.3L100.9 471.1V475.4zM97.9 473.2L101.6 471.1V475.4zM98.6 473.2L102.3 471V475.3zM99.3 473.1L103 471V475.3zM100 473.1L103.7 470.9V475.2zM100.7 473L104.4 470.9V475.2zM101.4 473L105.1 470.8V475.1zM102.1 472.9L105.8 470.8V475.1zM102.8 472.9L106.5 470.7V475zM103.5 472.8L107.2 470.7V475zM104.2 472.8L107.9 470.6V474.9zM104.9 472.7L108.6 470.6V474.9zM105.6 472.7L109.3 470.6V474.8zM106.3 472.6L110 470.5V474.8zM107 472.6L110.7 470.5V474.7zM107.7 472.6L111.4 470.4V474.7zM108.4 472.5L112.1 470.4V474.6zM109.1 472.5L112.8 470.3V474.6zM109.8 472.4L113.5 470.3V474.5zM110.5 472.3L114.2 470.2V474.5zM111.2 472.3L114.9 470.2V474.4zM111.9 472.2L115.6 470.1V474.4zM112.6 472.2L116.3 470V474.3zM113.3 472.1L117 470V474.3zM114 472.1L117.7 469.9V474.2zM114.7 472L118.4 469.9V474.2zM115.4 472L119.1 469.8V474.1zM116.1 471.9L119.8 469.8V474.1zM116.8 471.9L120.5 469.7V474zM117.5 471.8L121.2 469.7V474zM118.2 471.8L121.9 469.6V473.9zM118.9 471.7L122.6 469.6V473.8zM119.6 471.6L123.3 469.5V473.8zM120.3 471.6L124 469.4V473.7zM121 471.5L124.7 469.4V473.7zM121.7 471.5L125.4 469.3V473.6zM122.4 471.4L126.1 469.3V473.5zM123.1 471.3L126.8 469.2V473.5zM123.8 471.3L127.5 469.1V473.4zM124.5 471.2L128.2 469.1V473.4zM125.2 471.2L128.9 469V473.3zM125.9 471.1L129.6 468.9V473.2zM126.6 471L130.3 468.9V473.2zM127.3 471L131 468.8V473.1zM128 470.9L131.7 468.8V473zM128.7 470.8L132.4 468.7V473zM129.4 470.8L133.1 468.6V472.9zM130.1 470.7L133.8 468.6V472.8zM130.8 470.6L134.5 468.5V472.8zM131.5 470.6L135.2 468.4V472.7zM132.2 470.5L135.9 468.3V472.6zM132.9 470.4L136.6 468.3V472.6zM133.6 470.4L137.3 468.2V472.5zM134.3 470.3L138 468.1V472.4zM135 470.2L138.7 468.1V472.4zM135.7 470.1L139.4 468V472.3zM136.4 470.1L140.1 467.9V472.2zM137.1 470L140.8 467.8V472.1zM137.8 469.9L141.5 467.8V472.1zM138.5 469.8L142.2 467.7V472zM139.2 469.8L142.9 467.6V471.9zM139.9 469.7L143.6 467.5V471.8zM140.6 469.6L144.3 467.5V471.7zM141.3 469.5L145 467.4V471.7zM142 469.4L145.7 467.3V471.6zM142.7 469.4L146.4 467.2V471.5zM143.4 469.3L147.1 467.1V471.4zM144.1 469.2L147.8 467V471.3zM144.8 469.1L148.5 467V471.3zM145.5 469L149.2 466.9V471.2zM146.2 468.9L149.9 466.8V471.1zM146.9 468.8L150.6 466.7V471zM147.6 468.8L151.3 466.6V470.9zM148.3 468.7L152 466.5V470.8zM149 468.6L152.7 466.4V470.7zM149.7 468.5L153.4 466.3V470.6zM150.4 468.4L154.1 466.3V470.5zM151.1 468.3L154.8 466.2V470.4zM151.8 468.2L155.5 466.1V470.4zM152.5 468.1L156.2 466V470.3zM153.2 468L156.9 465.9V470.2zM153.9 467.9L157.6 465.8V470.1zM154.6 467.8L158.3 465.7V470zM155.3 467.7L159 465.6V469.9zM156 467.6L159.7 465.5V469.8zM156.7 467.5L160.4 465.4V469.7zM157.4 467.4L161.1 465.3V469.6zM158.1 467.3L161.8 465.2V469.5zM158.8 467.2L162.5 465.1V469.4zM159.5 467.1L163.2 465V469.3zM160.2 467L163.9 464.9V469.1zM160.9 466.9L164.6 464.7V469zM161.6 466.8L165.3 464.6V468.9zM162.3 466.7L166 464.5V468.8zM163 466.6L166.7 464.4V468.7zM163.7 466.4L167.4 464.3V468.6zM164.4 466.3L168.1 464.2V468.5zM165.1 466.2L168.8 464.1V468.4zM165.8 466.1L169.5 464V468.2zM166.5 466L170.2 463.8V468.1zM167.2 465.9L170.9 463.7V468zM167.9 465.7L171.6 463.6V467.9zM168.6 465.6L172.3 463.5V467.8zM169.3 465.5L173 463.4V467.6zM170 465.4L173.7 463.2V467.5zM170.7 465.3L174.4 463.1V467.4zM171.4 465.1L175.1 463V467.3zM172.1 465L175.8 462.9V467.1zM172.8 464.9L176.5 462.7V467zM173.5 464.7L177.2 462.6V466.9zM174.2 464.6L177.9 462.5V466.8zM174.9 464.5L178.6 462.3V466.6zM175.6 464.3L179.3 462.2V466.5zM176.3 464.2L180 462.1V466.4zM177 464.1L180.7 461.9V466.2zM177.7 463.9L181.4 461.8V466.1zM178.4 463.8L182.1 461.6V465.9zM179.1 463.7L182.8 461.5V465.8zM179.8 463.5L183.5 461.4V465.7zM180.5 463.4L184.2 461.2V465.5zM181.2 463.2L184.9 461.1V465.4zM181.9 463.1L185.6 460.9V465.2zM182.6 462.9L186.3 460.8V465.1zM183.3 462.8L187 460.6V464.9zM184 462.6L187.7 460.5V464.8zM184.7 462.5L188.4 460.3V464.6zM185.4 462.3L189.1 460.2V464.5zM186.1 462.2L189.8 460V464.3zM186.8 462L190.5 459.9V464.2zM187.5 461.9L191.2 459.7V464zM188.2 461.7L191.9 459.5V463.8zM188.9 461.5L192.6 459.4V463.7zM189.6 461.4L193.3 459.2V463.5zM190.3 461.2L194 459.1V463.3zM191 461L194.7 458.9V463.2zM191.7 460.9L195.4 458.7V463zM192.4 460.7L196.1 458.6V462.8zM193.1 460.5L196.8 458.4V462.7zM193.8 460.4L197.5 458.2V462.5zM194.5 460.2L198.2 458V462.3zM195.2 460L198.9 457.9V462.2zM195.9 459.8L199.6 457.7V462zM196.6 459.7L200.3 457.5V461.8zM197.3 459.5L201 457.3V461.6zM198 459.3L201.7 457.1V461.4zM198.7 459.1L202.4 457V461.3zM199.4 458.9L203.1 456.8V461.1zM200.1 458.7L203.8 456.6V460.9zM200.8 458.5L204.5 456.4V460.7zM201.5 458.4L205.2 456.2V460.5zM202.2 458.2L205.9 456V460.3zM202.9 458L206.6 455.8V460.1zM203.6 457.8L207.3 455.6V459.9zM204.3 457.6L208 455.4V459.7zM205 457.4L208.7 455.2V459.5zM205.7 457.2L209.4 455V459.3zM206.4 457L210.1 454.8V459.1zM207.1 456.8L210.8 454.6V458.9zM207.8 456.6L211.5 454.4V458.7zM208.5 456.4L212.2 454.2V458.5zM209.2 456.1L212.9 454V458.3zM209.9 455.9L213.6 453.8V458.1zM210.6 455.7L214.3 453.6V457.9zM211.3 455.5L215 453.4V457.6zM212 455.3L215.7 453.1V457.4zM212.7 455.1L216.4 452.9V457.2zM213.4 454.8L217.1 452.7V457zM214.1 454.6L217.8 452.5V456.8zM214.8 454.4L218.5 452.3V456.5zM215.5 454.2L219.2 452V456.3zM216.2 453.9L219.9 451.8V456.1zM216.9 453.7L220.6 451.6V455.9zM217.6 453.5L221.3 451.3V455.6zM218.3 453.3L222 451.1V455.4zM219 453L222.7 450.9V455.2zM219.7 452.8L223.4 450.6V454.9zM220.4 452.5L224.1 450.4V454.7zM221.1 452.3L224.8 450.2V454.4zM221.8 452.1L225.5 449.9V454.2zM222.5 451.8L226.2 449.7V454zM223.2 451.6L226.9 449.4V453.7zM223.9 451.3L227.6 449.2V453.5zM224.6 451.1L228.3 448.9V453.2zM225.3 450.8L229 448.7V452.9zM226 450.5L229.7 448.4V452.7zM226.7 450.3L230.4 448.1V452.4zM227.4 450L231.1 447.9V452.2zM228.1 449.8L231.8 447.6V451.9zM228.8 449.5L232.5 447.4V451.6zM229.5 449.2L233.2 447.1V451.4zM230.2 449L233.9 446.8V451.1zM230.9 448.7L234.6 446.5V450.8zM231.6 448.4L235.3 446.3V450.5zM232.3 448.1L236 446V450.3zM233.1 447.8L236.8 445.7V450zM233.8 447.5L237.5 445.4V449.7zM234.5 447.3L238.2 445.1V449.4zM235.2 447L238.9 444.8V449.1zM236 446.7L239.7 444.5V448.8zM236.7 446.3L240.4 444.2V448.5zM237.5 446L241.2 443.9V448.2zM238.2 445.7L241.9 443.6V447.9zM239 445.4L242.7 443.3V447.6zM239.7 445.1L243.4 442.9V447.2zM240.5 444.8L244.2 442.6V446.9zM241.2 444.4L244.9 442.3V446.6zM242 444.1L245.7 442V446.2zM242.8 443.8L246.5 441.6V445.9zM243.5 443.4L247.2 441.3V445.6zM244.3 443.1L248 440.9V445.2zM245.1 442.7L248.8 440.6V444.9zM245.9 442.4L249.6 440.2V444.5zM246.7 442L250.4 439.9V444.2zM247.5 441.6L251.2 439.5V443.8zM248.2 441.3L252 439.1V443.4zM249 440.9L252.7 438.8V443.1zM249.8 440.5L253.5 438.4V442.7zM250.6 440.1L254.4 438V442.3zM251.5 439.8L255.2 437.6V441.9zM252.3 439.4L256 437.2V441.5zM253.1 439L256.8 436.8V441.1zM253.9 438.6L257.6 436.4V440.7zM254.7 438.1L258.4 436V440.3zM255.6 437.7L259.3 435.6V439.9zM256.4 437.3L260.1 435.2V439.5zM257.2 436.9L260.9 434.7V439zM258.1 436.4L261.8 434.3V438.6zM258.9 436L262.6 433.9V438.1zM259.8 435.5L263.5 433.4V437.7zM260.6 435.1L264.3 432.9V437.2zM261.5 434.6L265.2 432.4V436.7zM262.3 434.1L266 431.9V436.2zM263.2 433.6L266.9 431.4V435.7zM264.1 433L267.8 430.9V435.2zM265 432.5L268.7 430.4V434.6zM265.8 431.9L269.5 429.8V434.1zM266.7 431.3L270.4 429.2V433.5zM267.6 430.7L271.3 428.6V432.9zM268.5 430.1L272.2 428V432.2zM269.4 429.4L273.1 427.3V431.6zM270.3 428.7L274 426.6V430.9zM271.2 428L274.9 425.9V430.2zM272.1 427.3L275.8 425.1V429.4zM273 426.5L276.7 424.4V428.6zM274 425.7L277.7 423.5V427.8zM274.9 424.8L278.6 422.7V427zM275.8 423.9L279.5 421.8V426.1zM276.7 423L280.4 420.9V425.2zM277.7 422.1L281.4 419.9V424.2zM278.6 421L282.3 418.9V423.2zM279.6 420L283.3 417.8V422.1zM280.5 418.9L284.2 416.7V421zM281.5 417.7L285.2 415.6V419.9zM282.5 416.5L286.2 414.4V418.7zM283.4 415.2L287.1 413.1V417.4zM284.4 413.9L288.1 411.8V416.1zM285.4 412.5L289.1 410.4V414.7zM286.4 411.1L290.1 409V413.2zM287.4 409.6L291.1 407.4V411.7zM288.3 408L292.1 405.9V410.2zM289.3 406.4L293.1 404.3V408.6zM290.4 404.8L294.1 402.6V406.9zM291.4 403.1L295.1 400.9V405.2zM292.4 401.3L296.1 399.2V403.5zM293.4 399.5L297.1 397.4V401.7zM294.4 397.6L298.1 395.5V399.8zM295.5 395.7L299.2 393.5V397.8zM296.5 393.7L300.2 391.5V395.8zM297.5 391.6L301.3 389.4V393.7zM298.6 389.3L302.3 387.2V391.5zM299.7 387L303.4 384.9V389.2zM300.7 384.6L304.4 382.4V386.7zM301.8 382L305.5 379.9V384.2zM302.9 379.3L306.6 377.2V381.5zM303.9 376.5L307.6 374.4V378.6zM305 373.5L308.7 371.4V375.7zM306.1 370.4L309.8 368.3V372.6zM307.2 367.2L310.9 365.1V369.4zM308.3 363.9L312 361.8V366.1zM309.4 360.5L313.1 358.4V362.7zM310.5 357L314.2 354.9V359.2zM311.7 353.5L315.4 351.4V355.7zM312.8 350L316.5 347.8V352.1zM313.9 346.4L317.6 344.2V348.5zM315.1 342.7L318.8 340.6V344.9zM316.2 338.4L319.9 336.3V340.6zM317.4 332.4L321.1 330.3V334.6zM318.5 325.1L322.2 323V327.3zM319.7 318.3L323.4 316.1V320.4zM320.9 312.1L324.6 310V314.3zM322.1 305.6L325.8 303.5V307.7zM323.3 298.5L327 296.4V300.7zM324.5 291.1L328.2 288.9V293.2zM325.7 283.4L329.4 281.3V285.6zM326.9 275.9L330.6 273.7V278zM328.1 268.5L331.8 266.4V270.7z" fill="#000080"/>
</g>
<path d="M51 266.8H345.1V476.8H51z" fill="none" stroke="#000" stroke-width="1.9"/>
<path d="M51 266.1V477.8" stroke="#000" stroke-width="2.1"/>
<path d="M50 476.8H345.9" stroke="#000" stroke-width="2.1"/>
<path d="M46 476.8H51M48 441.8H51M46 406.8H51M48 371.8H51M46 336.8H51M48 301.8H51M46 266.8H51M51.7 476.8V481.3M74.3 476.8V479.3M96.9 476.8V481.3M119.5 476.8V479.3M142 476.8V481.3M164.6 476.8V479.3M187.2 476.8V481.3M209.8 476.8V479.3M232.4 476.8V481.3M254.9 476.8V479.3M277.5 476.8V481.3M300.1 476.8V479.3M322.7 476.8V481.3" stroke="#000" stroke-width="1.6"/>
<g font-family="Liberation Sans, sans-serif" font-size="9.2" fill="#222"><text x="42.6" y="479.5" text-anchor="end">0.0</text><text x="42.6" y="409.5" text-anchor="end">0.5</text><text x="42.6" y="339.5" text-anchor="end">1.0</text><text x="42.6" y="269.5" text-anchor="end">1.5</text><text x="51.7" y="491.3" text-anchor="middle">1.2</text><text x="96.9" y="491.3" text-anchor="middle">1.6</text><text x="142" y="491.3" text-anchor="middle">2.0</text><text x="187.2" y="491.3" text-anchor="middle">2.4</text><text x="232.4" y="491.3" text-anchor="middle">2.8</text><text x="277.5" y="491.3" text-anchor="middle">3.2</text><text x="322.7" y="491.3" text-anchor="middle">3.6</text></g>
<rect x="51.8" y="267.6" width="78.2" height="73.6" fill="#fff" stroke="#c8c8c8" stroke-width="0.8"/>
<g font-family="Liberation Sans, sans-serif" font-size="10" font-weight="bold" fill="#000"><path d="M58.8 278.8H82.8" stroke="#808080" stroke-width="0.9"/><path d="M69 276.9h3.8v3.8h-3.8z" fill="#000000"/><text x="85.8" y="282.3" textLength="36" lengthAdjust="spacingAndGlyphs">5-sccm</text><path d="M58.8 290.4H82.8" stroke="#ff6060" stroke-width="0.9"/><path d="M70 288.5h1.7l1 1v1.7l-1 1h-1.7l-1 -1v-1.7z" fill="#ff0000"/><text x="85.8" y="293.9" textLength="36" lengthAdjust="spacingAndGlyphs">6-sccm</text><path d="M58.8 301.9H82.8" stroke="#6060ff" stroke-width="0.9"/><path d="M70.9 299.8L73 303.4H68.8z" fill="#0000ff"/><text x="85.8" y="305.4" textLength="36" lengthAdjust="spacingAndGlyphs">7-sccm</text><path d="M58.8 313.5H82.8" stroke="#ffb0ff" stroke-width="0.9"/><path d="M70.9 315.5L73 311.9H68.8z" fill="#ff00ff"/><text x="85.8" y="317" textLength="36" lengthAdjust="spacingAndGlyphs">8-sccm</text><path d="M58.8 325H82.8" stroke="#e0f0e0" stroke-width="0.9"/><path d="M70.9 322.8L73.1 325L70.9 327.2L68.7 325z" fill="#008000"/><text x="85.8" y="328.5" textLength="36" lengthAdjust="spacingAndGlyphs">9-sccm</text><path d="M58.8 336.6H82.8" stroke="#b0b0e0" stroke-width="0.9"/><path d="M68.8 336.6L72.4 334.5V338.6z" fill="#000080"/><text x="85.8" y="340.1" textLength="41.6" lengthAdjust="spacingAndGlyphs">10-sccm</text></g>
<text x="189.5" y="301.3" font-family="Liberation Sans, sans-serif" font-weight="bold" font-size="13.5" textLength="15.7" lengthAdjust="spacingAndGlyphs">(b)</text>
<text x="143.1" y="508.2" font-family="Liberation Sans, sans-serif" font-weight="bold" font-size="9.9" textLength="110.3" lengthAdjust="spacingAndGlyphs" fill="#111">Photon Energy (eV)</text>
<text transform="translate(23.2 436.6) rotate(-90)" font-family="Liberation Sans, sans-serif" font-weight="normal" font-size="11.5" textLength="26.2" lengthAdjust="spacingAndGlyphs" fill="#111" stroke="#111" stroke-width="0.25">(αhν)</text>
<text transform="translate(14.6 411.6) rotate(-90)" font-family="Liberation Sans, sans-serif" font-weight="normal" font-size="6.7" textLength="4.4" lengthAdjust="spacingAndGlyphs" fill="#111" stroke="#111" stroke-width="0.25">2</text>
<text transform="translate(23.8 404) rotate(-90)" font-family="Liberation Sans, sans-serif" font-weight="normal" font-size="11" textLength="20.6" lengthAdjust="spacingAndGlyphs" fill="#111" stroke="#111" stroke-width="0.25">X 10</text>
<text transform="translate(17.2 383.4) rotate(-90)" font-family="Liberation Sans, sans-serif" font-weight="normal" font-size="10.3" textLength="9.4" lengthAdjust="spacingAndGlyphs" fill="#111" stroke="#111" stroke-width="0.25">10</text>
<text transform="translate(23.9 372.2) rotate(-90)" font-family="Liberation Sans, sans-serif" font-weight="bold" font-size="12.8" textLength="38.4" lengthAdjust="spacingAndGlyphs" fill="#111" stroke="#111" stroke-width="0">(eV/cm)</text>
<text transform="translate(16.7 333.6) rotate(-90)" font-family="Liberation Sans, sans-serif" font-weight="bold" font-size="10.3" textLength="5.6" lengthAdjust="spacingAndGlyphs" fill="#111" stroke="#111" stroke-width="0">2</text>
<defs><clipPath id="ct"><rect x="56" y="5" width="289.7" height="215.2"/></clipPath><clipPath id="cb"><rect x="51" y="266.8" width="294.1" height="210"/></clipPath></defs>
</svg>
</body></html>
